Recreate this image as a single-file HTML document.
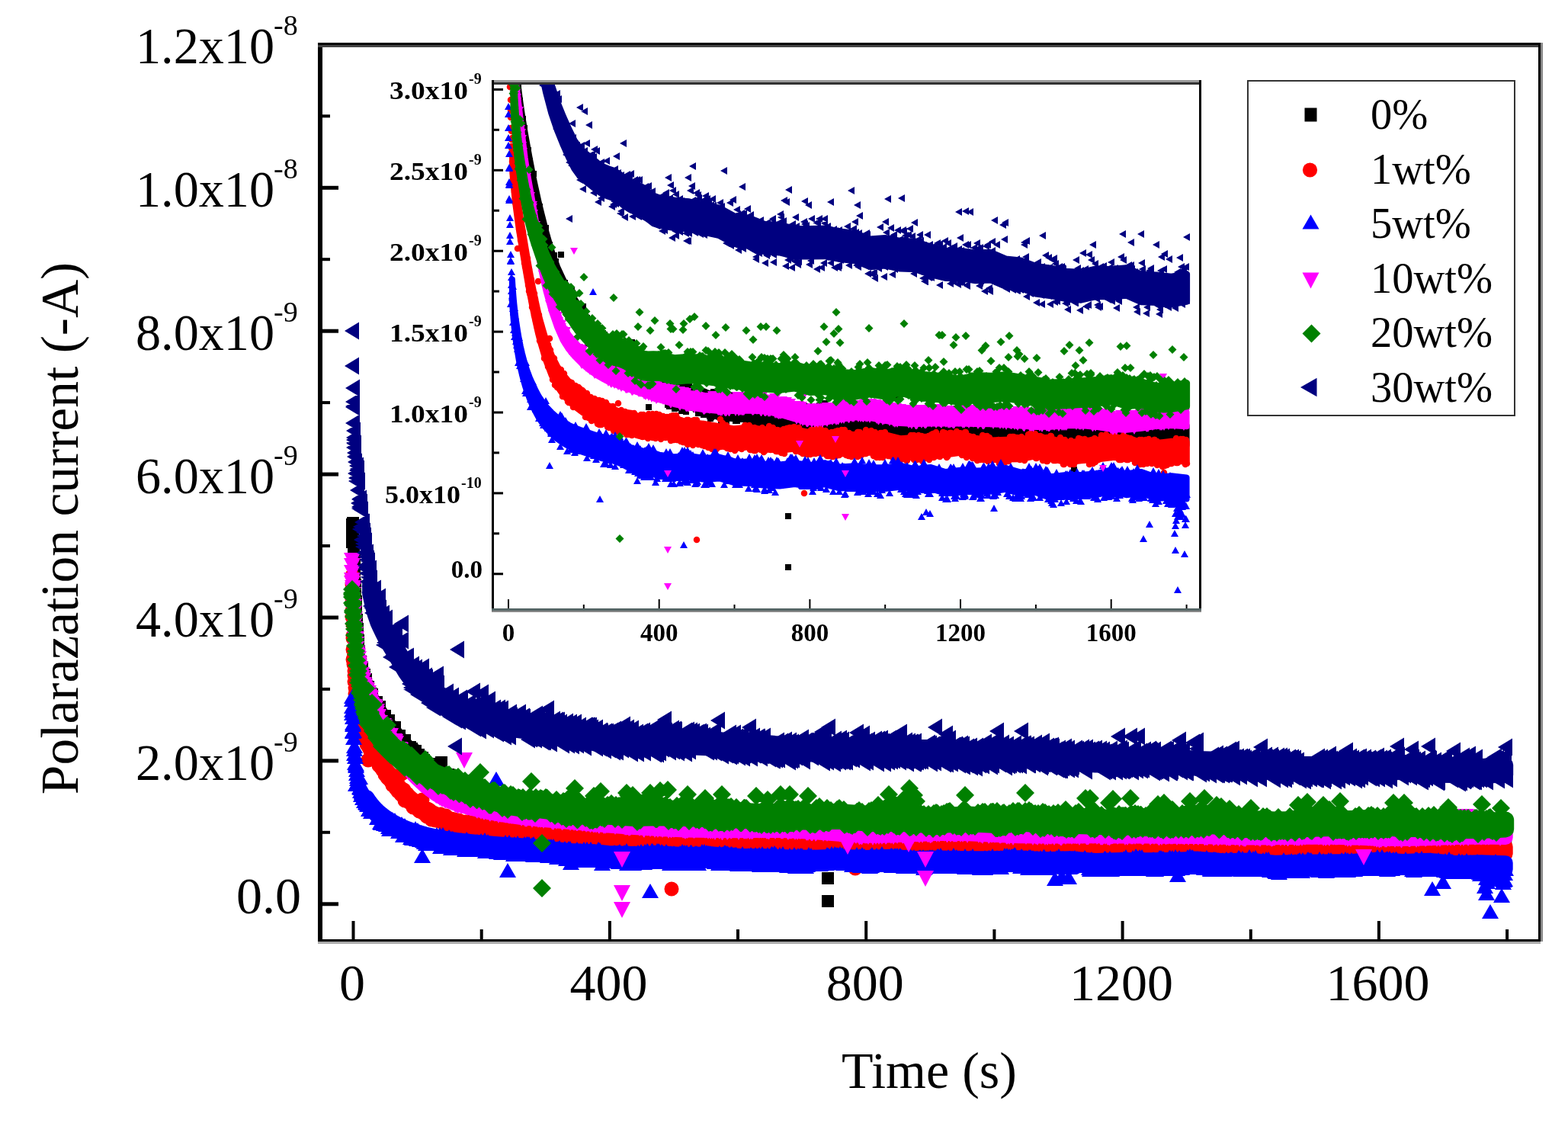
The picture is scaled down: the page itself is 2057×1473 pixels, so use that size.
<!DOCTYPE html>
<html><head><meta charset="utf-8"><style>
html,body{margin:0;padding:0;background:#fff;}
svg{display:block;}
text{font-family:"Liberation Serif","Times New Roman",serif;fill:#000;}
.tl{font-size:68px;}
.sup{font-size:38px;}
.il{font-size:33px;font-weight:bold;}
.isup{font-size:20px;font-weight:bold;}
.lg{font-size:56.5px;}
</style></head><body>
<svg width="2057" height="1473" viewBox="0 0 2057 1473">
<rect width="2057" height="1473" fill="#fff"/>
<defs><clipPath id="ic"><rect x="648" y="111" width="925" height="687"/></clipPath></defs>
<g id="main">
<rect x="417" y="56" width="6" height="1181" fill="#000"/>
<rect x="417" y="56" width="1604" height="3" fill="#000"/>
<rect x="417" y="59" width="1604" height="3" fill="#444"/>
<rect x="2018" y="56" width="3" height="1179" fill="#000"/>
<rect x="2021" y="56" width="3" height="1179" fill="#888"/>
<rect x="417" y="1232" width="1604" height="3" fill="#000"/>
<rect x="417" y="1235" width="1604" height="3" fill="#aaa"/>
<rect x="461.5" y="1208" width="4" height="25" fill="#000"/>
<rect x="629.7" y="1219" width="4" height="14" fill="#000"/>
<rect x="797.9" y="1208" width="4" height="25" fill="#000"/>
<rect x="966.0" y="1219" width="4" height="14" fill="#000"/>
<rect x="1134.2" y="1208" width="4" height="25" fill="#000"/>
<rect x="1302.4" y="1219" width="4" height="14" fill="#000"/>
<rect x="1470.6" y="1208" width="4" height="25" fill="#000"/>
<rect x="1638.8" y="1219" width="4" height="14" fill="#000"/>
<rect x="1806.9" y="1208" width="4" height="25" fill="#000"/>
<rect x="1975.1" y="1219" width="4" height="14" fill="#000"/>
<rect x="422" y="1183.3" width="22" height="5" fill="#000"/>
<rect x="422" y="1089.8" width="11" height="4" fill="#000"/>
<rect x="422" y="995.4" width="22" height="5" fill="#000"/>
<rect x="422" y="901.9" width="11" height="4" fill="#000"/>
<rect x="422" y="807.5" width="22" height="5" fill="#000"/>
<rect x="422" y="714.0" width="11" height="4" fill="#000"/>
<rect x="422" y="619.6" width="22" height="5" fill="#000"/>
<rect x="422" y="526.1" width="11" height="4" fill="#000"/>
<rect x="422" y="431.7" width="22" height="5" fill="#000"/>
<rect x="422" y="338.2" width="11" height="4" fill="#000"/>
<rect x="422" y="243.8" width="22" height="5" fill="#000"/>
<rect x="422" y="150.3" width="11" height="4" fill="#000"/>
<text x="462.0" y="1312" class="tl" text-anchor="middle">0</text>
<text x="798.4" y="1312" class="tl" text-anchor="middle">400</text>
<text x="1134.7" y="1312" class="tl" text-anchor="middle">800</text>
<text x="1471.1" y="1312" class="tl" text-anchor="middle">1200</text>
<text x="1807.4" y="1312" class="tl" text-anchor="middle">1600</text>
<text x="360" y="83.4" class="tl" text-anchor="end" textLength="182" lengthAdjust="spacingAndGlyphs">1.2x10</text>
<text x="359" y="46.4" class="sup">-8</text>
<text x="360" y="271.3" class="tl" text-anchor="end" textLength="182" lengthAdjust="spacingAndGlyphs">1.0x10</text>
<text x="359" y="234.3" class="sup">-8</text>
<text x="360" y="459.2" class="tl" text-anchor="end" textLength="182" lengthAdjust="spacingAndGlyphs">8.0x10</text>
<text x="359" y="422.2" class="sup">-9</text>
<text x="360" y="647.1" class="tl" text-anchor="end" textLength="182" lengthAdjust="spacingAndGlyphs">6.0x10</text>
<text x="359" y="610.1" class="sup">-9</text>
<text x="360" y="835.0" class="tl" text-anchor="end" textLength="182" lengthAdjust="spacingAndGlyphs">4.0x10</text>
<text x="359" y="798.0" class="sup">-9</text>
<text x="360" y="1022.9" class="tl" text-anchor="end" textLength="182" lengthAdjust="spacingAndGlyphs">2.0x10</text>
<text x="359" y="985.9" class="sup">-9</text>
<text x="395" y="1197.8" class="tl" text-anchor="end">0.0</text>
<text x="1219" y="1427" class="tl" text-anchor="middle">Time (s)</text>
<text transform="translate(102 693) rotate(-90)" class="tl" style="font-size:69.5px" text-anchor="middle">Polarazation current (-A)</text>
</g>

<g id="maindata">
<path d="M481.8 900.2 485.1 907.6 488.5 914.2 491.9 920.2 495.2 925.7 498.6 930.8 502.0 935.8 505.3 940.7 508.7 945.5 512.1 950.1 515.4 954.6 518.8 958.8 522.1 963.0 525.5 967.0 528.9 970.9 532.2 974.6 535.6 978.2 539.0 981.6 542.3 985.1 545.7 988.4 558.3 999.9 570.9 1009.0 583.5 1016.2 596.1 1022.2 608.8 1027.5 621.4 1032.4 634.0 1037.1 646.6 1041.5 659.2 1045.5 671.8 1048.9 684.4 1051.7 697.1 1054.1 709.7 1056.4 722.3 1059.0 734.9 1061.9 747.5 1064.6 760.1 1067.0 772.7 1069.1 785.3 1071.0 798.0 1072.8 831.6 1077.4 865.2 1079.2 898.9 1081.4 932.5 1085.3 966.1 1086.0 999.8 1086.7 1033.4 1089.8 1067.0 1091.4 1100.7 1092.6 1134.3 1092.8 1168.0 1092.9 1201.6 1095.7 1235.2 1096.1 1268.9 1094.5 1302.5 1095.8 1336.1 1096.7 1369.8 1096.7 1403.4 1097.1 1437.0 1096.2 1470.7 1097.3 1504.3 1098.5 1538.0 1097.5 1571.6 1098.3 1605.2 1098.8 1638.9 1098.0 1672.5 1099.2 1706.1 1099.4 1739.8 1099.0 1773.4 1100.1 1807.0 1099.5 1840.7 1099.3 1874.3 1100.0 1907.9 1099.5 1941.6 1100.8 1975.2 1101.3 1975.2 1109.0 1941.6 1108.6 1907.9 1107.3 1874.3 1107.8 1840.7 1107.1 1807.0 1107.2 1773.4 1107.8 1739.8 1106.8 1706.1 1107.2 1672.5 1107.0 1638.9 1105.8 1605.2 1106.6 1571.6 1106.0 1538.0 1105.3 1504.3 1106.3 1470.7 1105.0 1437.0 1104.0 1403.4 1104.8 1369.8 1104.5 1336.1 1104.4 1302.5 1103.5 1268.9 1102.2 1235.2 1103.8 1201.6 1103.4 1168.0 1100.6 1134.3 1100.5 1100.7 1100.4 1067.0 1099.2 1033.4 1097.5 999.8 1094.5 966.1 1093.7 932.5 1093.1 898.9 1089.2 865.2 1087.0 831.6 1085.1 798.0 1080.6 785.3 1078.7 772.7 1076.8 760.1 1074.8 747.5 1072.3 734.9 1069.6 722.3 1066.8 709.7 1064.2 697.1 1061.9 684.4 1059.5 671.8 1056.7 659.2 1053.3 646.6 1049.2 634.0 1044.8 621.4 1040.2 608.8 1035.3 596.1 1029.9 583.5 1023.9 570.9 1016.7 558.3 1007.7 545.7 996.2 542.3 992.8 539.0 989.4 535.6 985.9 532.2 982.4 528.9 978.6 525.5 974.8 522.1 970.8 518.8 966.6 515.4 962.3 512.1 957.9 508.7 953.2 505.3 948.4 502.0 943.5 498.6 938.6 495.2 933.4 491.9 928.0 488.5 921.9 485.1 915.3 481.8 907.9z" fill="#000000" stroke="#000000" stroke-width="16" stroke-linejoin="round"/>
<path d="M462 688h0m0 2h0m0 3h0m0 4h0m0 1h0m1 4h0m0 -16h0m0 15h0m0 7h0m0 3h0m1 1h0m0 4h0m0 5h0m1 11h0m0 9h0m0 10h0m1 16h0m0 8h0m1 14h0m0 9h0m0 11h0m1 4h0m0 12h0m1 0h0m0 7h0m1 8h0m0 12h0m0 1h0m1 1h0m0 3h0m1 11h0m0 0h0m1 5h0m0 2h0m0 -7h0m1 12h0m0 -2h0m1 -3h0m0 10h0m0 -1h0m1 1h0m0 2h0m1 8h0m0 -5h0m1 -5h0m0 15h0m0 -10h0m1 5h0m0 6h0m1 -10h0m0 4h0m1 12h0m0 -6h0m0 -1h0m1 5h0m0 -4h0m1 5h0m0 -3h0m0 -2h0m1 12h0m0 -5h0m1 5h0m0 -2h0m1 7h0m0 -1h0m0 -2h0m1 -5h0m1 1h0m1 13h0m0 0h0m2 6h0m3 -9h0m0 3h0m4 3h0m5 20h0m2 -8h0m5 6h0m2 15h0m2 3h0m1 1h0m1 0h0m2 -10h0m1 13h0m5 -2h0m2 11h0m2 3h0m2 1h0m1 -9h0m4 17h0m1 0h0m1 3h0m1 -11h0m1 12h0m1 -10h0m1 10h0m0 -8h0m2 12h0m1 -11h0m1 0h0m3 15h0m1 -10h0m3 12h0m1 4h0m1 -12h0m2 3h0m1 10h0m6 6h0m0 -1h0m1 -10h0m2 13h0m2 -11h0m0 14h0m3 2h0m1 -11h0m2 10h0m4 3h0m0 1h0m1 -23h0m9 16h0m1 3h0m2 11h0m1 -11h0m1 0h0m2 2h0m1 0h0m1 0h0m2 0h0m1 13h0m0 -11h0m2 1h0m1 -2h0m1 1h0m1 12h0m0 2h0m1 -11h0m1 10h0m2 -9h0m1 11h0m0 1h0m5 -1h0m0 3h0m2 -1h0m1 2h0m3 0h0m2 0h0m1 0h0m2 0h0m2 -10h0m1 13h0m1 -10h0m2 12h0m2 -10h0m3 -1h0m2 14h0m1 -3h0m1 3h0m1 1h0m1 -13h0m2 13h0m1 -1h0m1 -10h0m4 2h0m2 11h0m2 -1h0m1 -9h0m1 12h0m2 1h0m1 -13h0m1 0h0m2 3h0m1 12h0m4 -1h0m2 -10h0m3 -1h0m2 15h0m1 -14h0m1 2h0m1 0h0m6 0h0m4 1h0m3 12h0m2 -10h0m4 13h0m2 -2h0m1 -9h0m0 9h0m2 -11h0m4 13h0m2 -12h0m3 13h0m1 1h0m1 0h0m1 -12h0m1 11h0m1 -10h0m0 -1h0m3 0h0m2 14h0m2 -12h0m1 1h0m1 11h0m1 -1h0m9 -9h0m2 -8h0m0 22h0m2 1h0m1 -1h0m1 -11h0m1 1h0m1 11h0m2 -2h0m2 -11h0m1 12h0m1 2h0m3 0h0m1 0h0m1 -11h0m1 0h0m1 1h0m5 12h0m1 1h0m1 -11h0m2 -1h0m1 13h0m1 -3h0m3 -9h0m2 12h0m1 -1h0m1 -9h0m0 20h0m1 -9h0m1 -13h0m2 1h0m2 12h0m1 -13h0m2 1h0m2 14h0m2 -12h0m1 11h0m1 -11h0m1 11h0m5 0h0m1 1h0m1 1h0m2 -11h0m1 11h0m2 -1h0m1 -9h0m2 -2h0m1 11h0m2 0h0m4 2h0m3 -10h0m1 10h0m1 2h0m2 -1h0m1 2h0m2 -13h0m0 13h0m1 -1h0m1 -1h0m1 1h0m2 -1h0m0 0h0m2 0h0m2 1h0m1 1h0m0 1h0m1 -14h0m5 1h0m1 12h0m1 2h0m1 -2h0m1 1h0m1 -10h0m0 0h0m1 9h0m1 2h0m2 -13h0m1 14h0m1 -2h0m1 -11h0m1 11h0m2 1h0m0 -1h0m1 -12h0m1 2h0m2 10h0m1 2h0m4 -1h0m2 -12h0m1 -1h0m2 12h0m2 0h0m2 1h0m4 -1h0m1 1h0m4 1h0m2 0h0m3 1h0m5 -1h0m3 1h0m5 1h0m8 1h0m2 -12h0m1 0h0m2 12h0m0 -11h0m2 12h0m2 0h0m1 0h0m1 -12h0m3 -1h0m1 0h0m2 13h0m1 -2h0m3 -8h0m1 9h0m2 -8h0m2 -1h0m3 11h0m1 1h0m3 0h0m3 -1h0m1 2h0m1 -12h0m4 1h0m0 11h0m3 -11h0m1 -3h0m1 1h0m2 2h0m3 -1h0m1 -2h0m3 1h0m2 -1h0m0 12h0m3 -10h0m1 -1h0m1 12h0m1 -1h0m2 1h0m1 -12h0m3 0h0m2 0h0m1 11h0m1 -1h0m1 0h0m1 -8h0m2 9h0m2 -10h0m3 -1h0m1 -1h0m1 0h0m2 1h0m2 11h0m1 14h0m1 -14h0m1 2h0m1 0h0m2 -2h0m5 1h0m1 1h0m1 -11h0m2 10h0m2 -8h0m1 10h0m1 -1h0m2 -12h0m1 2h0m1 1h0m1 -3h0m3 2h0m3 -1h0m1 0h0m2 3h0m0 11h0m4 -10h0m1 10h0m2 -2h0m3 3h0m1 -13h0m2 1h0m1 -2h0m2 14h0m0 -2h0m1 1h0m3 2h0m1 -1h0m6 1h0m2 -14h0m1 0h0m1 1h0m0 2h0m1 8h0m1 -10h0m6 12h0m2 -13h0m3 3h0m1 10h0m2 -10h0m2 -2h0m1 -16h0m3 16h0m0 14h0m5 -13h0m0 13h0m1 -11h0m4 9h0m0 2h0m2 0h0m3 -13h0m2 13h0m1 -2h0m1 0h0m1 1h0m2 2h0m1 -11h0m5 -2h0m3 12h0m4 0h0m1 -13h0m1 13h0m1 1h0m3 -3h0m3 0h0m2 -9h0m1 -3h0m0 13h0m2 -1h0m1 -9h0m1 10h0m2 0h0m1 0h0m2 2h0m1 -1h0m3 0h0m2 -11h0m2 9h0m3 1h0m1 -1h0m0 -11h0m2 1h0m2 0h0m2 -2h0m1 3h0m4 -1h0m1 12h0m4 -13h0m1 2h0m1 10h0m1 -15h0m1 3h0m1 2h0m2 -2h0m1 12h0m3 -9h0m5 10h0m1 -10h0m1 10h0m3 1h0m1 0h0m1 -11h0m1 -2h0m1 0h0m2 3h0m2 -2h0m1 13h0m1 -11h0m1 -1h0m4 2h0m3 12h0m1 -12h0m1 1h0m2 -1h0m2 9h0m2 -10h0m1 13h0m0 -35h0m2 34h0m1 -12h0m2 12h0m1 -11h0m1 0h0m3 1h0m8 -1h0m2 0h0m1 -1h0m1 -1h0m1 11h0m1 -9h0m2 -2h0m0 0h0m1 14h0m1 -2h0m2 -10h0m1 0h0m4 -1h0m1 12h0m1 -2h0m1 -10h0m2 10h0m2 0h0m0 0h0m1 1h0m3 -12h0m1 0h0m4 0h0m4 10h0m1 -10h0m2 10h0m4 -12h0m1 0h0m1 2h0m6 13h0m2 0h0m2 -3h0m0 0h0m3 2h0m1 1h0m1 -1h0m0 1h0m1 -2h0m1 -11h0m1 12h0m2 1h0m4 -13h0m2 12h0m3 -10h0m2 -2h0m0 14h0m2 -12h0m2 10h0m1 1h0m2 -13h0m1 2h0m1 11h0m1 -1h0m1 -10h0m1 10h0m1 -1h0m1 -8h0m1 0h0m1 10h0m1 1h0m1 -2h0m1 3h0m1 -12h0m2 -13h0m1 12h0m1 11h0m1 -10h0m1 -1h0m0 10h0m1 1h0m2 1h0m1 -13h0m1 14h0m0 -2h0m6 -11h0m0 13h0m2 -3h0m3 0h0m1 -9h0m2 8h0m1 -11h0m1 0h0m0 34h0m2 -34h0m1 3h0m5 0h0m3 10h0m1 -1h0m2 -10h0m6 1h0m1 10h0m0 -11h0m2 10h0m2 0h0m2 0h0m0 -10h0m1 10h0m1 3h0m1 -3h0m1 3h0m1 -13h0m2 12h0m1 -2h0m1 -11h0m2 2h0m1 -2h0m1 1h0m4 11h0m2 0h0m2 -12h0m1 12h0m4 -11h0m1 10h0m1 3h0m1 -2h0m2 0h0m6 2h0m0 -2h0m1 -12h0m1 14h0m3 -3h0m4 2h0m1 -2h0m4 -10h0m2 0h0m0 -1h0m1 0h0m1 0h0m3 1h0m0 11h0m4 1h0m1 -2h0m1 -10h0m1 0h0m3 10h0m3 -12h0m2 14h0m1 -2h0m0 2h0m1 -1h0m1 -12h0m2 13h0m1 -12h0m2 15h0m3 -15h0m1 0h0m1 0h0m1 0h0m2 13h0m2 4h0m1 -16h0m2 10h0m1 -11h0m2 2h0m1 -1h0m2 13h0m0 -3h0m2 1h0m2 -11h0m1 12h0m1 -13h0m2 13h0m3 -2h0m0 -8h0m2 9h0m2 -9h0m3 -3h0m1 12h0m1 -11h0m2 2h0m1 0h0m1 -2h0m5 0h0m2 1h0m1 -1h0m1 13h0m1 -1h0m1 0h0m1 -13h0m1 12h0m0 -11h0m2 -1h0m1 2h0m6 -2h0m1 13h0m1 -1h0m2 -10h0m2 0h0m1 11h0m0 -12h0m4 13h0m1 -3h0m1 -11h0m3 13h0m1 -13h0m1 -1h0m2 14h0m1 -11h0m1 -3h0m1 3h0m0 -2h0m2 12h0m1 -12h0m1 12h0m2 -10h0m3 9h0m1 2h0m1 -2h0m1 2h0m1 0h0m2 1h0m1 -1h0m0 1h0m3 -14h0m1 14h0m1 -3h0m0 -9h0m3 -2h0m2 13h0m0 1h0m3 0h0m1 -1h0m2 -17h0m3 19h0m3 0h0m2 -12h0m1 -2h0m1 14h0m0 -15h0m1 13h0m1 -10h0m1 -1h0m1 1h0m1 11h0m2 -2h0m1 3h0m1 -15h0m1 4h0m1 -3h0m0 12h0m1 -12h0m1 0h0m1 0h0m2 12h0m1 2h0m1 19h0m2 -21h0m2 -13h0m1 1h0m2 0h0m1 11h0m1 -10h0m1 11h0m2 -23h0m2 10h0m0 11h0m2 1h0m1 1h0m1 0h0m1 -12h0m0 -1h0m2 11h0m1 -8h0m2 -1h0m5 12h0m1 -1h0m2 -1h0m3 1h0m0 -1h0m1 0h0m1 -9h0m1 -3h0m1 2h0m1 -1h0m1 13h0m1 -13h0m2 14h0m1 -15h0m1 1h0m0 12h0m4 1h0m1 -2h0m2 -10h0m2 -2h0m1 12h0m1 3h0m1 -1h0m1 -12h0m1 11h0m2 1h0m4 -10h0m2 9h0m3 -10h0m1 -2h0m0 3h0m3 9h0m1 0h0m1 1h0m2 -10h0m3 10h0m1 -12h0m1 0h0m1 2h0m1 -2h0m2 2h0m0 -3h0m1 13h0m1 -11h0m1 -1h0m2 2h0m0 -2h0m3 11h0m1 -1h0m4 3h0m1 18h0m1 -31h0m1 2h0m4 11h0m1 -11h0m0 -4h0m1 15h0m1 -12h0m2 27h0m1 -28h0m0 12h0m2 -13h0m4 0h0m1 12h0m1 -10h0m1 11h0m1 -10h0m1 15h0m0 -4h0m2 -2h0m2 -12h0m1 13h0m0 -1h0m1 -12h0m2 0h0m2 12h0m1 -11h0m1 1h0m4 -2h0m2 13h0m2 -10h0m2 8h0m2 3h0m1 0h0m1 -11h0m2 -1h0m3 -1h0m1 3h0m1 0h0m1 -12h0m1 21h0m2 2h0m4 0h0m3 -1h0m2 0h0m1 -12h0m1 10h0m2 -10h0m3 0h0m1 13h0m1 -2h0m1 0h0m1 0h0m1 0h0m0 0h0m2 0h0m3 -1h0m1 -11h0m4 11h0m1 -9h0m1 9h0m2 -10h0m2 11h0m1 -1h0m2 -12h0m6 0h0m1 1h0m3 12h0m3 1h0m1 -12h0m5 11h0m1 -1h0m4 0h0m2 -11h0m1 12h0m1 -12h0m1 2h0m1 0h0m1 11h0m1 0h0m1 -1h0m4 2h0m2 -1h0m2 -1h0m1 1h0m1 -1h0m3 0h0m1 -1h0m1 1h0m2 2h0m0 -13h0m2 10h0m2 -9h0m1 -1h0m2 0h0m1 0h0m2 0h0m2 11h0m2 -10h0m1 11h0m3 1h0m3 -3h0m1 3h0m3 -12h0m1 12h0m0 -11h0m2 -1h0m1 10h0m2 -13h0m0 12h0m1 0h0m2 1h0m1 -11h0m1 -1h0m1 11h0m0 2h0m1 -12h0m1 0h0m1 1h0m1 -1h0m1 10h0m1 2h0m1 0h0m1 -12h0m2 -2h0m2 3h0m1 -3h0m2 13h0m1 -12h0m2 11h0m1 -10h0m2 11h0m1 -1h0m3 -10h0m1 2h0m0 10h0m2 -11h0m2 0h0m1 10h0m1 -10h0m1 11h0m1 1h0m1 -12h0m1 10h0m1 2h0m1 0h0m1 -1h0m3 2h0m0 -12h0m1 11h0m1 -1h0m1 -9h0m2 11h0m0 -14h0m1 12h0m3 -11h0m2 1h0m0 10h0m1 -10h0m1 10h0m2 -12h0m2 0h0m2 12h0m1 -9h0m1 10h0m0 -11h0m1 0h0m4 11h0m2 2h0m4 -2h0m-888 41h0m0 30h0m-624 -494h0m0 23h0" stroke="#000000" stroke-width="16" stroke-linecap="square" fill="none"/>
<path d="M481.8 968.9 485.1 975.1 488.5 980.7 491.9 986.0 495.2 991.2 498.6 996.4 502.0 1001.7 505.3 1006.8 508.7 1011.6 512.1 1016.2 515.4 1020.6 518.8 1024.9 522.1 1029.1 525.5 1033.1 528.9 1036.8 532.2 1040.2 535.6 1043.3 539.0 1046.3 542.3 1049.2 545.7 1051.9 558.3 1060.7 570.9 1067.1 583.5 1071.8 596.1 1075.6 608.8 1078.7 621.4 1081.1 634.0 1083.3 646.6 1085.7 659.2 1087.4 671.8 1088.3 684.4 1089.6 697.1 1091.7 709.7 1093.3 722.3 1093.5 734.9 1094.0 747.5 1095.4 760.1 1096.5 772.7 1096.0 785.3 1095.6 798.0 1096.5 831.6 1096.9 865.2 1099.7 898.9 1100.3 932.5 1101.7 966.1 1103.2 999.8 1102.4 1033.4 1103.7 1067.0 1104.2 1100.7 1103.5 1134.3 1105.3 1168.0 1105.5 1201.6 1105.6 1235.2 1106.7 1268.9 1105.6 1302.5 1106.6 1336.1 1108.8 1369.8 1108.2 1403.4 1108.2 1437.0 1106.9 1470.7 1105.7 1504.3 1108.6 1538.0 1109.9 1571.6 1109.5 1605.2 1109.4 1638.9 1107.5 1672.5 1108.9 1706.1 1111.4 1739.8 1110.3 1773.4 1109.7 1807.0 1108.5 1840.7 1108.1 1874.3 1111.2 1907.9 1111.5 1941.6 1110.4 1975.2 1110.8 1975.2 1118.6 1941.6 1118.2 1907.9 1119.3 1874.3 1119.0 1840.7 1115.9 1807.0 1116.3 1773.4 1117.4 1739.8 1118.1 1706.1 1119.2 1672.5 1116.7 1638.9 1115.3 1605.2 1117.2 1571.6 1117.3 1538.0 1117.7 1504.3 1116.4 1470.7 1113.5 1437.0 1114.7 1403.4 1116.0 1369.8 1116.0 1336.1 1116.6 1302.5 1114.4 1268.9 1113.4 1235.2 1114.5 1201.6 1113.3 1168.0 1113.3 1134.3 1113.1 1100.7 1111.3 1067.0 1112.0 1033.4 1111.5 999.8 1110.1 966.1 1111.0 932.5 1109.5 898.9 1108.0 865.2 1107.5 831.6 1104.7 798.0 1104.3 785.3 1103.4 772.7 1103.8 760.1 1104.2 747.5 1103.2 734.9 1101.7 722.3 1101.3 709.7 1101.1 697.1 1099.5 684.4 1097.4 671.8 1096.1 659.2 1095.2 646.6 1093.4 634.0 1091.1 621.4 1088.9 608.8 1086.5 596.1 1083.3 583.5 1079.6 570.9 1074.9 558.3 1068.5 545.7 1059.7 542.3 1057.0 539.0 1054.1 535.6 1051.1 532.2 1048.0 528.9 1044.6 525.5 1040.9 522.1 1036.9 518.8 1032.7 515.4 1028.4 512.1 1024.0 508.7 1019.4 505.3 1014.5 502.0 1009.5 498.6 1004.2 495.2 999.0 491.9 993.8 488.5 988.4 485.1 982.8 481.8 976.7z" fill="#ff0000" stroke="#ff0000" stroke-width="19" stroke-linejoin="round"/>
<path d="M462 755h0m0 12h0m0 19h0m0 15h0m0 8h0m1 10h0m0 15h0m0 3h0m0 28h0m0 -13h0m1 10h0m0 8h0m0 1h0m1 9h0m0 6h0m0 8h0m1 8h0m0 8h0m1 6h0m0 4h0m0 6h0m1 2h0m0 9h0m1 -4h0m0 4h0m1 -4h0m0 5h0m0 8h0m1 -3h0m0 9h0m1 0h0m0 4h0m1 -10h0m0 4h0m0 9h0m1 -4h0m0 -3h0m1 3h0m0 1h0m0 8h0m1 0h0m0 -3h0m1 -3h0m0 9h0m1 2h0m0 -8h0m0 9h0m1 -8h0m0 5h0m1 -2h0m0 -1h0m1 3h0m0 1h0m0 8h0m1 0h0m0 -6h0m1 27h0m0 -27h0m0 0h0m1 5h0m0 1h0m1 -2h0m0 5h0m1 1h0m0 5h0m0 -8h0m1 9h0m2 4h0m0 -9h0m1 11h0m1 -7h0m1 10h0m2 -7h0m0 10h0m3 6h0m2 2h0m2 2h0m1 2h0m2 1h0m0 -8h0m1 13h0m1 -8h0m1 1h0m1 11h0m1 1h0m3 -6h0m2 12h0m1 3h0m1 0h0m3 4h0m1 -10h0m0 2h0m1 2h0m1 10h0m4 4h0m1 -27h0m3 21h0m1 14h0m3 -9h0m2 10h0m1 -6h0m3 9h0m2 5h0m2 -1h0m3 -6h0m0 1h0m3 11h0m1 -10h0m1 1h0m2 -6h0m1 8h0m5 14h0m1 -10h0m2 1h0m1 2h0m2 11h0m3 0h0m1 -1h0m1 2h0m2 -8h0m0 0h0m1 8h0m4 -8h0m2 2h0m1 33h0m2 -22h0m1 -10h0m1 -1h0m1 2h0m1 1h0m4 9h0m1 -8h0m1 9h0m1 2h0m0 -2h0m1 2h0m1 0h0m1 -10h0m3 1h0m0 0h0m2 0h0m3 11h0m1 -1h0m4 -7h0m1 -1h0m1 2h0m1 -2h0m5 1h0m2 10h0m1 -10h0m2 1h0m3 9h0m1 -9h0m1 11h0m1 -10h0m1 10h0m1 -8h0m3 10h0m2 -1h0m1 -11h0m2 12h0m2 1h0m1 -10h0m2 8h0m2 -8h0m1 10h0m0 2h0m2 -1h0m2 -9h0m1 8h0m0 -8h0m1 8h0m1 -9h0m1 1h0m3 9h0m1 -8h0m1 10h0m1 -10h0m1 10h0m1 -1h0m0 1h0m1 -11h0m3 9h0m1 -8h0m0 11h0m2 -12h0m3 3h0m1 7h0m1 -8h0m5 0h0m1 2h0m1 -17h0m1 26h0m1 -9h0m0 0h0m1 8h0m1 2h0m1 -1h0m1 -9h0m1 9h0m2 -9h0m4 0h0m0 1h0m2 10h0m1 -1h0m2 0h0m0 -8h0m3 1h0m2 8h0m1 -15h0m1 16h0m2 -9h0m2 8h0m0 1h0m2 -9h0m1 -1h0m2 1h0m0 9h0m2 -1h0m2 -7h0m1 -1h0m0 9h0m1 -10h0m2 10h0m2 1h0m6 0h0m1 -1h0m4 2h0m0 0h0m4 -10h0m1 -1h0m2 10h0m1 0h0m9 2h0m4 -11h0m1 10h0m3 1h0m1 -10h0m1 1h0m4 0h0m3 0h0m2 1h0m1 9h0m0 -11h0m1 -1h0m1 1h0m2 9h0m1 0h0m1 -8h0m2 -1h0m1 -1h0m1 11h0m1 -2h0m1 2h0m3 -10h0m1 10h0m0 -10h0m1 -1h0m4 11h0m2 -8h0m1 -3h0m1 3h0m1 -2h0m1 11h0m1 0h0m2 -2h0m1 -6h0m1 -3h0m1 1h0m1 2h0m3 0h0m0 8h0m2 -8h0m2 -2h0m1 1h0m0 8h0m2 0h0m2 0h0m1 -8h0m1 0h0m2 10h0m1 -12h0m2 1h0m1 2h0m1 -3h0m2 1h0m1 10h0m0 -9h0m5 -2h0m0 12h0m2 -3h0m1 -8h0m3 2h0m1 -1h0m3 10h0m1 -9h0m2 -1h0m1 11h0m1 0h0m1 0h0m1 14h0m3 -23h0m2 9h0m0 0h0m1 -11h0m1 12h0m2 -11h0m1 9h0m2 -7h0m1 -1h0m1 9h0m1 -8h0m1 -1h0m1 -1h0m2 11h0m1 -11h0m1 2h0m2 -3h0m1 11h0m1 -9h0m3 -1h0m1 10h0m2 1h0m3 -1h0m2 -9h0m4 10h0m1 -10h0m1 1h0m1 10h0m1 0h0m1 0h0m1 -2h0m1 -8h0m3 1h0m3 10h0m2 -11h0m4 1h0m2 9h0m1 2h0m1 0h0m1 0h0m1 -10h0m1 1h0m1 9h0m1 -10h0m1 8h0m1 -8h0m1 10h0m1 -1h0m1 0h0m0 0h0m1 -9h0m1 9h0m1 0h0m1 -1h0m2 -8h0m1 -6h0m1 15h0m3 -1h0m1 -10h0m3 0h0m1 9h0m0 0h0m1 1h0m4 -9h0m1 1h0m1 9h0m3 -9h0m1 7h0m2 3h0m3 -1h0m2 0h0m1 0h0m1 -7h0m2 8h0m2 1h0m5 -10h0m3 1h0m5 -2h0m0 1h0m2 9h0m3 -10h0m2 1h0m3 -2h0m1 0h0m2 10h0m7 -10h0m1 11h0m1 -1h0m1 1h0m1 -2h0m4 1h0m1 1h0m1 -33h0m1 32h0m1 -9h0m0 11h0m1 16h0m1 -27h0m3 9h0m3 -7h0m1 -1h0m4 10h0m3 -1h0m0 -10h0m1 10h0m1 0h0m2 2h0m1 -2h0m0 1h0m1 -1h0m3 -9h0m1 1h0m0 -1h0m3 0h0m2 7h0m1 -8h0m0 1h0m2 0h0m1 0h0m1 9h0m1 0h0m2 -2h0m1 -8h0m2 9h0m1 1h0m4 1h0m3 -10h0m1 10h0m2 -2h0m5 2h0m0 1h0m3 0h0m1 -1h0m1 -10h0m1 1h0m1 1h0m1 9h0m5 -11h0m1 0h0m2 10h0m0 -11h0m2 1h0m1 -1h0m1 10h0m4 -10h0m2 1h0m3 -2h0m1 10h0m2 1h0m1 1h0m1 -10h0m1 8h0m2 1h0m1 0h0m2 -10h0m1 3h0m1 0h0m0 9h0m2 -1h0m1 -8h0m4 9h0m2 0h0m1 0h0m1 -1h0m2 -8h0m3 0h0m1 10h0m2 -1h0m1 0h0m1 -21h0m2 12h0m1 10h0m2 -12h0m1 2h0m0 -1h0m2 10h0m1 0h0m1 -8h0m1 -1h0m0 7h0m3 2h0m2 -11h0m0 -1h0m2 1h0m2 9h0m1 3h0m1 -11h0m1 -2h0m3 12h0m1 -11h0m2 12h0m1 -10h0m1 0h0m1 7h0m2 -7h0m2 -1h0m1 9h0m2 3h0m1 -2h0m1 -8h0m2 8h0m1 2h0m4 -2h0m0 -8h0m1 -1h0m2 2h0m1 9h0m1 0h0m5 -9h0m1 -3h0m1 12h0m1 -11h0m3 -1h0m3 11h0m2 -2h0m2 0h0m1 -9h0m1 10h0m2 0h0m4 -11h0m2 11h0m1 1h0m1 -2h0m2 -7h0m1 10h0m1 -1h0m1 1h0m1 -11h0m2 10h0m1 -9h0m3 10h0m1 -10h0m2 0h0m1 -20h0m2 21h0m4 0h0m1 -1h0m1 -1h0m1 11h0m2 -11h0m1 11h0m1 -11h0m2 10h0m1 -9h0m1 8h0m1 1h0m2 -1h0m2 0h0m2 -8h0m2 8h0m1 0h0m1 -10h0m1 1h0m1 8h0m1 -8h0m1 9h0m1 -9h0m1 1h0m4 8h0m1 -9h0m1 -2h0m1 4h0m2 8h0m1 -9h0m0 10h0m1 -2h0m2 1h0m1 -10h0m1 1h0m2 10h0m1 0h0m6 0h0m2 -10h0m0 0h0m3 0h0m1 -1h0m1 11h0m2 -10h0m1 9h0m2 -11h0m1 -18h0m3 20h0m2 9h0m1 1h0m1 -2h0m1 2h0m1 0h0m1 -2h0m0 1h0m2 -8h0m2 8h0m1 -8h0m0 10h0m1 0h0m1 -9h0m2 -1h0m2 9h0m2 -1h0m1 0h0m1 2h0m1 0h0m0 -9h0m2 9h0m1 0h0m2 1h0m2 1h0m1 -1h0m2 -9h0m0 9h0m1 -1h0m1 -8h0m4 -1h0m1 1h0m4 9h0m0 -1h0m1 -8h0m1 9h0m1 -10h0m4 0h0m4 -2h0m0 2h0m1 8h0m2 0h0m2 -10h0m1 12h0m1 -10h0m2 8h0m3 -8h0m1 10h0m1 -11h0m1 0h0m2 1h0m2 0h0m2 9h0m1 -7h0m1 -3h0m1 12h0m2 -10h0m0 9h0m2 -11h0m1 1h0m1 9h0m1 -9h0m0 0h0m1 1h0m3 8h0m2 -8h0m1 -2h0m2 12h0m4 -3h0m1 -10h0m1 9h0m1 -7h0m1 8h0m1 -10h0m1 11h0m1 -2h0m2 -8h0m3 -3h0m2 11h0m1 -1h0m4 0h0m0 -7h0m1 9h0m3 -2h0m1 0h0m1 0h0m1 -9h0m1 2h0m1 -1h0m2 0h0m0 1h0m1 -1h0m1 -1h0m3 12h0m1 -1h0m4 -10h0m0 0h0m2 0h0m1 -1h0m2 10h0m0 -10h0m5 1h0m1 1h0m0 -2h0m2 9h0m2 -8h0m1 -2h0m3 1h0m1 1h0m3 0h0m1 0h0m3 0h0m0 0h0m1 10h0m1 -2h0m1 -1h0m2 -7h0m4 -1h0m2 0h0m2 12h0m3 -10h0m3 1h0m7 9h0m0 0h0m1 -10h0m6 9h0m1 -8h0m1 8h0m1 -8h0m1 10h0m0 -1h0m1 -9h0m2 8h0m2 1h0m1 1h0m4 -10h0m0 8h0m1 -9h0m2 11h0m1 1h0m1 -12h0m2 9h0m1 1h0m1 -10h0m2 0h0m1 12h0m1 -10h0m3 -1h0m1 1h0m2 8h0m2 -8h0m1 1h0m5 0h0m2 9h0m3 0h0m2 -8h0m1 7h0m2 -9h0m1 11h0m2 -10h0m2 0h0m10 9h0m1 -2h0m0 0h0m4 0h0m1 -7h0m1 9h0m2 -1h0m1 -11h0m3 29h0m2 -29h0m2 2h0m0 -1h0m1 9h0m1 -10h0m1 3h0m1 -1h0m1 8h0m0 -8h0m3 -2h0m3 2h0m1 0h0m2 -1h0m1 0h0m1 10h0m1 -1h0m2 -9h0m1 2h0m1 8h0m1 -10h0m4 10h0m0 -9h0m3 7h0m1 0h0m4 -10h0m1 0h0m1 9h0m1 -9h0m2 0h0m1 0h0m3 9h0m1 0h0m2 -8h0m3 10h0m1 -11h0m1 12h0m2 -1h0m2 -10h0m1 9h0m2 1h0m3 -10h0m2 0h0m0 2h0m1 9h0m3 0h0m1 -10h0m2 9h0m4 2h0m1 -11h0m1 10h0m1 1h0m1 -2h0m1 0h0m1 0h0m2 0h0m1 -10h0m1 0h0m1 10h0m1 -8h0m1 8h0m2 -8h0m1 9h0m0 -1h0m1 0h0m1 1h0m1 -2h0m1 1h0m1 1h0m2 0h0m3 -1h0m1 -8h0m1 0h0m1 1h0m2 -2h0m1 0h0m2 1h0m1 9h0m2 0h0m2 2h0m2 1h0m1 -12h0m0 1h0m1 0h0m2 1h0m1 -1h0m1 1h0m0 0h0m1 9h0m3 0h0m1 0h0m1 -9h0m1 10h0m1 -11h0m1 0h0m3 1h0m2 9h0m2 1h0m1 -11h0m2 1h0m2 0h0m1 7h0m3 -9h0m1 0h0m1 9h0m1 0h0m2 -9h0m2 9h0m1 -8h0m4 18h0m1 -19h0m1 0h0m2 1h0m2 8h0m1 1h0m4 -8h0m0 10h0m2 0h0m2 -2h0m1 -10h0m1 11h0m3 0h0m3 -2h0m1 -10h0m2 12h0m1 -2h0m3 0h0m2 0h0m1 -1h0m2 -8h0m4 -3h0m3 2h0m1 8h0m4 -9h0m1 0h0m2 -1h0m1 11h0m2 -9h0m1 1h0m2 0h0m1 -2h0m5 10h0m1 -8h0m1 -2h0m0 0h0m1 1h0m1 9h0m1 -10h0m1 9h0m1 -9h0m1 10h0m1 -8h0m3 8h0m2 -9h0m1 0h0m1 10h0m2 -1h0m1 0h0m3 1h0m2 -1h0m1 -1h0m1 -10h0m1 1h0m1 11h0m0 -1h0m2 0h0m4 1h0m0 0h0m1 -1h0m1 -9h0m2 10h0m1 -9h0m4 -1h0m4 10h0m3 -8h0m2 0h0m1 10h0m2 -2h0m1 1h0m1 -9h0m1 1h0m1 7h0m1 2h0m2 -11h0m1 11h0m1 1h0m3 -10h0m1 -2h0m3 12h0m1 -10h0m2 -1h0m2 -1h0m1 10h0m2 1h0m1 0h0m1 -9h0m1 -2h0m3 10h0m1 -9h0m2 1h0m2 10h0m1 -10h0m3 -2h0m1 1h0m1 -1h0m1 11h0m0 -2h0m1 -7h0m1 9h0m1 -1h0m1 2h0m1 -11h0m0 1h0m6 8h0m0 -8h0m2 9h0m1 -9h0m3 11h0m2 -1h0m1 -10h0m1 16h0m0 -5h0m3 -32h0m1 31h0m1 -10h0m0 10h0m2 -2h0m2 -8h0m2 0h0m1 9h0m1 -1h0m3 1h0m1 -9h0m1 0h0m2 8h0m4 -9h0m2 -1h0m1 11h0m0 -2h0m2 1h0m1 -9h0m1 9h0m1 -1h0m5 -10h0m1 11h0m1 -9h0m1 1h0m1 -1h0m1 -1h0m0 10h0m1 -9h0m1 0h0m3 11h0m1 -12h0m1 11h0m-1094 46h0m241 -27h0" stroke="#ff0000" stroke-width="19" stroke-linecap="round" fill="none"/>
<path d="M481.8 1045.9 485.1 1050.9 488.5 1055.3 491.9 1059.2 495.2 1062.6 498.6 1065.6 502.0 1068.4 505.3 1070.9 508.7 1073.2 512.1 1075.4 515.4 1077.4 518.8 1079.2 522.1 1081.0 525.5 1082.6 528.9 1084.2 532.2 1085.6 535.6 1086.9 539.0 1088.2 542.3 1089.3 545.7 1090.4 558.3 1093.9 570.9 1096.8 583.5 1099.1 596.1 1101.1 608.8 1102.6 621.4 1103.9 634.0 1105.0 646.6 1106.1 659.2 1107.2 671.8 1108.1 684.4 1108.8 697.1 1109.6 709.7 1110.9 722.3 1112.6 734.9 1114.3 747.5 1115.4 760.1 1116.1 772.7 1116.5 785.3 1117.3 798.0 1118.4 831.6 1119.6 865.2 1119.1 898.9 1120.4 932.5 1119.8 966.1 1122.3 999.8 1122.6 1033.4 1123.8 1067.0 1124.2 1100.7 1123.1 1134.3 1124.4 1168.0 1123.2 1201.6 1125.6 1235.2 1125.0 1268.9 1125.7 1302.5 1125.8 1336.1 1124.7 1369.8 1126.7 1403.4 1125.7 1437.0 1128.4 1470.7 1127.4 1504.3 1127.7 1538.0 1127.4 1571.6 1126.1 1605.2 1128.7 1638.9 1127.9 1672.5 1131.2 1706.1 1130.2 1739.8 1130.1 1773.4 1129.4 1807.0 1127.3 1840.7 1129.4 1874.3 1128.3 1907.9 1131.5 1941.6 1130.7 1975.2 1131.7 1975.2 1140.2 1941.6 1139.2 1907.9 1140.0 1874.3 1136.8 1840.7 1137.9 1807.0 1135.8 1773.4 1137.9 1739.8 1138.7 1706.1 1138.7 1672.5 1139.7 1638.9 1136.5 1605.2 1137.2 1571.6 1134.7 1538.0 1135.9 1504.3 1136.2 1470.7 1135.9 1437.0 1136.9 1403.4 1134.2 1369.8 1135.3 1336.1 1133.2 1302.5 1134.3 1268.9 1134.2 1235.2 1133.5 1201.6 1134.1 1168.0 1131.7 1134.3 1132.9 1100.7 1131.6 1067.0 1132.7 1033.4 1132.4 999.8 1131.2 966.1 1130.8 932.5 1128.3 898.9 1128.9 865.2 1127.6 831.6 1128.1 798.0 1127.0 785.3 1125.9 772.7 1125.1 760.1 1124.6 747.5 1123.9 734.9 1122.8 722.3 1121.1 709.7 1119.4 697.1 1118.2 684.4 1117.4 671.8 1116.6 659.2 1115.7 646.6 1114.6 634.0 1113.5 621.4 1112.4 608.8 1111.2 596.1 1109.6 583.5 1107.6 570.9 1105.3 558.3 1102.4 545.7 1098.9 542.3 1097.9 539.0 1096.7 535.6 1095.5 532.2 1094.1 528.9 1092.7 525.5 1091.2 522.1 1089.5 518.8 1087.8 515.4 1085.9 512.1 1083.9 508.7 1081.8 505.3 1079.5 502.0 1076.9 498.6 1074.2 495.2 1071.1 491.9 1067.7 488.5 1063.9 485.1 1059.5 481.8 1054.5z" fill="#0000ff" stroke="#0000ff" stroke-width="19" stroke-linejoin="round"/>
<path d="M462 904l11 19h-22zm0 4l11 19h-22zm0 9l11 19h-22zm0 5l11 19h-22zm0 4l11 19h-22zm1 5l11 19h-22zm0 10l11 19h-22zm0 -2l11 19h-22zm0 10l11 19h-22zm0 1l11 19h-22zm1 -1l11 19h-22zm0 9l11 19h-22zm0 0l11 19h-22zm1 11l11 19h-22zm0 4l11 19h-22zm0 6l11 19h-22zm1 4l11 19h-22zm0 8l11 19h-22zm1 4l11 19h-22zm0 -2l11 19h-22zm0 26l11 19h-22zm1 -14l11 19h-22zm0 -5l11 19h-22zm1 9l11 19h-22zm0 3l11 19h-22zm1 3l11 19h-22zm0 -4l11 19h-22zm0 5l11 19h-22zm1 -2l11 19h-22zm0 4l11 19h-22zm1 -8l11 19h-22zm0 13l11 19h-22zm1 5l11 19h-22zm0 -6l11 19h-22zm0 2l11 19h-22zm1 0l11 19h-22zm0 9l11 19h-22zm1 -12l11 19h-22zm0 8l11 19h-22zm0 1l11 19h-22zm1 7l11 19h-22zm0 -9l11 19h-22zm1 5l11 19h-22zm0 -7l11 19h-22zm1 11l11 19h-22zm0 4l11 19h-22zm0 -6l11 19h-22zm1 6l11 19h-22zm0 -7l11 19h-22zm1 9l11 19h-22zm0 -4l11 19h-22zm1 2l11 19h-22zm0 -1l11 19h-22zm0 4l11 19h-22zm1 2l11 19h-22zm0 -4l11 19h-22zm1 4l11 19h-22zm0 -4l11 19h-22zm0 4l11 19h-22zm1 6l11 19h-22zm0 -6l11 19h-22zm1 -7l11 19h-22zm0 5l11 19h-22zm1 -1l11 19h-22zm0 1l11 19h-22zm0 7l11 19h-22zm1 4l11 19h-22zm1 -10l11 19h-22zm1 0l11 19h-22zm6 18l11 19h-22zm1 0l11 19h-22zm3 6l11 19h-22zm1 1l11 19h-22zm1 -15l11 19h-22zm3 14l11 19h-22zm0 2l11 19h-22zm3 1l11 19h-22zm3 3l11 19h-22zm1 3l11 19h-22zm2 -3l11 19h-22zm2 -10l11 19h-22zm0 0l11 19h-22zm2 2l11 19h-22zm1 -1l11 19h-22zm2 4l11 19h-22zm3 11l11 19h-22zm2 0l11 19h-22zm1 -8l11 19h-22zm1 -2l11 19h-22zm1 2l11 19h-22zm1 13l11 19h-22zm1 -12l11 19h-22zm1 -1l11 19h-22zm8 16l11 19h-22zm2 1l11 19h-22zm4 -13l11 19h-22zm2 14l11 19h-22zm1 -12l11 19h-22zm2 2l11 19h-22zm1 11l11 19h-22zm2 -10l11 19h-22zm1 31l11 19h-22zm1 -20l11 19h-22zm2 2l11 19h-22zm0 -1l11 19h-22zm2 3l11 19h-22zm3 -2l11 19h-22zm4 -9l11 19h-22zm2 10l11 19h-22zm1 1l11 19h-22zm4 -12l11 19h-22zm4 0l11 19h-22zm1 16l11 19h-22zm3 -16l11 19h-22zm1 3l11 19h-22zm1 1l11 19h-22zm1 10l11 19h-22zm5 -11l11 19h-22zm1 1l11 19h-22zm2 14l11 19h-22zm1 -13l11 19h-22zm1 0l11 19h-22zm3 11l11 19h-22zm1 -10l11 19h-22zm1 11l11 19h-22zm1 0l11 19h-22zm1 1l11 19h-22zm3 0l11 19h-22zm1 -11l11 19h-22zm5 13l11 19h-22zm1 -3l11 19h-22zm1 -11l11 19h-22zm1 1l11 19h-22zm1 13l11 19h-22zm1 -12l11 19h-22zm3 1l11 19h-22zm3 10l11 19h-22zm4 0l11 19h-22zm1 -10l11 19h-22zm2 10l11 19h-22zm1 -9l11 19h-22zm2 -2l11 19h-22zm1 12l11 19h-22zm3 0l11 19h-22zm1 -13l11 19h-22zm1 3l11 19h-22zm0 12l11 19h-22zm3 -13l11 19h-22zm7 13l11 19h-22zm4 -10l11 19h-22zm1 11l11 19h-22zm1 -2l11 19h-22zm5 3l11 19h-22zm1 -3l11 19h-22zm3 -9l11 19h-22zm1 1l11 19h-22zm0 -3l11 19h-22zm3 37l11 19h-22zm2 -37l11 19h-22zm5 12l11 19h-22zm1 4l11 19h-22zm1 -14l11 19h-22zm2 14l11 19h-22zm2 0l11 19h-22zm0 -15l11 19h-22zm2 14l11 19h-22zm1 -11l11 19h-22zm1 9l11 19h-22zm2 2l11 19h-22zm2 0l11 19h-22zm1 -13l11 19h-22zm1 13l11 19h-22zm1 1l11 19h-22zm1 -14l11 19h-22zm1 0l11 19h-22zm1 13l11 19h-22zm1 -13l11 19h-22zm4 1l11 19h-22zm2 14l11 19h-22zm0 -15l11 19h-22zm1 3l11 19h-22zm1 11l11 19h-22zm2 -1l11 19h-22zm4 0l11 19h-22zm1 -9l11 19h-22zm2 -3l11 19h-22zm0 13l11 19h-22zm1 -10l11 19h-22zm2 10l11 19h-22zm1 -11l11 19h-22zm1 12l11 19h-22zm2 -11l11 19h-22zm1 12l11 19h-22zm1 -13l11 19h-22zm2 1l11 19h-22zm1 -1l11 19h-22zm3 0l11 19h-22zm0 1l11 19h-22zm1 12l11 19h-22zm4 2l11 19h-22zm1 -12l11 19h-22zm2 -1l11 19h-22zm5 3l11 19h-22zm2 -2l11 19h-22zm1 11l11 19h-22zm1 3l11 19h-22zm3 -14l11 19h-22zm1 3l11 19h-22zm1 -3l11 19h-22zm1 19l11 19h-22zm1 -16l11 19h-22zm2 11l11 19h-22zm4 1l11 19h-22zm1 -14l11 19h-22zm1 13l11 19h-22zm2 1l11 19h-22zm1 -12l11 19h-22zm1 0l11 19h-22zm1 11l11 19h-22zm2 2l11 19h-22zm1 -15l11 19h-22zm2 12l11 19h-22zm1 0l11 19h-22zm1 -12l11 19h-22zm1 14l11 19h-22zm2 1l11 19h-22zm2 -15l11 19h-22zm4 3l11 19h-22zm0 12l11 19h-22zm1 -12l11 19h-22zm3 10l11 19h-22zm1 -11l11 19h-22zm1 -2l11 19h-22zm2 1l11 19h-22zm3 18l11 19h-22zm3 -6l11 19h-22zm1 3l11 19h-22zm1 0l11 19h-22zm0 -2l11 19h-22zm3 0l11 19h-22zm2 0l11 19h-22zm4 1l11 19h-22zm2 -11l11 19h-22zm1 11l11 19h-22zm1 -10l11 19h-22zm2 11l11 19h-22zm1 -12l11 19h-22zm0 1l11 19h-22zm1 12l11 19h-22zm1 -14l11 19h-22zm1 13l11 19h-22zm1 0l11 19h-22zm1 -10l11 19h-22zm3 -2l11 19h-22zm2 0l11 19h-22zm1 -2l11 19h-22zm1 17l11 19h-22zm2 -3l11 19h-22zm2 1l11 19h-22zm1 0l11 19h-22zm3 2l11 19h-22zm1 -14l11 19h-22zm3 11l11 19h-22zm2 -12l11 19h-22zm0 0l11 19h-22zm3 11l11 19h-22zm1 -12l11 19h-22zm2 15l11 19h-22zm1 -3l11 19h-22zm1 3l11 19h-22zm1 -15l11 19h-22zm2 11l11 19h-22zm1 -12l11 19h-22zm1 1l11 19h-22zm1 13l11 19h-22zm2 0l11 19h-22zm0 1l11 19h-22zm2 -15l11 19h-22zm1 0l11 19h-22zm3 2l11 19h-22zm1 13l11 19h-22zm1 0l11 19h-22zm1 -15l11 19h-22zm2 0l11 19h-22zm1 1l11 19h-22zm3 0l11 19h-22zm1 1l11 19h-22zm1 1l11 19h-22zm2 12l11 19h-22zm2 -14l11 19h-22zm0 2l11 19h-22zm1 12l11 19h-22zm1 -12l11 19h-22zm3 14l11 19h-22zm1 -14l11 19h-22zm0 0l11 19h-22zm2 13l11 19h-22zm1 0l11 19h-22zm1 -13l11 19h-22zm1 1l11 19h-22zm5 10l11 19h-22zm2 -11l11 19h-22zm1 2l11 19h-22zm1 9l11 19h-22zm1 -13l11 19h-22zm1 14l11 19h-22zm1 -12l11 19h-22zm1 -1l11 19h-22zm1 15l11 19h-22zm1 -14l11 19h-22zm1 0l11 19h-22zm0 -1l11 19h-22zm1 15l11 19h-22zm4 -15l11 19h-22zm0 11l11 19h-22zm1 -11l11 19h-22zm2 14l11 19h-22zm1 -1l11 19h-22zm2 -12l11 19h-22zm2 0l11 19h-22zm1 13l11 19h-22zm1 1l11 19h-22zm3 -3l11 19h-22zm2 -13l11 19h-22zm1 12l11 19h-22zm1 1l11 19h-22zm1 -13l11 19h-22zm3 1l11 19h-22zm0 0l11 19h-22zm1 12l11 19h-22zm1 -11l11 19h-22zm1 0l11 19h-22zm2 0l11 19h-22zm3 1l11 19h-22zm3 11l11 19h-22zm5 2l11 19h-22zm1 -14l11 19h-22zm3 11l11 19h-22zm1 -10l11 19h-22zm0 11l11 19h-22zm2 -12l11 19h-22zm1 -1l11 19h-22zm1 1l11 19h-22zm2 13l11 19h-22zm0 -13l11 19h-22zm1 1l11 19h-22zm1 1l11 19h-22zm1 0l11 19h-22zm2 -1l11 19h-22zm1 0l11 19h-22zm1 13l11 19h-22zm1 -12l11 19h-22zm2 0l11 19h-22zm1 0l11 19h-22zm1 0l11 19h-22zm1 1l11 19h-22zm1 12l11 19h-22zm1 -12l11 19h-22zm1 11l11 19h-22zm1 -10l11 19h-22zm1 11l11 19h-22zm1 -12l11 19h-22zm1 -2l11 19h-22zm1 2l11 19h-22zm3 12l11 19h-22zm2 -11l11 19h-22zm2 -1l11 19h-22zm2 1l11 19h-22zm1 -2l11 19h-22zm1 1l11 19h-22zm4 1l11 19h-22zm1 -2l11 19h-22zm1 2l11 19h-22zm2 11l11 19h-22zm2 -13l11 19h-22zm1 14l11 19h-22zm3 -15l11 19h-22zm5 13l11 19h-22zm2 -1l11 19h-22zm0 -11l11 19h-22zm1 13l11 19h-22zm3 0l11 19h-22zm1 -14l11 19h-22zm0 15l11 19h-22zm1 -15l11 19h-22zm1 14l11 19h-22zm2 -15l11 19h-22zm1 16l11 19h-22zm0 -1l11 19h-22zm1 -13l11 19h-22zm4 12l11 19h-22zm1 -12l11 19h-22zm3 1l11 19h-22zm1 -2l11 19h-22zm6 16l11 19h-22zm0 0l11 19h-22zm1 -3l11 19h-22zm2 -11l11 19h-22zm2 3l11 19h-22zm1 -1l11 19h-22zm3 -3l11 19h-22zm2 16l11 19h-22zm3 -15l11 19h-22zm2 2l11 19h-22zm0 0l11 19h-22zm1 -2l11 19h-22zm1 14l11 19h-22zm1 -14l11 19h-22zm5 15l11 19h-22zm2 -2l11 19h-22zm2 -14l11 19h-22zm3 1l11 19h-22zm1 12l11 19h-22zm3 -10l11 19h-22zm2 9l11 19h-22zm5 0l11 19h-22zm1 1l11 19h-22zm3 -1l11 19h-22zm5 0l11 19h-22zm1 -12l11 19h-22zm1 1l11 19h-22zm1 0l11 19h-22zm4 -2l11 19h-22zm0 2l11 19h-22zm1 0l11 19h-22zm3 -2l11 19h-22zm1 2l11 19h-22zm1 -1l11 19h-22zm2 0l11 19h-22zm3 -1l11 19h-22zm3 1l11 19h-22zm2 12l11 19h-22zm8 -10l11 19h-22zm1 1l11 19h-22zm2 11l11 19h-22zm1 0l11 19h-22zm4 -1l11 19h-22zm1 -13l11 19h-22zm3 3l11 19h-22zm1 -1l11 19h-22zm1 13l11 19h-22zm1 -1l11 19h-22zm1 -14l11 19h-22zm3 2l11 19h-22zm1 12l11 19h-22zm3 -10l11 19h-22zm2 9l11 19h-22zm1 3l11 19h-22zm1 -14l11 19h-22zm1 13l11 19h-22zm1 -15l11 19h-22zm4 3l11 19h-22zm2 -2l11 19h-22zm2 13l11 19h-22zm3 -1l11 19h-22zm0 -11l11 19h-22zm1 0l11 19h-22zm1 -3l11 19h-22zm3 15l11 19h-22zm9 -13l11 19h-22zm1 0l11 19h-22zm0 14l11 19h-22zm4 -14l11 19h-22zm1 1l11 19h-22zm2 -1l11 19h-22zm3 1l11 19h-22zm1 -1l11 19h-22zm2 2l11 19h-22zm2 10l11 19h-22zm1 3l11 19h-22zm2 -13l11 19h-22zm3 -1l11 19h-22zm1 1l11 19h-22zm1 -2l11 19h-22zm1 3l11 19h-22zm1 -1l11 19h-22zm4 0l11 19h-22zm1 13l11 19h-22zm2 -2l11 19h-22zm4 -10l11 19h-22zm1 -1l11 19h-22zm4 0l11 19h-22zm1 15l11 19h-22zm1 -1l11 19h-22zm1 -12l11 19h-22zm3 -1l11 19h-22zm3 -1l11 19h-22zm3 13l11 19h-22zm0 -13l11 19h-22zm2 11l11 19h-22zm2 0l11 19h-22zm2 -11l11 19h-22zm0 1l11 19h-22zm1 -2l11 19h-22zm1 0l11 19h-22zm1 12l11 19h-22zm2 -12l11 19h-22zm0 -1l11 19h-22zm1 15l11 19h-22zm1 0l11 19h-22zm3 -2l11 19h-22zm1 -1l11 19h-22zm1 3l11 19h-22zm3 -13l11 19h-22zm4 13l11 19h-22zm2 -13l11 19h-22zm1 -2l11 19h-22zm2 15l11 19h-22zm1 -12l11 19h-22zm1 -1l11 19h-22zm0 12l11 19h-22zm1 1l11 19h-22zm2 -12l11 19h-22zm1 11l11 19h-22zm1 -2l11 19h-22zm1 2l11 19h-22zm1 1l11 19h-22zm4 1l11 19h-22zm0 -15l11 19h-22zm1 13l11 19h-22zm2 1l11 19h-22zm2 1l11 19h-22zm2 -13l11 19h-22zm1 12l11 19h-22zm2 -14l11 19h-22zm1 15l11 19h-22zm9 1l11 19h-22zm1 -3l11 19h-22zm2 -9l11 19h-22zm3 -2l11 19h-22zm0 14l11 19h-22zm4 -1l11 19h-22zm1 -13l11 19h-22zm1 0l11 19h-22zm3 0l11 19h-22zm1 -2l11 19h-22zm0 1l11 19h-22zm6 1l11 19h-22zm1 10l11 19h-22zm4 3l11 19h-22zm0 -13l11 19h-22zm5 -3l11 19h-22zm2 2l11 19h-22zm1 -2l11 19h-22zm3 12l11 19h-22zm0 -11l11 19h-22zm2 12l11 19h-22zm1 -12l11 19h-22zm1 1l11 19h-22zm1 10l11 19h-22zm0 -11l11 19h-22zm2 -2l11 19h-22zm1 1l11 19h-22zm2 12l11 19h-22zm3 -9l11 19h-22zm2 12l11 19h-22zm0 -2l11 19h-22zm1 -12l11 19h-22zm1 1l11 19h-22zm4 13l11 19h-22zm1 -12l11 19h-22zm3 14l11 19h-22zm1 -15l11 19h-22zm1 15l11 19h-22zm1 -15l11 19h-22zm2 11l11 19h-22zm1 3l11 19h-22zm0 -13l11 19h-22zm4 11l11 19h-22zm1 -10l11 19h-22zm1 11l11 19h-22zm0 -11l11 19h-22zm1 13l11 19h-22zm1 -2l11 19h-22zm1 1l11 19h-22zm1 -13l11 19h-22zm1 14l11 19h-22zm0 -1l11 19h-22zm3 -14l11 19h-22zm1 0l11 19h-22zm2 15l11 19h-22zm1 -2l11 19h-22zm3 1l11 19h-22zm0 -1l11 19h-22zm1 -1l11 19h-22zm1 -11l11 19h-22zm6 28l11 19h-22zm2 -28l11 19h-22zm3 -2l11 19h-22zm2 14l11 19h-22zm1 -1l11 19h-22zm0 -10l11 19h-22zm1 24l11 19h-22zm1 -24l11 19h-22zm1 0l11 19h-22zm2 11l11 19h-22zm1 -2l11 19h-22zm0 3l11 19h-22zm2 -1l11 19h-22zm2 14l11 19h-22zm1 -13l11 19h-22zm0 -12l11 19h-22zm1 0l11 19h-22zm1 11l11 19h-22zm2 -11l11 19h-22zm1 0l11 19h-22zm2 -1l11 19h-22zm3 1l11 19h-22zm3 10l11 19h-22zm7 -11l11 19h-22zm1 1l11 19h-22zm5 13l11 19h-22zm1 2l11 19h-22zm2 -14l11 19h-22zm1 11l11 19h-22zm3 0l11 19h-22zm3 3l11 19h-22zm2 0l11 19h-22zm5 -2l11 19h-22zm3 -13l11 19h-22zm1 0l11 19h-22zm4 12l11 19h-22zm1 1l11 19h-22zm1 -13l11 19h-22zm0 1l11 19h-22zm1 13l11 19h-22zm1 1l11 19h-22zm1 -3l11 19h-22zm3 2l11 19h-22zm6 -1l11 19h-22zm2 0l11 19h-22zm1 -12l11 19h-22zm1 11l11 19h-22zm2 -12l11 19h-22zm1 14l11 19h-22zm2 -16l11 19h-22zm0 15l11 19h-22zm2 0l11 19h-22zm2 1l11 19h-22zm1 -1l11 19h-22zm4 -14l11 19h-22zm1 2l11 19h-22zm1 10l11 19h-22zm2 -14l11 19h-22zm1 1l11 19h-22zm1 3l11 19h-22zm1 0l11 19h-22zm0 -1l11 19h-22zm2 -2l11 19h-22zm3 0l11 19h-22zm0 16l11 19h-22zm2 0l11 19h-22zm4 -3l11 19h-22zm2 2l11 19h-22zm2 1l11 19h-22zm1 -1l11 19h-22zm4 -12l11 19h-22zm1 14l11 19h-22zm2 0l11 19h-22zm3 -1l11 19h-22zm2 -15l11 19h-22zm2 0l11 19h-22zm1 1l11 19h-22zm1 12l11 19h-22zm1 -12l11 19h-22zm4 13l11 19h-22zm1 -1l11 19h-22zm1 2l11 19h-22zm2 -15l11 19h-22zm1 0l11 19h-22zm3 0l11 19h-22zm3 1l11 19h-22zm1 -2l11 19h-22zm2 16l11 19h-22zm1 8l11 19h-22zm2 -23l11 19h-22zm2 13l11 19h-22zm1 1l11 19h-22zm1 -2l11 19h-22zm2 1l11 19h-22zm2 0l11 19h-22zm3 -14l11 19h-22zm2 12l11 19h-22zm1 -13l11 19h-22zm3 1l11 19h-22zm1 1l11 19h-22zm2 1l11 19h-22zm0 10l11 19h-22zm7 2l11 19h-22zm1 -12l11 19h-22zm2 11l11 19h-22zm3 2l11 19h-22zm1 -1l11 19h-22zm2 -13l11 19h-22zm0 12l11 19h-22zm2 1l11 19h-22zm3 2l11 19h-22zm0 1l11 19h-22zm4 -14l11 19h-22zm1 0l11 19h-22zm0 14l11 19h-22zm2 -14l11 19h-22zm1 11l11 19h-22zm2 -10l11 19h-22zm1 12l11 19h-22zm1 -2l11 19h-22zm1 2l11 19h-22zm2 1l11 19h-22zm1 -13l11 19h-22zm0 13l11 19h-22zm2 0l11 19h-22zm2 -13l11 19h-22zm1 -1l11 19h-22zm0 0l11 19h-22zm5 0l11 19h-22zm2 0l11 19h-22zm3 11l11 19h-22zm1 2l11 19h-22zm3 -12l11 19h-22zm1 12l11 19h-22zm1 -15l11 19h-22zm1 1l11 19h-22zm1 1l11 19h-22zm1 14l11 19h-22zm2 -15l11 19h-22zm0 15l11 19h-22zm1 -13l11 19h-22zm1 10l11 19h-22zm3 2l11 19h-22zm2 -2l11 19h-22zm2 -14l11 19h-22zm3 14l11 19h-22zm2 -12l11 19h-22zm2 2l11 19h-22zm1 -3l11 19h-22zm1 16l11 19h-22zm3 -1l11 19h-22zm1 0l11 19h-22zm3 1l11 19h-22zm1 -1l11 19h-22zm1 -12l11 19h-22zm2 11l11 19h-22zm1 0l11 19h-22zm1 -12l11 19h-22zm2 2l11 19h-22zm1 -2l11 19h-22zm1 2l11 19h-22zm1 13l11 19h-22zm3 0l11 19h-22zm2 0l11 19h-22zm2 1l11 19h-22zm1 1l11 19h-22zm4 1l11 19h-22zm2 -4l11 19h-22zm2 2l11 19h-22zm1 -2l11 19h-22zm1 -13l11 19h-22zm7 2l11 19h-22zm1 1l11 19h-22zm2 -2l11 19h-22zm1 13l11 19h-22zm1 1l11 19h-22zm1 -3l11 19h-22zm2 -10l11 19h-22zm2 11l11 19h-22zm1 -10l11 19h-22zm1 -2l11 19h-22zm2 -1l11 19h-22zm3 15l11 19h-22zm1 -15l11 19h-22zm3 13l11 19h-22zm3 -13l11 19h-22zm0 13l11 19h-22zm1 -14l11 19h-22zm2 1l11 19h-22zm1 12l11 19h-22zm1 -12l11 19h-22zm2 13l11 19h-22zm3 0l11 19h-22zm0 0l11 19h-22zm2 -1l11 19h-22zm2 1l11 19h-22zm1 1l11 19h-22zm1 -3l11 19h-22zm0 -12l11 19h-22zm1 13l11 19h-22zm3 0l11 19h-22zm1 -11l11 19h-22zm2 13l11 19h-22zm1 0l11 19h-22zm1 1l11 19h-22zm2 -12l11 19h-22zm1 -3l11 19h-22zm3 0l11 19h-22zm1 13l11 19h-22zm4 -10l11 19h-22zm1 9l11 19h-22zm0 2l11 19h-22zm6 -11l11 19h-22zm2 -3l11 19h-22zm1 1l11 19h-22zm1 1l11 19h-22zm3 -3l11 19h-22zm3 1l11 19h-22zm0 14l11 19h-22zm1 -2l11 19h-22zm2 0l11 19h-22zm1 1l11 19h-22zm1 -13l11 19h-22zm1 2l11 19h-22zm3 11l11 19h-22zm2 -1l11 19h-22zm4 -1l11 19h-22zm0 -2l11 19h-22zm1 2l11 19h-22zm5 -14l11 19h-22zm1 15l11 19h-22zm1 -14l11 19h-22zm4 12l11 19h-22zm1 1l11 19h-22zm2 0l11 19h-22zm1 -12l11 19h-22zm0 -1l11 19h-22zm1 14l11 19h-22zm1 -1l11 19h-22zm4 -12l11 19h-22zm1 0l11 19h-22zm1 -3l11 19h-22zm2 3l11 19h-22zm1 13l11 19h-22zm1 -1l11 19h-22zm1 -13l11 19h-22zm1 -2l11 19h-22zm2 15l11 19h-22zm3 -12l11 19h-22zm1 0l11 19h-22zm1 14l11 19h-22zm0 -15l11 19h-22zm3 0l11 19h-22zm2 14l11 19h-22zm1 0l11 19h-22zm1 -12l11 19h-22zm1 -1l11 19h-22zm3 0l11 19h-22zm1 0l11 19h-22zm5 12l11 19h-22zm7 -12l11 19h-22zm9 14l11 19h-22zm1 -1l11 19h-22zm1 2l11 19h-22zm1 -13l11 19h-22zm1 -2l11 19h-22zm0 0l11 19h-22zm2 0l11 19h-22zm3 14l11 19h-22zm1 -3l11 19h-22zm1 -10l11 19h-22zm1 -2l11 19h-22zm3 12l11 19h-22zm1 3l11 19h-22zm1 -3l11 19h-22zm1 2l11 19h-22zm5 -1l11 19h-22zm1 -11l11 19h-22zm1 13l11 19h-22zm1 25l11 19h-22zm1 -28l11 19h-22zm1 3l11 19h-22zm2 -3l11 19h-22zm1 -9l11 19h-22zm0 0l11 19h-22zm3 -1l11 19h-22zm2 12l11 19h-22zm4 17l11 19h-22zm1 -17l11 19h-22zm1 2l11 19h-22zm1 -13l11 19h-22zm3 14l11 19h-22zm1 -2l11 19h-22zm1 -14l11 19h-22zm1 15l11 19h-22zm1 0l11 19h-22zm1 -12l11 19h-22zm1 0l11 19h-22zm0 14l11 19h-22zm2 -13l11 19h-22zm1 12l11 19h-22zm2 -1l11 19h-22zm3 2l11 19h-22zm1 -15l11 19h-22zm2 13l11 19h-22zm0 -10l11 19h-22zm2 -2l11 19h-22zm6 -1l11 19h-22zm1 12l11 19h-22zm4 -10l11 19h-22zm1 12l11 19h-22zm4 1l11 19h-22zm3 -1l11 19h-22zm1 -13l11 19h-22zm1 11l11 19h-22zm1 1l11 19h-22zm1 3l11 19h-22zm1 -3l11 19h-22zm0 5l11 19h-22zm1 -2l11 19h-22zm1 -14l11 19h-22zm1 10l11 19h-22zm1 0l11 19h-22zm1 -6l11 19h-22zm0 9l11 19h-22zm1 2l11 19h-22zm1 -5l11 19h-22zm1 11l11 19h-22zm1 5l11 19h-22zm1 -24l11 19h-22zm1 20l11 19h-22zm0 -10l11 19h-22zm1 4l11 19h-22zm1 -12l11 19h-22zm1 19l11 19h-22zm1 -11l11 19h-22zm1 6l11 19h-22zm0 3l11 19h-22zm1 -6l11 19h-22zm1 3l11 19h-22zm1 2l11 19h-22zm1 -21l11 19h-22zm1 24l11 19h-22zm0 -13l11 19h-22zm1 3l11 19h-22zm1 3l11 19h-22zm1 4l11 19h-22zm1 -19l11 19h-22zm1 12l11 19h-22zm0 -5l11 19h-22zm1 6l11 19h-22zm1 30l11 19h-22zm1 -40l11 19h-22zm1 23l11 19h-22zm1 -3l11 19h-22zm1 -9l11 19h-22zm0 8l11 19h-22zm1 -14l11 19h-22zm-1122 29l11 19h-22zm1102 27l11 19h-22zm-7 -33l11 19h-22zm2 9l11 19h-22zm-1299 -150l11 19h-22z" fill="#0000ff"/>
<path d="M481.8 908.4 485.1 915.3 488.5 922.9 491.9 930.7 495.2 938.2 498.6 945.0 502.0 951.0 505.3 956.3 508.7 961.2 512.1 965.9 515.4 970.7 518.8 975.7 522.1 981.1 525.5 986.8 528.9 992.3 532.2 997.6 535.6 1002.3 539.0 1006.6 542.3 1010.5 545.7 1014.1 558.3 1026.0 570.9 1035.4 583.5 1043.0 596.1 1048.1 608.8 1052.1 621.4 1055.4 634.0 1058.4 646.6 1061.0 659.2 1063.3 671.8 1065.2 684.4 1066.9 697.1 1068.4 709.7 1069.6 722.3 1070.7 734.9 1071.8 747.5 1072.9 760.1 1074.1 772.7 1075.2 785.3 1076.3 798.0 1077.4 831.6 1080.0 865.2 1082.0 898.9 1083.3 932.5 1084.0 966.1 1084.1 999.8 1083.8 1033.4 1084.2 1067.0 1086.0 1100.7 1088.7 1134.3 1090.6 1168.0 1090.6 1201.6 1089.0 1235.2 1087.7 1268.9 1088.1 1302.5 1089.7 1336.1 1091.1 1369.8 1091.6 1403.4 1091.3 1437.0 1091.2 1470.7 1091.4 1504.3 1091.6 1538.0 1091.6 1571.6 1092.0 1605.2 1092.7 1638.9 1093.3 1672.5 1093.2 1706.1 1092.6 1739.8 1092.4 1773.4 1093.3 1807.0 1094.6 1840.7 1095.0 1874.3 1094.1 1907.9 1092.9 1941.6 1092.4 1975.2 1093.1 1975.2 1098.6 1941.6 1098.0 1907.9 1098.4 1874.3 1099.7 1840.7 1100.6 1807.0 1100.2 1773.4 1098.9 1739.8 1098.0 1706.1 1098.2 1672.5 1098.8 1638.9 1098.9 1605.2 1098.3 1571.6 1097.6 1538.0 1097.2 1504.3 1097.1 1470.7 1097.0 1437.0 1096.8 1403.4 1096.9 1369.8 1097.1 1336.1 1096.7 1302.5 1095.3 1268.9 1093.7 1235.2 1093.3 1201.6 1094.6 1168.0 1096.1 1134.3 1096.2 1100.7 1094.2 1067.0 1091.6 1033.4 1089.8 999.8 1089.4 966.1 1089.7 932.5 1089.6 898.9 1088.9 865.2 1087.5 831.6 1085.6 798.0 1083.0 785.3 1081.9 772.7 1080.8 760.1 1079.6 747.5 1078.5 734.9 1077.4 722.3 1076.3 709.7 1075.2 697.1 1073.9 684.4 1072.5 671.8 1070.8 659.2 1068.9 646.6 1066.6 634.0 1064.0 621.4 1061.0 608.8 1057.6 596.1 1053.7 583.5 1048.5 570.9 1041.0 558.3 1031.5 545.7 1019.7 542.3 1016.0 539.0 1012.1 535.6 1007.9 532.2 1003.2 528.9 997.9 525.5 992.4 522.1 986.7 518.8 981.3 515.4 976.3 512.1 971.5 508.7 966.8 505.3 961.9 502.0 956.6 498.6 950.6 495.2 943.8 491.9 936.3 488.5 928.4 485.1 920.9 481.8 914.0z" fill="#ff00ff" stroke="#ff00ff" stroke-width="19" stroke-linejoin="round"/>
<path d="M462 746l11 -21h-22zm0 7l11 -21h-22zm0 9l11 -21h-22zm0 10l11 -21h-22zm0 4l11 -21h-22zm1 6l11 -21h-22zm0 3l11 -21h-22zm0 6l11 -21h-22zm0 7l11 -21h-22zm0 6l11 -21h-22zm1 3l11 -21h-22zm0 6l11 -21h-22zm0 2l11 -21h-22zm1 8l11 -21h-22zm0 7l11 -21h-22zm0 6l11 -21h-22zm1 7l11 -21h-22zm0 6l11 -21h-22zm1 0l11 -21h-22zm0 7l11 -21h-22zm0 6l11 -21h-22zm1 5l11 -21h-22zm0 2l11 -21h-22zm1 2l11 -21h-22zm0 2l11 -21h-22zm1 2l11 -21h-22zm0 5l11 -21h-22zm0 7l11 -21h-22zm1 -5l11 -21h-22zm0 3l11 -21h-22zm1 3l11 -21h-22zm0 1l11 -21h-22zm1 10l11 -21h-22zm0 -1l11 -21h-22zm0 2l11 -21h-22zm1 -4l11 -21h-22zm0 9l11 -21h-22zm1 -1l11 -21h-22zm0 -4l11 -21h-22zm0 3l11 -21h-22zm1 6l11 -21h-22zm0 -5l11 -21h-22zm1 9l11 -21h-22zm0 -4l11 -21h-22zm1 4l11 -21h-22zm0 -2l11 -21h-22zm0 4l11 -21h-22zm1 3l11 -21h-22zm0 -3l11 -21h-22zm1 6l11 -21h-22zm0 -5l11 -21h-22zm1 4l11 -21h-22zm0 -3l11 -21h-22zm0 5l11 -21h-22zm1 2l11 -21h-22zm0 -3l11 -21h-22zm1 -1l11 -21h-22zm0 9l11 -21h-22zm0 -4l11 -21h-22zm1 -1l11 -21h-22zm0 7l11 -21h-22zm1 0l11 -21h-22zm0 -5l11 -21h-22zm1 6l11 -21h-22zm0 1l11 -21h-22zm0 -6l11 -21h-22zm1 8l11 -21h-22zm1 2l11 -21h-22zm1 4l11 -21h-22zm0 0l11 -21h-22zm1 3l11 -21h-22zm1 -6l11 -21h-22zm1 2l11 -21h-22zm1 9l11 -21h-22zm1 -5l11 -21h-22zm0 3l11 -21h-22zm2 4l11 -21h-22zm2 8l11 -21h-22zm1 3l11 -21h-22zm0 1l11 -21h-22zm3 4l11 -21h-22zm1 -4l11 -21h-22zm1 7l11 -21h-22zm0 -5l11 -21h-22zm3 10l11 -21h-22zm2 2l11 -21h-22zm1 3l11 -21h-22zm2 -4l11 -21h-22zm2 9l11 -21h-22zm1 3l11 -21h-22zm1 1l11 -21h-22zm1 -6l11 -21h-22zm1 1l11 -21h-22zm1 2l11 -21h-22zm3 13l11 -21h-22zm1 0l11 -21h-22zm1 -5l11 -21h-22zm1 1l11 -21h-22zm4 14l11 -21h-22zm1 2l11 -21h-22zm3 -3l11 -21h-22zm2 9l11 -21h-22zm1 4l11 -21h-22zm1 -6l11 -21h-22zm4 3l11 -21h-22zm1 9l11 -21h-22zm1 -7l11 -21h-22zm2 3l11 -21h-22zm1 7l11 -21h-22zm1 1l11 -21h-22zm1 -3l11 -21h-22zm2 6l11 -21h-22zm1 -5l11 -21h-22zm1 9l11 -21h-22zm2 1l11 -21h-22zm1 1l11 -21h-22zm3 2l11 -21h-22zm1 2l11 -21h-22zm2 -6l11 -21h-22zm1 8l11 -21h-22zm1 -6l11 -21h-22zm3 8l11 -21h-22zm2 2l11 -21h-22zm1 -6l11 -21h-22zm1 7l11 -21h-22zm1 -6l11 -21h-22zm1 9l11 -21h-22zm1 -1l11 -21h-22zm0 1l11 -21h-22zm1 -7l11 -21h-22zm2 2l11 -21h-22zm1 8l11 -21h-22zm3 2l11 -21h-22zm2 -6l11 -21h-22zm1 -1l11 -21h-22zm1 9l11 -21h-22zm2 -6l11 -21h-22zm1 6l11 -21h-22zm3 -4l11 -21h-22zm1 5l11 -21h-22zm1 -7l11 -21h-22zm2 8l11 -21h-22zm3 3l11 -21h-22zm1 0l11 -21h-22zm2 1l11 -21h-22zm1 0l11 -21h-22zm4 1l11 -21h-22zm4 -6l11 -21h-22zm1 1l11 -21h-22zm1 5l11 -21h-22zm2 2l11 -21h-22zm3 -5l11 -21h-22zm2 0l11 -21h-22zm2 0l11 -21h-22zm1 1l11 -21h-22zm2 1l11 -21h-22zm2 6l11 -21h-22zm1 1l11 -21h-22zm0 -8l11 -21h-22zm5 0l11 -21h-22zm0 9l11 -21h-22zm3 0l11 -21h-22zm1 1l11 -21h-22zm1 -1l11 -21h-22zm2 -5l11 -21h-22zm1 6l11 -21h-22zm2 -7l11 -21h-22zm1 1l11 -21h-22zm0 7l11 -21h-22zm1 1l11 -21h-22zm1 -7l11 -21h-22zm3 0l11 -21h-22zm2 7l11 -21h-22zm3 -6l11 -21h-22zm2 8l11 -21h-22zm1 -7l11 -21h-22zm1 0l11 -21h-22zm1 6l11 -21h-22zm4 -4l11 -21h-22zm2 -2l11 -21h-22zm0 7l11 -21h-22zm2 -7l11 -21h-22zm1 0l11 -21h-22zm2 8l11 -21h-22zm1 -6l11 -21h-22zm2 6l11 -21h-22zm2 -6l11 -21h-22zm1 1l11 -21h-22zm0 -1l11 -21h-22zm1 1l11 -21h-22zm4 0l11 -21h-22zm0 1l11 -21h-22zm1 -1l11 -21h-22zm2 1l11 -21h-22zm1 -1l11 -21h-22zm1 8l11 -21h-22zm1 -8l11 -21h-22zm4 9l11 -21h-22zm2 0l11 -21h-22zm3 -7l11 -21h-22zm4 8l11 -21h-22zm1 -7l11 -21h-22zm4 6l11 -21h-22zm2 -6l11 -21h-22zm1 7l11 -21h-22zm1 -1l11 -21h-22zm1 -6l11 -21h-22zm1 7l11 -21h-22zm1 -7l11 -21h-22zm1 1l11 -21h-22zm2 7l11 -21h-22zm2 -8l11 -21h-22zm6 0l11 -21h-22zm2 7l11 -21h-22zm1 2l11 -21h-22zm1 0l11 -21h-22zm1 -6l11 -21h-22zm0 7l11 -21h-22zm1 -8l11 -21h-22zm1 1l11 -21h-22zm2 6l11 -21h-22zm2 -7l11 -21h-22zm1 6l11 -21h-22zm2 -24l11 -21h-22zm2 24l11 -21h-22zm0 2l11 -21h-22zm1 0l11 -21h-22zm1 -1l11 -21h-22zm2 -6l11 -21h-22zm1 -1l11 -21h-22zm0 1l11 -21h-22zm2 0l11 -21h-22zm3 0l11 -21h-22zm1 8l11 -21h-22zm2 -7l11 -21h-22zm2 1l11 -21h-22zm1 6l11 -21h-22zm3 0l11 -21h-22zm1 0l11 -21h-22zm1 0l11 -21h-22zm0 -6l11 -21h-22zm6 7l11 -21h-22zm1 -1l11 -21h-22zm3 -5l11 -21h-22zm1 7l11 -21h-22zm2 -1l11 -21h-22zm3 1l11 -21h-22zm0 -7l11 -21h-22zm1 7l11 -21h-22zm1 -6l11 -21h-22zm2 6l11 -21h-22zm1 0l11 -21h-22zm0 -15l11 -21h-22zm1 15l11 -21h-22zm2 1l11 -21h-22zm1 -7l11 -21h-22zm1 1l11 -21h-22zm1 -1l11 -21h-22zm0 7l11 -21h-22zm1 1l11 -21h-22zm1 -2l11 -21h-22zm5 2l11 -21h-22zm1 -8l11 -21h-22zm1 8l11 -21h-22zm1 -7l11 -21h-22zm1 6l11 -21h-22zm2 -6l11 -21h-22zm2 1l11 -21h-22zm2 1l11 -21h-22zm3 -1l11 -21h-22zm2 7l11 -21h-22zm2 -7l11 -21h-22zm1 1l11 -21h-22zm4 -1l11 -21h-22zm2 0l11 -21h-22zm1 1l11 -21h-22zm1 6l11 -21h-22zm2 1l11 -21h-22zm1 -6l11 -21h-22zm1 6l11 -21h-22zm1 -1l11 -21h-22zm2 2l11 -21h-22zm1 -1l11 -21h-22zm1 0l11 -21h-22zm0 -6l11 -21h-22zm1 -1l11 -21h-22zm5 2l11 -21h-22zm4 -1l11 -21h-22zm2 7l11 -21h-22zm5 1l11 -21h-22zm1 1l11 -21h-22zm1 -8l11 -21h-22zm2 -1l11 -21h-22zm1 7l11 -21h-22zm4 1l11 -21h-22zm0 -6l11 -21h-22zm1 -1l11 -21h-22zm2 0l11 -21h-22zm3 8l11 -21h-22zm0 0l11 -21h-22zm1 -8l11 -21h-22zm1 0l11 -21h-22zm1 1l11 -21h-22zm1 7l11 -21h-22zm4 -1l11 -21h-22zm2 1l11 -21h-22zm2 -1l11 -21h-22zm3 -5l11 -21h-22zm3 7l11 -21h-22zm2 -7l11 -21h-22zm1 6l11 -21h-22zm1 0l11 -21h-22zm1 -7l11 -21h-22zm2 7l11 -21h-22zm1 -5l11 -21h-22zm0 -1l11 -21h-22zm2 0l11 -21h-22zm8 1l11 -21h-22zm1 6l11 -21h-22zm1 -1l11 -21h-22zm1 1l11 -21h-22zm1 1l11 -21h-22zm1 -28l11 -21h-22zm1 27l11 -21h-22zm0 0l11 -21h-22zm1 0l11 -21h-22zm1 -6l11 -21h-22zm2 0l11 -21h-22zm5 6l11 -21h-22zm1 0l11 -21h-22zm3 -7l11 -21h-22zm1 0l11 -21h-22zm1 2l11 -21h-22zm1 -1l11 -21h-22zm1 -1l11 -21h-22zm1 0l11 -21h-22zm1 0l11 -21h-22zm2 1l11 -21h-22zm3 6l11 -21h-22zm1 -6l11 -21h-22zm1 1l11 -21h-22zm2 6l11 -21h-22zm2 -7l11 -21h-22zm1 7l11 -21h-22zm1 -1l11 -21h-22zm2 1l11 -21h-22zm1 -8l11 -21h-22zm1 1l11 -21h-22zm1 6l11 -21h-22zm0 2l11 -21h-22zm2 -9l11 -21h-22zm1 2l11 -21h-22zm1 -1l11 -21h-22zm1 6l11 -21h-22zm1 1l11 -21h-22zm1 -8l11 -21h-22zm2 9l11 -21h-22zm1 0l11 -21h-22zm3 -7l11 -21h-22zm1 -2l11 -21h-22zm2 9l11 -21h-22zm1 -1l11 -21h-22zm1 -1l11 -21h-22zm3 1l11 -21h-22zm1 -1l11 -21h-22zm4 -5l11 -21h-22zm5 7l11 -21h-22zm1 -9l11 -21h-22zm0 7l11 -21h-22zm6 1l11 -21h-22zm1 -1l11 -21h-22zm1 1l11 -21h-22zm1 -8l11 -21h-22zm1 8l11 -21h-22zm0 0l11 -21h-22zm2 -8l11 -21h-22zm1 8l11 -21h-22zm1 0l11 -21h-22zm2 0l11 -21h-22zm1 0l11 -21h-22zm1 -1l11 -21h-22zm1 -5l11 -21h-22zm2 0l11 -21h-22zm5 5l11 -21h-22zm0 -1l11 -21h-22zm3 1l11 -21h-22zm1 -5l11 -21h-22zm2 5l11 -21h-22zm1 -6l11 -21h-22zm1 -1l11 -21h-22zm1 7l11 -21h-22zm1 1l11 -21h-22zm1 -1l11 -21h-22zm0 0l11 -21h-22zm1 1l11 -21h-22zm1 0l11 -21h-22zm1 -7l11 -21h-22zm1 0l11 -21h-22zm1 -1l11 -21h-22zm0 2l11 -21h-22zm2 -1l11 -21h-22zm1 5l11 -21h-22zm2 2l11 -21h-22zm0 -7l11 -21h-22zm1 0l11 -21h-22zm4 0l11 -21h-22zm3 7l11 -21h-22zm2 0l11 -21h-22zm1 -8l11 -21h-22zm0 1l11 -21h-22zm1 1l11 -21h-22zm1 -1l11 -21h-22zm1 -1l11 -21h-22zm1 1l11 -21h-22zm1 7l11 -21h-22zm1 1l11 -21h-22zm1 -2l11 -21h-22zm1 1l11 -21h-22zm2 0l11 -21h-22zm5 1l11 -21h-22zm1 -7l11 -21h-22zm2 7l11 -21h-22zm3 -1l11 -21h-22zm0 -5l11 -21h-22zm1 5l11 -21h-22zm3 -7l11 -21h-22zm2 2l11 -21h-22zm3 7l11 -21h-22zm2 0l11 -21h-22zm1 -8l11 -21h-22zm3 8l11 -21h-22zm1 0l11 -21h-22zm1 0l11 -21h-22zm2 -6l11 -21h-22zm1 5l11 -21h-22zm1 2l11 -21h-22zm1 -1l11 -21h-22zm4 -6l11 -21h-22zm1 -1l11 -21h-22zm2 2l11 -21h-22zm2 6l11 -21h-22zm1 -7l11 -21h-22zm4 7l11 -21h-22zm1 -7l11 -21h-22zm0 1l11 -21h-22zm2 0l11 -21h-22zm1 -1l11 -21h-22zm5 0l11 -21h-22zm4 2l11 -21h-22zm4 6l11 -21h-22zm0 -6l11 -21h-22zm2 0l11 -21h-22zm1 7l11 -21h-22zm2 -1l11 -21h-22zm1 -6l11 -21h-22zm3 0l11 -21h-22zm1 22l11 -21h-22zm0 -22l11 -21h-22zm1 8l11 -21h-22zm3 -28l11 -21h-22zm2 28l11 -21h-22zm0 1l11 -21h-22zm1 -2l11 -21h-22zm2 -7l11 -21h-22zm1 7l11 -21h-22zm1 1l11 -21h-22zm0 -15l11 -21h-22zm4 16l11 -21h-22zm1 -2l11 -21h-22zm0 2l11 -21h-22zm2 0l11 -21h-22zm1 0l11 -21h-22zm1 -8l11 -21h-22zm3 7l11 -21h-22zm1 -6l11 -21h-22zm1 6l11 -21h-22zm1 -7l11 -21h-22zm1 8l11 -21h-22zm1 -7l11 -21h-22zm1 -1l11 -21h-22zm2 1l11 -21h-22zm1 5l11 -21h-22zm1 3l11 -21h-22zm1 -8l11 -21h-22zm3 7l11 -21h-22zm0 -1l11 -21h-22zm1 -6l11 -21h-22zm3 7l11 -21h-22zm2 -6l11 -21h-22zm2 6l11 -21h-22zm1 -8l11 -21h-22zm1 6l11 -21h-22zm1 -6l11 -21h-22zm2 8l11 -21h-22zm1 -1l11 -21h-22zm2 -7l11 -21h-22zm2 1l11 -21h-22zm1 -1l11 -21h-22zm1 7l11 -21h-22zm1 -7l11 -21h-22zm0 1l11 -21h-22zm2 7l11 -21h-22zm2 -8l11 -21h-22zm2 -1l11 -21h-22zm1 8l11 -21h-22zm1 -22l11 -21h-22zm2 16l11 -21h-22zm1 -1l11 -21h-22zm3 7l11 -21h-22zm1 -1l11 -21h-22zm1 -1l11 -21h-22zm4 -5l11 -21h-22zm1 0l11 -21h-22zm1 0l11 -21h-22zm0 18l11 -21h-22zm2 -11l11 -21h-22zm2 -2l11 -21h-22zm1 2l11 -21h-22zm0 -9l11 -21h-22zm1 9l11 -21h-22zm4 -9l11 -21h-22zm1 7l11 -21h-22zm1 -7l11 -21h-22zm1 7l11 -21h-22zm1 1l11 -21h-22zm1 -1l11 -21h-22zm0 -1l11 -21h-22zm3 2l11 -21h-22zm2 -9l11 -21h-22zm1 7l11 -21h-22zm1 -5l11 -21h-22zm1 -1l11 -21h-22zm1 6l11 -21h-22zm1 1l11 -21h-22zm1 0l11 -21h-22zm0 -7l11 -21h-22zm1 1l11 -21h-22zm1 7l11 -21h-22zm1 0l11 -21h-22zm1 -1l11 -21h-22zm1 0l11 -21h-22zm2 -8l11 -21h-22zm1 2l11 -21h-22zm2 -1l11 -21h-22zm1 6l11 -21h-22zm0 1l11 -21h-22zm2 -7l11 -21h-22zm1 7l11 -21h-22zm1 -7l11 -21h-22zm1 0l11 -21h-22zm4 0l11 -21h-22zm1 6l11 -21h-22zm0 -6l11 -21h-22zm1 0l11 -21h-22zm1 0l11 -21h-22zm1 7l11 -21h-22zm1 0l11 -21h-22zm1 -6l11 -21h-22zm0 4l11 -21h-22zm1 0l11 -21h-22zm1 1l11 -21h-22zm1 1l11 -21h-22zm2 -1l11 -21h-22zm1 -1l11 -21h-22zm1 2l11 -21h-22zm1 -7l11 -21h-22zm1 7l11 -21h-22zm1 -8l11 -21h-22zm1 8l11 -21h-22zm1 -7l11 -21h-22zm2 1l11 -21h-22zm2 6l11 -21h-22zm1 -7l11 -21h-22zm2 7l11 -21h-22zm1 -2l11 -21h-22zm2 -5l11 -21h-22zm3 8l11 -21h-22zm1 -9l11 -21h-22zm1 2l11 -21h-22zm3 -16l11 -21h-22zm1 15l11 -21h-22zm1 0l11 -21h-22zm0 1l11 -21h-22zm1 -2l11 -21h-22zm4 1l11 -21h-22zm1 1l11 -21h-22zm1 -1l11 -21h-22zm1 8l11 -21h-22zm1 -8l11 -21h-22zm2 8l11 -21h-22zm2 1l11 -21h-22zm3 -9l11 -21h-22zm1 1l11 -21h-22zm1 0l11 -21h-22zm1 -1l11 -21h-22zm2 2l11 -21h-22zm0 7l11 -21h-22zm1 -1l11 -21h-22zm3 0l11 -21h-22zm1 -5l11 -21h-22zm3 5l11 -21h-22zm1 -7l11 -21h-22zm1 0l11 -21h-22zm2 0l11 -21h-22zm2 7l11 -21h-22zm1 1l11 -21h-22zm1 -1l11 -21h-22zm0 -7l11 -21h-22zm1 7l11 -21h-22zm1 -7l11 -21h-22zm3 1l11 -21h-22zm2 7l11 -21h-22zm1 1l11 -21h-22zm1 -1l11 -21h-22zm2 -1l11 -21h-22zm0 2l11 -21h-22zm4 -2l11 -21h-22zm1 3l11 -21h-22zm0 -9l11 -21h-22zm3 0l11 -21h-22zm1 1l11 -21h-22zm3 0l11 -21h-22zm4 1l11 -21h-22zm2 -1l11 -21h-22zm2 1l11 -21h-22zm2 6l11 -21h-22zm3 -7l11 -21h-22zm3 0l11 -21h-22zm3 1l11 -21h-22zm0 7l11 -21h-22zm4 -1l11 -21h-22zm1 -6l11 -21h-22zm1 -1l11 -21h-22zm0 8l11 -21h-22zm2 -6l11 -21h-22zm1 -3l11 -21h-22zm2 8l11 -21h-22zm1 -7l11 -21h-22zm3 0l11 -21h-22zm1 8l11 -21h-22zm0 0l11 -21h-22zm1 -7l11 -21h-22zm1 0l11 -21h-22zm1 7l11 -21h-22zm3 -1l11 -21h-22zm2 0l11 -21h-22zm3 -7l11 -21h-22zm0 2l11 -21h-22zm1 6l11 -21h-22zm2 -8l11 -21h-22zm2 0l11 -21h-22zm1 1l11 -21h-22zm1 6l11 -21h-22zm1 -6l11 -21h-22zm1 7l11 -21h-22zm1 -8l11 -21h-22zm0 8l11 -21h-22zm1 0l11 -21h-22zm5 -1l11 -21h-22zm4 -8l11 -21h-22zm1 7l11 -21h-22zm3 1l11 -21h-22zm2 -7l11 -21h-22zm1 1l11 -21h-22zm1 5l11 -21h-22zm2 0l11 -21h-22zm1 0l11 -21h-22zm2 -6l11 -21h-22zm1 8l11 -21h-22zm2 -8l11 -21h-22zm1 0l11 -21h-22zm1 6l11 -21h-22zm4 -5l11 -21h-22zm1 6l11 -21h-22zm1 0l11 -21h-22zm1 0l11 -21h-22zm1 0l11 -21h-22zm2 -8l11 -21h-22zm3 1l11 -21h-22zm1 6l11 -21h-22zm1 -6l11 -21h-22zm1 1l11 -21h-22zm3 6l11 -21h-22zm1 -1l11 -21h-22zm1 -5l11 -21h-22zm3 7l11 -21h-22zm1 -8l11 -21h-22zm0 6l11 -21h-22zm1 2l11 -21h-22zm1 -1l11 -21h-22zm1 -1l11 -21h-22zm1 -6l11 -21h-22zm1 1l11 -21h-22zm0 6l11 -21h-22zm3 1l11 -21h-22zm1 -1l11 -21h-22zm1 1l11 -21h-22zm1 -1l11 -21h-22zm0 1l11 -21h-22zm1 -2l11 -21h-22zm1 1l11 -21h-22zm1 -1l11 -21h-22zm1 0l11 -21h-22zm1 -6l11 -21h-22zm2 1l11 -21h-22zm1 0l11 -21h-22zm1 0l11 -21h-22zm1 6l11 -21h-22zm1 -1l11 -21h-22zm4 -6l11 -21h-22zm1 0l11 -21h-22zm1 0l11 -21h-22zm2 1l11 -21h-22zm1 7l11 -21h-22zm1 -8l11 -21h-22zm2 8l11 -21h-22zm1 -9l11 -21h-22zm2 1l11 -21h-22zm2 7l11 -21h-22zm1 -6l11 -21h-22zm1 6l11 -21h-22zm1 -6l11 -21h-22zm1 -1l11 -21h-22zm1 7l11 -21h-22zm1 -7l11 -21h-22zm2 0l11 -21h-22zm1 6l11 -21h-22zm0 -6l11 -21h-22zm1 1l11 -21h-22zm1 0l11 -21h-22zm1 5l11 -21h-22zm2 -5l11 -21h-22zm0 6l11 -21h-22zm1 0l11 -21h-22zm1 0l11 -21h-22zm1 -7l11 -21h-22zm2 1l11 -21h-22zm4 -1l11 -21h-22zm2 8l11 -21h-22zm2 -2l11 -21h-22zm2 -5l11 -21h-22zm1 6l11 -21h-22zm1 -5l11 -21h-22zm1 -2l11 -21h-22zm3 7l11 -21h-22zm1 1l11 -21h-22zm1 0l11 -21h-22zm1 -6l11 -21h-22zm2 6l11 -21h-22zm0 -2l11 -21h-22zm4 -6l11 -21h-22zm1 7l11 -21h-22zm1 0l11 -21h-22zm1 -1l11 -21h-22zm1 1l11 -21h-22zm4 0l11 -21h-22zm1 -7l11 -21h-22zm1 7l11 -21h-22zm2 -7l11 -21h-22zm0 6l11 -21h-22zm1 -6l11 -21h-22zm1 0l11 -21h-22zm2 8l11 -21h-22zm1 -8l11 -21h-22zm2 0l11 -21h-22zm1 7l11 -21h-22zm1 -6l11 -21h-22zm2 6l11 -21h-22zm2 0l11 -21h-22zm1 0l11 -21h-22zm3 -7l11 -21h-22zm2 8l11 -21h-22zm2 -7l11 -21h-22zm1 0l11 -21h-22zm1 0l11 -21h-22zm2 1l11 -21h-22zm1 6l11 -21h-22zm1 -7l11 -21h-22zm4 6l11 -21h-22zm1 1l11 -21h-22zm1 -7l11 -21h-22zm2 -1l11 -21h-22zm5 8l11 -21h-22zm1 0l11 -21h-22zm2 0l11 -21h-22zm1 0l11 -21h-22zm2 -6l11 -21h-22zm2 0l11 -21h-22zm0 -1l11 -21h-22zm1 1l11 -21h-22zm3 7l11 -21h-22zm1 -2l11 -21h-22zm1 1l11 -21h-22zm1 -7l11 -21h-22zm1 0l11 -21h-22zm2 1l11 -21h-22zm0 7l11 -21h-22zm1 -1l11 -21h-22zm4 0l11 -21h-22zm1 -7l11 -21h-22zm2 2l11 -21h-22zm3 6l11 -21h-22zm1 -8l11 -21h-22zm1 7l11 -21h-22zm1 1l11 -21h-22zm1 -1l11 -21h-22zm1 1l11 -21h-22zm0 -8l11 -21h-22zm2 0l11 -21h-22zm1 0l11 -21h-22zm3 7l11 -21h-22zm1 0l11 -21h-22zm2 0l11 -21h-22zm1 -6l11 -21h-22zm1 1l11 -21h-22zm1 7l11 -21h-22zm1 -7l11 -21h-22zm1 0l11 -21h-22zm2 6l11 -21h-22zm1 -7l11 -21h-22zm1 8l11 -21h-22zm2 0l11 -21h-22zm1 -9l11 -21h-22zm5 0l11 -21h-22zm1 1l11 -21h-22zm3 -1l11 -21h-22zm2 1l11 -21h-22zm1 7l11 -21h-22zm1 -7l11 -21h-22zm2 6l11 -21h-22zm1 0l11 -21h-22zm0 0l11 -21h-22zm1 0l11 -21h-22zm1 2l11 -21h-22zm1 -8l11 -21h-22zm2 1l11 -21h-22zm3 -1l11 -21h-22zm1 1l11 -21h-22zm2 5l11 -21h-22zm0 1l11 -21h-22zm1 -1l11 -21h-22zm1 0l11 -21h-22zm2 1l11 -21h-22zm1 -7l11 -21h-22zm1 8l11 -21h-22zm1 -1l11 -21h-22zm1 0l11 -21h-22zm2 -7l11 -21h-22zm0 7l11 -21h-22zm1 -6l11 -21h-22zm2 -1l11 -21h-22zm1 0l11 -21h-22zm2 1l11 -21h-22zm2 6l11 -21h-22zm5 0l11 -21h-22zm2 -7l11 -21h-22zm1 -1l11 -21h-22zm1 8l11 -21h-22zm1 0l11 -21h-22zm2 -6l11 -21h-22zm1 4l11 -21h-22zm1 -4l11 -21h-22zm0 -1l11 -21h-22zm1 0l11 -21h-22zm3 7l11 -21h-22zm2 -8l11 -21h-22zm1 8l11 -21h-22zm1 -1l11 -21h-22zm1 0l11 -21h-22zm1 -6l11 -21h-22zm0 7l11 -21h-22zm1 -1l11 -21h-22zm1 -7l11 -21h-22zm1 2l11 -21h-22zm1 6l11 -21h-22zm1 -7l11 -21h-22zm3 6l11 -21h-22zm1 -6l11 -21h-22zm2 0l11 -21h-22zm2 -1l11 -21h-22zm3 6l11 -21h-22zm2 0l11 -21h-22zm2 -6l11 -21h-22zm1 -1l11 -21h-22zm0 1l11 -21h-22zm2 0l11 -21h-22zm2 -1l11 -21h-22zm1 8l11 -21h-22zm1 -7l11 -21h-22zm1 0l11 -21h-22zm2 1l11 -21h-22zm2 7l11 -21h-22zm0 -1l11 -21h-22zm3 1l11 -21h-22zm1 -1l11 -21h-22zm1 -1l11 -21h-22zm2 1l11 -21h-22zm1 1l11 -21h-22zm2 -7l11 -21h-22zm2 1l11 -21h-22zm1 5l11 -21h-22zm3 0l11 -21h-22zm2 0l11 -21h-22zm2 -5l11 -21h-22zm1 -2l11 -21h-22zm1 2l11 -21h-22zm2 -1l11 -21h-22zm2 0l11 -21h-22zm1 -1l11 -21h-22zm1 0l11 -21h-22zm1 8l11 -21h-22zm3 1l11 -21h-22zm0 -2l11 -21h-22zm2 0l11 -21h-22zm2 2l11 -21h-22zm1 -7l11 -21h-22zm0 0l11 -21h-22zm5 -1l11 -21h-22zm1 0l11 -21h-22zm2 0l11 -21h-22zm2 7l11 -21h-22zm3 -5l11 -21h-22zm1 -2l11 -21h-22zm2 32l11 -21h-22zm0 -31l11 -21h-22zm5 1l11 -21h-22zm0 0l11 -21h-22zm1 5l11 -21h-22zm2 -6l11 -21h-22zm2 6l11 -21h-22zm2 -6l11 -21h-22zm2 7l11 -21h-22zm2 -7l11 -21h-22zm1 8l11 -21h-22zm1 -1l11 -21h-22zm2 1l11 -21h-22zm1 -7l11 -21h-22zm0 7l11 -21h-22zm1 -1l11 -21h-22zm1 1l11 -21h-22zm1 -2l11 -21h-22zm1 -5l11 -21h-22zm1 1l11 -21h-22zm0 -1l11 -21h-22zm1 1l11 -21h-22zm1 6l11 -21h-22zm2 0l11 -21h-22zm4 -1l11 -21h-22zm1 -7l11 -21h-22zm2 1l11 -21h-22zm0 1l11 -21h-22zm1 -1l11 -21h-22zm2 -1l11 -21h-22zm1 8l11 -21h-22zm4 -1l11 -21h-22zm1 -6l11 -21h-22zm1 1l11 -21h-22zm1 0l11 -21h-22zm1 6l11 -21h-22zm1 0l11 -21h-22zm3 -8l11 -21h-22zm1 1l11 -21h-22zm1 0l11 -21h-22zm1 -1l11 -21h-22zm2 2l11 -21h-22zm1 5l11 -21h-22zm1 0l11 -21h-22zm1 0l11 -21h-22zm1 -7l11 -21h-22zm6 2l11 -21h-22zm0 -1l11 -21h-22zm1 7l11 -21h-22zm2 -8l11 -21h-22zm1 7l11 -21h-22zm2 -7l11 -21h-22zm4 0l11 -21h-22zm1 -1l11 -21h-22zm2 8l11 -21h-22zm1 -1l11 -21h-22zm2 -5l11 -21h-22zm2 -2l11 -21h-22zm1 2l11 -21h-22zm1 -2l11 -21h-22zm1 7l11 -21h-22zm1 -5l11 -21h-22zm2 0l11 -21h-22zm2 4l11 -21h-22zm1 -6l11 -21h-22zm0 1l11 -21h-22zm1 7l11 -21h-22zm3 -7l11 -21h-22zm1 7l11 -21h-22zm1 -7l11 -21h-22zm2 -1l11 -21h-22zm2 0l11 -21h-22zm0 1l11 -21h-22zm1 0l11 -21h-22zm2 -1l11 -21h-22zm2 7l11 -21h-22zm3 -6l11 -21h-22zm1 6l11 -21h-22zm1 -6l11 -21h-22zm1 5l11 -21h-22zm1 -6l11 -21h-22zm1 6l11 -21h-22zm1 1l11 -21h-22zm1 -7l11 -21h-22zm1 0l11 -21h-22zm0 5l11 -21h-22zm1 -5l11 -21h-22zm1 0l11 -21h-22zm2 -1l11 -21h-22zm2 8l11 -21h-22zm1 -6l11 -21h-22zm3 6l11 -21h-22zm1 -8l11 -21h-22zm0 0l11 -21h-22zm1 0l11 -21h-22zm1 -20l11 -21h-22zm1 22l11 -21h-22zm2 6l11 -21h-22zm0 -2l11 -21h-22zm2 -6l11 -21h-22zm1 6l11 -21h-22zm4 -5l11 -21h-22zm1 0l11 -21h-22zm1 6l11 -21h-22zm1 -7l11 -21h-22zm1 6l11 -21h-22zm1 -6l11 -21h-22zm2 2l11 -21h-22zm1 -1l11 -21h-22zm1 0l11 -21h-22zm1 6l11 -21h-22zm1 -6l11 -21h-22zm1 0l11 -21h-22zm2 0l11 -21h-22zm2 6l11 -21h-22zm3 -6l11 -21h-22zm1 6l11 -21h-22zm0 -1l11 -21h-22zm4 -5l11 -21h-22zm1 -1l11 -21h-22zm2 0l11 -21h-22zm1 1l11 -21h-22zm1 -1l11 -21h-22zm2 0l11 -21h-22zm4 8l11 -21h-22zm6 -7l11 -21h-22zm-1158 79l11 -21h-22zm0 22l11 -21h-22zm0 -66l11 -21h-22zm398 25l11 -21h-22zm0 -25l11 -21h-22zm-605 -130l11 -21h-22z" fill="#ff00ff"/>
<path d="M481.8 930.1 485.1 936.8 488.5 942.7 491.9 948.3 495.2 953.8 498.6 958.8 502.0 963.5 505.3 967.6 508.7 971.2 512.1 974.5 515.4 977.6 518.8 980.4 522.1 983.1 525.5 985.7 528.9 988.3 532.2 990.7 535.6 993.2 539.0 995.6 542.3 997.9 545.7 1000.1 558.3 1007.4 570.9 1013.2 583.5 1018.5 596.1 1023.8 608.8 1029.0 621.4 1033.4 634.0 1037.0 646.6 1040.5 659.2 1043.9 671.8 1046.8 684.4 1048.9 697.1 1050.1 709.7 1050.9 722.3 1052.3 734.9 1054.7 747.5 1057.0 760.1 1058.6 772.7 1059.0 785.3 1058.9 798.0 1059.0 831.6 1061.1 865.2 1060.5 898.9 1061.1 932.5 1062.3 966.1 1063.7 999.8 1064.9 1033.4 1065.5 1067.0 1066.0 1100.7 1065.1 1134.3 1067.4 1168.0 1067.0 1201.6 1069.5 1235.2 1069.9 1268.9 1068.5 1302.5 1069.9 1336.1 1067.6 1369.8 1070.3 1403.4 1071.1 1437.0 1071.9 1470.7 1073.3 1504.3 1071.2 1538.0 1071.5 1571.6 1070.8 1605.2 1072.3 1638.9 1073.8 1672.5 1075.5 1706.1 1075.1 1739.8 1074.5 1773.4 1073.9 1807.0 1072.6 1840.7 1075.4 1874.3 1074.9 1907.9 1077.4 1941.6 1077.3 1975.2 1075.6 1975.2 1087.4 1941.6 1089.0 1907.9 1089.2 1874.3 1086.7 1840.7 1087.2 1807.0 1084.4 1773.4 1085.7 1739.8 1086.3 1706.1 1086.9 1672.5 1087.3 1638.9 1085.6 1605.2 1084.1 1571.6 1082.6 1538.0 1083.3 1504.3 1083.0 1470.7 1085.1 1437.0 1083.7 1403.4 1082.8 1369.8 1082.1 1336.1 1079.3 1302.5 1081.7 1268.9 1080.2 1235.2 1081.7 1201.6 1081.2 1168.0 1078.8 1134.3 1079.2 1100.7 1076.8 1067.0 1077.8 1033.4 1077.3 999.8 1076.7 966.1 1075.5 932.5 1074.0 898.9 1072.9 865.2 1072.2 831.6 1072.9 798.0 1070.8 785.3 1070.7 772.7 1070.8 760.1 1070.4 747.5 1068.8 734.9 1066.4 722.3 1064.1 709.7 1062.6 697.1 1061.8 684.4 1060.7 671.8 1058.6 659.2 1055.7 646.6 1052.2 634.0 1048.8 621.4 1045.2 608.8 1040.8 596.1 1035.6 583.5 1030.3 570.9 1025.0 558.3 1019.2 545.7 1011.9 542.3 1009.7 539.0 1007.4 535.6 1005.0 532.2 1002.5 528.9 1000.1 525.5 997.5 522.1 994.9 518.8 992.2 515.4 989.4 512.1 986.3 508.7 983.0 505.3 979.4 502.0 975.2 498.6 970.6 495.2 965.5 491.9 960.1 488.5 954.5 485.1 948.6 481.8 941.9z" fill="#008000" stroke="#008000" stroke-width="22" stroke-linejoin="round"/>
<path d="M462 761l12 12-12 12-12-12zm0 5l12 12-12 12-12-12zm0 5l12 12-12 12-12-12zm0 8l12 12-12 12-12-12zm0 -11l12 12-12 12-12-12zm1 10l12 12-12 12-12-12zm0 3l12 12-12 12-12-12zm0 9l12 12-12 12-12-12zm0 -1l12 12-12 12-12-12zm0 2l12 12-12 12-12-12zm1 5l12 12-12 12-12-12zm0 1l12 12-12 12-12-12zm0 9l12 12-12 12-12-12zm1 3l12 12-12 12-12-12zm0 4l12 12-12 12-12-12zm0 8l12 12-12 12-12-12zm1 6l12 12-12 12-12-12zm0 8l12 12-12 12-12-12zm1 11l12 12-12 12-12-12zm0 -4l12 12-12 12-12-12zm0 11l12 12-12 12-12-12zm1 8l12 12-12 12-12-12zm0 -7l12 12-12 12-12-12zm1 19l12 12-12 12-12-12zm0 0l12 12-12 12-12-12zm1 -10l12 12-12 12-12-12zm0 5l12 12-12 12-12-12zm0 15l12 12-12 12-12-12zm1 -1l12 12-12 12-12-12zm0 -2l12 12-12 12-12-12zm1 8l12 12-12 12-12-12zm0 9l12 12-12 12-12-12zm1 -9l12 12-12 12-12-12zm0 4l12 12-12 12-12-12zm0 3l12 12-12 12-12-12zm1 -6l12 12-12 12-12-12zm0 8l12 12-12 12-12-12zm1 9l12 12-12 12-12-12zm0 -4l12 12-12 12-12-12zm0 -8l12 12-12 12-12-12zm1 19l12 12-12 12-12-12zm0 -2l12 12-12 12-12-12zm1 6l12 12-12 12-12-12zm0 -27l12 12-12 12-12-12zm1 32l12 12-12 12-12-12zm0 -12l12 12-12 12-12-12zm0 -1l12 12-12 12-12-12zm1 14l12 12-12 12-12-12zm0 2l12 12-12 12-12-12zm1 -34l12 12-12 12-12-12zm0 29l12 12-12 12-12-12zm1 10l12 12-12 12-12-12zm0 -2l12 12-12 12-12-12zm0 -1l12 12-12 12-12-12zm1 3l12 12-12 12-12-12zm0 -12l12 12-12 12-12-12zm1 -2l12 12-12 12-12-12zm0 22l12 12-12 12-12-12zm0 -3l12 12-12 12-12-12zm1 -9l12 12-12 12-12-12zm0 11l12 12-12 12-12-12zm1 -2l12 12-12 12-12-12zm0 -6l12 12-12 12-12-12zm1 -7l12 12-12 12-12-12zm0 1l12 12-12 12-12-12zm0 13l12 12-12 12-12-12zm2 -26l12 12-12 12-12-12zm1 37l12 12-12 12-12-12zm1 -35l12 12-12 12-12-12zm2 22l12 12-12 12-12-12zm2 22l12 12-12 12-12-12zm3 3l12 12-12 12-12-12zm1 -15l12 12-12 12-12-12zm2 4l12 12-12 12-12-12zm1 19l12 12-12 12-12-12zm2 -19l12 12-12 12-12-12zm1 4l12 12-12 12-12-12zm4 -13l12 12-12 12-12-12zm1 17l12 12-12 12-12-12zm1 0l12 12-12 12-12-12zm0 19l12 12-12 12-12-12zm2 3l12 12-12 12-12-12zm4 -15l12 12-12 12-12-12zm4 22l12 12-12 12-12-12zm8 -14l12 12-12 12-12-12zm2 1l12 12-12 12-12-12zm1 23l12 12-12 12-12-12zm0 -19l12 12-12 12-12-12zm2 -2l12 12-12 12-12-12zm1 19l12 12-12 12-12-12zm1 -15l12 12-12 12-12-12zm1 17l12 12-12 12-12-12zm0 1l12 12-12 12-12-12zm2 -14l12 12-12 12-12-12zm2 -3l12 12-12 12-12-12zm1 2l12 12-12 12-12-12zm1 19l12 12-12 12-12-12zm1 0l12 12-12 12-12-12zm2 2l12 12-12 12-12-12zm2 4l12 12-12 12-12-12zm2 -2l12 12-12 12-12-12zm6 -14l12 12-12 12-12-12zm3 -6l12 12-12 12-12-12zm3 29l12 12-12 12-12-12zm1 -1l12 12-12 12-12-12zm1 -1l12 12-12 12-12-12zm5 -15l12 12-12 12-12-12zm3 19l12 12-12 12-12-12zm2 0l12 12-12 12-12-12zm2 4l12 12-12 12-12-12zm1 -2l12 12-12 12-12-12zm4 1l12 12-12 12-12-12zm5 -13l12 12-12 12-12-12zm1 -1l12 12-12 12-12-12zm3 19l12 12-12 12-12-12zm0 -19l12 12-12 12-12-12zm1 19l12 12-12 12-12-12zm1 2l12 12-12 12-12-12zm2 -17l12 12-12 12-12-12zm1 18l12 12-12 12-12-12zm1 1l12 12-12 12-12-12zm2 -19l12 12-12 12-12-12zm4 -1l12 12-12 12-12-12zm1 22l12 12-12 12-12-12zm1 0l12 12-12 12-12-12zm1 -19l12 12-12 12-12-12zm1 3l12 12-12 12-12-12zm2 0l12 12-12 12-12-12zm3 -1l12 12-12 12-12-12zm0 19l12 12-12 12-12-12zm5 2l12 12-12 12-12-12zm1 -18l12 12-12 12-12-12zm1 21l12 12-12 12-12-12zm1 -1l12 12-12 12-12-12zm1 -1l12 12-12 12-12-12zm1 -23l12 12-12 12-12-12zm1 8l12 12-12 12-12-12zm3 -2l12 12-12 12-12-12zm1 20l12 12-12 12-12-12zm1 0l12 12-12 12-12-12zm4 -36l12 12-12 12-12-12zm3 38l12 12-12 12-12-12zm1 -18l12 12-12 12-12-12zm2 0l12 12-12 12-12-12zm6 23l12 12-12 12-12-12zm2 0l12 12-12 12-12-12zm1 -18l12 12-12 12-12-12zm2 -1l12 12-12 12-12-12zm2 0l12 12-12 12-12-12zm1 1l12 12-12 12-12-12zm2 2l12 12-12 12-12-12zm7 20l12 12-12 12-12-12zm1 -20l12 12-12 12-12-12zm1 1l12 12-12 12-12-12zm1 -1l12 12-12 12-12-12zm4 22l12 12-12 12-12-12zm2 -2l12 12-12 12-12-12zm2 -18l12 12-12 12-12-12zm3 1l12 12-12 12-12-12zm7 3l12 12-12 12-12-12zm2 1l12 12-12 12-12-12zm2 17l12 12-12 12-12-12zm0 -1l12 12-12 12-12-12zm1 2l12 12-12 12-12-12zm1 -19l12 12-12 12-12-12zm3 17l12 12-12 12-12-12zm4 1l12 12-12 12-12-12zm1 -18l12 12-12 12-12-12zm1 18l12 12-12 12-12-12zm0 -18l12 12-12 12-12-12zm1 0l12 12-12 12-12-12zm1 -21l12 12-12 12-12-12zm4 40l12 12-12 12-12-12zm1 2l12 12-12 12-12-12zm1 -21l12 12-12 12-12-12zm2 3l12 12-12 12-12-12zm0 -1l12 12-12 12-12-12zm4 -1l12 12-12 12-12-12zm2 1l12 12-12 12-12-12zm5 -2l12 12-12 12-12-12zm2 1l12 12-12 12-12-12zm3 3l12 12-12 12-12-12zm1 17l12 12-12 12-12-12zm6 3l12 12-12 12-12-12zm2 -21l12 12-12 12-12-12zm1 3l12 12-12 12-12-12zm1 -1l12 12-12 12-12-12zm1 1l12 12-12 12-12-12zm4 19l12 12-12 12-12-12zm2 -20l12 12-12 12-12-12zm4 23l12 12-12 12-12-12zm1 -4l12 12-12 12-12-12zm1 -16l12 12-12 12-12-12zm3 -2l12 12-12 12-12-12zm1 20l12 12-12 12-12-12zm2 -30l12 12-12 12-12-12zm1 11l12 12-12 12-12-12zm1 18l12 12-12 12-12-12zm1 -37l12 12-12 12-12-12zm3 41l12 12-12 12-12-12zm1 0l12 12-12 12-12-12zm2 -21l12 12-12 12-12-12zm3 0l12 12-12 12-12-12zm2 3l12 12-12 12-12-12zm3 16l12 12-12 12-12-12zm2 -16l12 12-12 12-12-12zm4 19l12 12-12 12-12-12zm3 0l12 12-12 12-12-12zm1 0l12 12-12 12-12-12zm1 -32l12 12-12 12-12-12zm0 29l12 12-12 12-12-12zm4 2l12 12-12 12-12-12zm2 -18l12 12-12 12-12-12zm3 -19l12 12-12 12-12-12zm1 34l12 12-12 12-12-12zm3 -15l12 12-12 12-12-12zm1 17l12 12-12 12-12-12zm2 -2l12 12-12 12-12-12zm2 -16l12 12-12 12-12-12zm4 1l12 12-12 12-12-12zm1 -3l12 12-12 12-12-12zm1 2l12 12-12 12-12-12zm4 18l12 12-12 12-12-12zm1 -18l12 12-12 12-12-12zm4 1l12 12-12 12-12-12zm3 -1l12 12-12 12-12-12zm1 19l12 12-12 12-12-12zm3 -19l12 12-12 12-12-12zm3 -16l12 12-12 12-12-12zm1 18l12 12-12 12-12-12zm1 -15l12 12-12 12-12-12zm6 0l12 12-12 12-12-12zm4 17l12 12-12 12-12-12zm2 18l12 12-12 12-12-12zm1 -2l12 12-12 12-12-12zm2 -17l12 12-12 12-12-12zm1 17l12 12-12 12-12-12zm3 -23l12 12-12 12-12-12zm1 6l12 12-12 12-12-12zm2 0l12 12-12 12-12-12zm1 0l12 12-12 12-12-12zm4 0l12 12-12 12-12-12zm1 -15l12 12-12 12-12-12zm1 -4l12 12-12 12-12-12zm2 18l12 12-12 12-12-12zm5 16l12 12-12 12-12-12zm1 -18l12 12-12 12-12-12zm1 18l12 12-12 12-12-12zm1 -15l12 12-12 12-12-12zm3 -22l12 12-12 12-12-12zm3 20l12 12-12 12-12-12zm0 2l12 12-12 12-12-12zm4 -3l12 12-12 12-12-12zm3 -20l12 12-12 12-12-12zm1 41l12 12-12 12-12-12zm2 -18l12 12-12 12-12-12zm5 17l12 12-12 12-12-12zm3 -18l12 12-12 12-12-12zm1 -1l12 12-12 12-12-12zm2 21l12 12-12 12-12-12zm3 -21l12 12-12 12-12-12zm1 0l12 12-12 12-12-12zm2 0l12 12-12 12-12-12zm5 2l12 12-12 12-12-12zm1 -17l12 12-12 12-12-12zm1 14l12 12-12 12-12-12zm1 21l12 12-12 12-12-12zm2 -18l12 12-12 12-12-12zm1 -2l12 12-12 12-12-12zm1 1l12 12-12 12-12-12zm5 17l12 12-12 12-12-12zm1 -17l12 12-12 12-12-12zm3 18l12 12-12 12-12-12zm5 -19l12 12-12 12-12-12zm1 2l12 12-12 12-12-12zm1 16l12 12-12 12-12-12zm1 -28l12 12-12 12-12-12zm1 12l12 12-12 12-12-12zm2 17l12 12-12 12-12-12zm1 2l12 12-12 12-12-12zm1 1l12 12-12 12-12-12zm1 -22l12 12-12 12-12-12zm1 1l12 12-12 12-12-12zm1 -1l12 12-12 12-12-12zm1 22l12 12-12 12-12-12zm4 -3l12 12-12 12-12-12zm2 -17l12 12-12 12-12-12zm1 1l12 12-12 12-12-12zm2 0l12 12-12 12-12-12zm0 19l12 12-12 12-12-12zm1 -21l12 12-12 12-12-12zm2 20l12 12-12 12-12-12zm1 -36l12 12-12 12-12-12zm3 38l12 12-12 12-12-12zm1 -20l12 12-12 12-12-12zm1 -2l12 12-12 12-12-12zm1 19l12 12-12 12-12-12zm1 -18l12 12-12 12-12-12zm0 1l12 12-12 12-12-12zm1 1l12 12-12 12-12-12zm1 -2l12 12-12 12-12-12zm1 20l12 12-12 12-12-12zm2 -2l12 12-12 12-12-12zm0 -19l12 12-12 12-12-12zm1 19l12 12-12 12-12-12zm1 1l12 12-12 12-12-12zm1 -17l12 12-12 12-12-12zm4 -2l12 12-12 12-12-12zm5 20l12 12-12 12-12-12zm2 0l12 12-12 12-12-12zm3 -19l12 12-12 12-12-12zm1 0l12 12-12 12-12-12zm1 2l12 12-12 12-12-12zm1 -2l12 12-12 12-12-12zm1 1l12 12-12 12-12-12zm4 19l12 12-12 12-12-12zm5 0l12 12-12 12-12-12zm2 0l12 12-12 12-12-12zm0 0l12 12-12 12-12-12zm1 -36l12 12-12 12-12-12zm3 37l12 12-12 12-12-12zm4 1l12 12-12 12-12-12zm1 -19l12 12-12 12-12-12zm1 16l12 12-12 12-12-12zm4 2l12 12-12 12-12-12zm1 -22l12 12-12 12-12-12zm1 22l12 12-12 12-12-12zm0 -32l12 12-12 12-12-12zm3 12l12 12-12 12-12-12zm1 21l12 12-12 12-12-12zm5 -1l12 12-12 12-12-12zm1 -1l12 12-12 12-12-12zm3 -19l12 12-12 12-12-12zm3 21l12 12-12 12-12-12zm1 -40l12 12-12 12-12-12zm1 38l12 12-12 12-12-12zm2 -20l12 12-12 12-12-12zm1 20l12 12-12 12-12-12zm5 -20l12 12-12 12-12-12zm0 22l12 12-12 12-12-12zm1 -2l12 12-12 12-12-12zm1 -18l12 12-12 12-12-12zm1 -20l12 12-12 12-12-12zm2 37l12 12-12 12-12-12zm1 -19l12 12-12 12-12-12zm2 20l12 12-12 12-12-12zm3 -18l12 12-12 12-12-12zm1 1l12 12-12 12-12-12zm2 -2l12 12-12 12-12-12zm2 19l12 12-12 12-12-12zm4 -19l12 12-12 12-12-12zm2 3l12 12-12 12-12-12zm4 -2l12 12-12 12-12-12zm1 -18l12 12-12 12-12-12zm1 20l12 12-12 12-12-12zm2 18l12 12-12 12-12-12zm1 -1l12 12-12 12-12-12zm4 0l12 12-12 12-12-12zm2 0l12 12-12 12-12-12zm1 -21l12 12-12 12-12-12zm1 2l12 12-12 12-12-12zm2 -1l12 12-12 12-12-12zm1 1l12 12-12 12-12-12zm0 -4l12 12-12 12-12-12zm1 4l12 12-12 12-12-12zm3 17l12 12-12 12-12-12zm2 1l12 12-12 12-12-12zm4 -20l12 12-12 12-12-12zm1 19l12 12-12 12-12-12zm0 -18l12 12-12 12-12-12zm2 18l12 12-12 12-12-12zm2 -16l12 12-12 12-12-12zm8 -1l12 12-12 12-12-12zm3 -2l12 12-12 12-12-12zm1 1l12 12-12 12-12-12zm5 1l12 12-12 12-12-12zm1 20l12 12-12 12-12-12zm5 -1l12 12-12 12-12-12zm3 1l12 12-12 12-12-12zm2 1l12 12-12 12-12-12zm4 -2l12 12-12 12-12-12zm1 -1l12 12-12 12-12-12zm1 -15l12 12-12 12-12-12zm3 -2l12 12-12 12-12-12zm1 2l12 12-12 12-12-12zm3 0l12 12-12 12-12-12zm6 17l12 12-12 12-12-12zm1 3l12 12-12 12-12-12zm2 -21l12 12-12 12-12-12zm2 1l12 12-12 12-12-12zm1 -2l12 12-12 12-12-12zm5 1l12 12-12 12-12-12zm1 1l12 12-12 12-12-12zm1 18l12 12-12 12-12-12zm2 -27l12 12-12 12-12-12zm1 27l12 12-12 12-12-12zm2 1l12 12-12 12-12-12zm1 -21l12 12-12 12-12-12zm3 0l12 12-12 12-12-12zm1 21l12 12-12 12-12-12zm4 -21l12 12-12 12-12-12zm1 19l12 12-12 12-12-12zm1 -40l12 12-12 12-12-12zm4 23l12 12-12 12-12-12zm0 -14l12 12-12 12-12-12zm2 30l12 12-12 12-12-12zm4 -18l12 12-12 12-12-12zm0 21l12 12-12 12-12-12zm1 -22l12 12-12 12-12-12zm2 20l12 12-12 12-12-12zm1 2l12 12-12 12-12-12zm1 -23l12 12-12 12-12-12zm5 4l12 12-12 12-12-12zm2 -19l12 12-12 12-12-12zm1 18l12 12-12 12-12-12zm2 18l12 12-12 12-12-12zm1 -17l12 12-12 12-12-12zm1 20l12 12-12 12-12-12zm1 0l12 12-12 12-12-12zm2 -1l12 12-12 12-12-12zm1 -21l12 12-12 12-12-12zm1 0l12 12-12 12-12-12zm1 -20l12 12-12 12-12-12zm2 25l12 12-12 12-12-12zm1 -17l12 12-12 12-12-12zm0 34l12 12-12 12-12-12zm1 -18l12 12-12 12-12-12zm4 -1l12 12-12 12-12-12zm5 2l12 12-12 12-12-12zm3 18l12 12-12 12-12-12zm3 -18l12 12-12 12-12-12zm5 16l12 12-12 12-12-12zm1 3l12 12-12 12-12-12zm1 -20l12 12-12 12-12-12zm1 1l12 12-12 12-12-12zm2 -2l12 12-12 12-12-12zm2 1l12 12-12 12-12-12zm3 19l12 12-12 12-12-12zm2 -18l12 12-12 12-12-12zm3 -1l12 12-12 12-12-12zm1 17l12 12-12 12-12-12zm3 -19l12 12-12 12-12-12zm2 0l12 12-12 12-12-12zm0 2l12 12-12 12-12-12zm2 -3l12 12-12 12-12-12zm1 2l12 12-12 12-12-12zm3 17l12 12-12 12-12-12zm5 1l12 12-12 12-12-12zm2 -2l12 12-12 12-12-12zm1 1l12 12-12 12-12-12zm2 -17l12 12-12 12-12-12zm0 17l12 12-12 12-12-12zm1 2l12 12-12 12-12-12zm2 -22l12 12-12 12-12-12zm3 -20l12 12-12 12-12-12zm1 21l12 12-12 12-12-12zm2 1l12 12-12 12-12-12zm1 18l12 12-12 12-12-12zm1 1l12 12-12 12-12-12zm4 -1l12 12-12 12-12-12zm4 1l12 12-12 12-12-12zm4 -18l12 12-12 12-12-12zm6 -1l12 12-12 12-12-12zm3 0l12 12-12 12-12-12zm1 1l12 12-12 12-12-12zm2 3l12 12-12 12-12-12zm5 -4l12 12-12 12-12-12zm2 1l12 12-12 12-12-12zm0 -1l12 12-12 12-12-12zm1 0l12 12-12 12-12-12zm3 21l12 12-12 12-12-12zm2 -22l12 12-12 12-12-12zm0 22l12 12-12 12-12-12zm1 0l12 12-12 12-12-12zm1 -18l12 12-12 12-12-12zm2 18l12 12-12 12-12-12zm2 -1l12 12-12 12-12-12zm1 -18l12 12-12 12-12-12zm1 17l12 12-12 12-12-12zm1 -18l12 12-12 12-12-12zm2 19l12 12-12 12-12-12zm5 -18l12 12-12 12-12-12zm1 14l12 12-12 12-12-12zm4 -15l12 12-12 12-12-12zm0 -2l12 12-12 12-12-12zm3 21l12 12-12 12-12-12zm2 -3l12 12-12 12-12-12zm1 -18l12 12-12 12-12-12zm1 20l12 12-12 12-12-12zm1 -20l12 12-12 12-12-12zm2 18l12 12-12 12-12-12zm2 0l12 12-12 12-12-12zm1 1l12 12-12 12-12-12zm2 -17l12 12-12 12-12-12zm1 -2l12 12-12 12-12-12zm5 -1l12 12-12 12-12-12zm3 2l12 12-12 12-12-12zm2 19l12 12-12 12-12-12zm3 -17l12 12-12 12-12-12zm4 0l12 12-12 12-12-12zm3 20l12 12-12 12-12-12zm1 -20l12 12-12 12-12-12zm0 19l12 12-12 12-12-12zm2 -21l12 12-12 12-12-12zm2 21l12 12-12 12-12-12zm1 -20l12 12-12 12-12-12zm5 2l12 12-12 12-12-12zm1 16l12 12-12 12-12-12zm5 -17l12 12-12 12-12-12zm1 19l12 12-12 12-12-12zm1 0l12 12-12 12-12-12zm4 -20l12 12-12 12-12-12zm1 20l12 12-12 12-12-12zm3 -1l12 12-12 12-12-12zm2 0l12 12-12 12-12-12zm1 -16l12 12-12 12-12-12zm1 17l12 12-12 12-12-12zm2 -24l12 12-12 12-12-12zm1 26l12 12-12 12-12-12zm2 -22l12 12-12 12-12-12zm2 2l12 12-12 12-12-12zm1 19l12 12-12 12-12-12zm2 -3l12 12-12 12-12-12zm2 3l12 12-12 12-12-12zm1 1l12 12-12 12-12-12zm2 -21l12 12-12 12-12-12zm4 -2l12 12-12 12-12-12zm9 -18l12 12-12 12-12-12zm3 21l12 12-12 12-12-12zm4 19l12 12-12 12-12-12zm2 -20l12 12-12 12-12-12zm1 -5l12 12-12 12-12-12zm1 7l12 12-12 12-12-12zm1 19l12 12-12 12-12-12zm2 -20l12 12-12 12-12-12zm1 18l12 12-12 12-12-12zm1 -16l12 12-12 12-12-12zm5 -1l12 12-12 12-12-12zm4 18l12 12-12 12-12-12zm1 1l12 12-12 12-12-12zm3 -17l12 12-12 12-12-12zm1 0l12 12-12 12-12-12zm1 -18l12 12-12 12-12-12zm2 19l12 12-12 12-12-12zm1 15l12 12-12 12-12-12zm1 -19l12 12-12 12-12-12zm1 -20l12 12-12 12-12-12zm1 41l12 12-12 12-12-12zm1 -18l12 12-12 12-12-12zm1 0l12 12-12 12-12-12zm1 19l12 12-12 12-12-12zm3 -20l12 12-12 12-12-12zm1 -2l12 12-12 12-12-12zm1 20l12 12-12 12-12-12zm1 -17l12 12-12 12-12-12zm2 -1l12 12-12 12-12-12zm0 20l12 12-12 12-12-12zm2 -20l12 12-12 12-12-12zm2 0l12 12-12 12-12-12zm1 0l12 12-12 12-12-12zm5 0l12 12-12 12-12-12zm1 -23l12 12-12 12-12-12zm1 20l12 12-12 12-12-12zm1 21l12 12-12 12-12-12zm2 -2l12 12-12 12-12-12zm2 -19l12 12-12 12-12-12zm1 21l12 12-12 12-12-12zm2 -2l12 12-12 12-12-12zm1 -18l12 12-12 12-12-12zm1 18l12 12-12 12-12-12zm2 -17l12 12-12 12-12-12zm1 0l12 12-12 12-12-12zm2 18l12 12-12 12-12-12zm4 -2l12 12-12 12-12-12zm0 -15l12 12-12 12-12-12zm1 15l12 12-12 12-12-12zm3 2l12 12-12 12-12-12zm1 -20l12 12-12 12-12-12zm2 20l12 12-12 12-12-12zm4 -20l12 12-12 12-12-12zm0 21l12 12-12 12-12-12zm2 0l12 12-12 12-12-12zm1 -1l12 12-12 12-12-12zm1 -1l12 12-12 12-12-12zm1 -31l12 12-12 12-12-12zm2 30l12 12-12 12-12-12zm1 2l12 12-12 12-12-12zm1 -2l12 12-12 12-12-12zm1 0l12 12-12 12-12-12zm2 4l12 12-12 12-12-12zm1 -36l12 12-12 12-12-12zm1 15l12 12-12 12-12-12zm5 19l12 12-12 12-12-12zm2 1l12 12-12 12-12-12zm1 0l12 12-12 12-12-12zm2 -26l12 12-12 12-12-12zm1 26l12 12-12 12-12-12zm2 -19l12 12-12 12-12-12zm4 0l12 12-12 12-12-12zm1 19l12 12-12 12-12-12zm5 -21l12 12-12 12-12-12zm2 21l12 12-12 12-12-12zm3 -20l12 12-12 12-12-12zm1 -2l12 12-12 12-12-12zm2 22l12 12-12 12-12-12zm1 -19l12 12-12 12-12-12zm1 -18l12 12-12 12-12-12zm6 15l12 12-12 12-12-12zm1 22l12 12-12 12-12-12zm1 -4l12 12-12 12-12-12zm4 3l12 12-12 12-12-12zm4 -27l12 12-12 12-12-12zm1 7l12 12-12 12-12-12zm1 21l12 12-12 12-12-12zm1 -41l12 12-12 12-12-12zm2 38l12 12-12 12-12-12zm2 -17l12 12-12 12-12-12zm1 17l12 12-12 12-12-12zm1 -15l12 12-12 12-12-12zm1 15l12 12-12 12-12-12zm5 -15l12 12-12 12-12-12zm4 -14l12 12-12 12-12-12zm2 3l12 12-12 12-12-12zm1 29l12 12-12 12-12-12zm1 0l12 12-12 12-12-12zm2 -30l12 12-12 12-12-12zm2 12l12 12-12 12-12-12zm1 -1l12 12-12 12-12-12zm5 18l12 12-12 12-12-12zm1 -18l12 12-12 12-12-12zm2 -8l12 12-12 12-12-12zm1 28l12 12-12 12-12-12zm6 -20l12 12-12 12-12-12zm0 20l12 12-12 12-12-12zm5 -21l12 12-12 12-12-12zm0 19l12 12-12 12-12-12zm4 4l12 12-12 12-12-12zm2 -3l12 12-12 12-12-12zm1 -19l12 12-12 12-12-12zm3 18l12 12-12 12-12-12zm0 -15l12 12-12 12-12-12zm3 17l12 12-12 12-12-12zm1 -1l12 12-12 12-12-12zm2 -28l12 12-12 12-12-12zm0 31l12 12-12 12-12-12zm1 -3l12 12-12 12-12-12zm2 -19l12 12-12 12-12-12zm2 22l12 12-12 12-12-12zm2 -1l12 12-12 12-12-12zm3 -1l12 12-12 12-12-12zm0 1l12 12-12 12-12-12zm3 1l12 12-12 12-12-12zm1 -18l12 12-12 12-12-12zm1 17l12 12-12 12-12-12zm1 -19l12 12-12 12-12-12zm5 0l12 12-12 12-12-12zm2 18l12 12-12 12-12-12zm2 -15l12 12-12 12-12-12zm1 16l12 12-12 12-12-12zm1 2l12 12-12 12-12-12zm1 -2l12 12-12 12-12-12zm3 0l12 12-12 12-12-12zm3 2l12 12-12 12-12-12zm2 -20l12 12-12 12-12-12zm1 1l12 12-12 12-12-12zm2 17l12 12-12 12-12-12zm4 0l12 12-12 12-12-12zm5 2l12 12-12 12-12-12zm3 -21l12 12-12 12-12-12zm5 18l12 12-12 12-12-12zm2 3l12 12-12 12-12-12zm1 -20l12 12-12 12-12-12zm3 -16l12 12-12 12-12-12zm5 34l12 12-12 12-12-12zm1 -1l12 12-12 12-12-12zm2 0l12 12-12 12-12-12zm1 -18l12 12-12 12-12-12zm3 1l12 12-12 12-12-12zm4 17l12 12-12 12-12-12zm1 -20l12 12-12 12-12-12zm1 21l12 12-12 12-12-12zm4 -21l12 12-12 12-12-12zm2 1l12 12-12 12-12-12zm1 -6l12 12-12 12-12-12zm2 7l12 12-12 12-12-12zm1 2l12 12-12 12-12-12zm2 15l12 12-12 12-12-12zm1 -16l12 12-12 12-12-12zm2 -16l12 12-12 12-12-12zm0 15l12 12-12 12-12-12zm2 -1l12 12-12 12-12-12zm6 -8l12 12-12 12-12-12zm2 11l12 12-12 12-12-12zm1 15l12 12-12 12-12-12zm1 2l12 12-12 12-12-12zm1 1l12 12-12 12-12-12zm4 -21l12 12-12 12-12-12zm1 19l12 12-12 12-12-12zm3 -1l12 12-12 12-12-12zm0 -17l12 12-12 12-12-12zm1 -20l12 12-12 12-12-12zm1 20l12 12-12 12-12-12zm1 18l12 12-12 12-12-12zm1 -19l12 12-12 12-12-12zm1 -1l12 12-12 12-12-12zm0 19l12 12-12 12-12-12zm4 2l12 12-12 12-12-12zm3 1l12 12-12 12-12-12zm4 -2l12 12-12 12-12-12zm5 -18l12 12-12 12-12-12zm1 19l12 12-12 12-12-12zm4 -21l12 12-12 12-12-12zm2 19l12 12-12 12-12-12zm3 -1l12 12-12 12-12-12zm1 1l12 12-12 12-12-12zm3 0l12 12-12 12-12-12zm1 -2l12 12-12 12-12-12zm1 1l12 12-12 12-12-12zm1 -17l12 12-12 12-12-12zm1 19l12 12-12 12-12-12zm3 -20l12 12-12 12-12-12zm2 19l12 12-12 12-12-12zm1 -17l12 12-12 12-12-12zm5 -1l12 12-12 12-12-12zm1 20l12 12-12 12-12-12zm7 -1l12 12-12 12-12-12zm0 -18l12 12-12 12-12-12zm5 0l12 12-12 12-12-12zm0 17l12 12-12 12-12-12zm1 -19l12 12-12 12-12-12zm2 19l12 12-12 12-12-12zm2 -16l12 12-12 12-12-12zm1 -1l12 12-12 12-12-12zm0 -1l12 12-12 12-12-12zm2 -17l12 12-12 12-12-12zm3 17l12 12-12 12-12-12zm1 0l12 12-12 12-12-12zm4 21l12 12-12 12-12-12zm2 -25l12 12-12 12-12-12zm1 23l12 12-12 12-12-12zm1 3l12 12-12 12-12-12zm2 -21l12 12-12 12-12-12zm0 -18l12 12-12 12-12-12zm2 21l12 12-12 12-12-12zm1 16l12 12-12 12-12-12zm1 1l12 12-12 12-12-12zm3 -20l12 12-12 12-12-12zm1 -5l12 12-12 12-12-12zm3 8l12 12-12 12-12-12zm2 -3l12 12-12 12-12-12zm1 1l12 12-12 12-12-12zm2 -1l12 12-12 12-12-12zm2 18l12 12-12 12-12-12zm5 -15l12 12-12 12-12-12zm1 -3l12 12-12 12-12-12zm2 20l12 12-12 12-12-12zm5 -3l12 12-12 12-12-12zm0 -16l12 12-12 12-12-12zm1 -2l12 12-12 12-12-12zm1 18l12 12-12 12-12-12zm1 4l12 12-12 12-12-12zm5 -23l12 12-12 12-12-12zm3 23l12 12-12 12-12-12zm3 -1l12 12-12 12-12-12zm2 -20l12 12-12 12-12-12zm1 1l12 12-12 12-12-12zm4 -1l12 12-12 12-12-12zm1 22l12 12-12 12-12-12zm1 -21l12 12-12 12-12-12zm4 -13l12 12-12 12-12-12zm1 33l12 12-12 12-12-12zm1 -20l12 12-12 12-12-12zm1 3l12 12-12 12-12-12zm2 19l12 12-12 12-12-12zm3 -20l12 12-12 12-12-12zm1 17l12 12-12 12-12-12zm1 -20l12 12-12 12-12-12zm5 23l12 12-12 12-12-12zm1 -19l12 12-12 12-12-12zm0 -2l12 12-12 12-12-12zm2 2l12 12-12 12-12-12zm1 17l12 12-12 12-12-12zm2 -19l12 12-12 12-12-12zm1 1l12 12-12 12-12-12zm2 2l12 12-12 12-12-12zm2 -2l12 12-12 12-12-12zm0 -1l12 12-12 12-12-12zm7 3l12 12-12 12-12-12zm2 -3l12 12-12 12-12-12zm1 3l12 12-12 12-12-12zm1 -3l12 12-12 12-12-12zm1 18l12 12-12 12-12-12zm1 3l12 12-12 12-12-12zm2 -3l12 12-12 12-12-12zm1 -18l12 12-12 12-12-12zm1 2l12 12-12 12-12-12zm1 -20l12 12-12 12-12-12zm3 20l12 12-12 12-12-12zm0 16l12 12-12 12-12-12zm3 -17l12 12-12 12-12-12zm3 -1l12 12-12 12-12-12zm2 -1l12 12-12 12-12-12zm1 17l12 12-12 12-12-12zm2 1l12 12-12 12-12-12zm5 2l12 12-12 12-12-12zm4 -19l12 12-12 12-12-12zm1 1l12 12-12 12-12-12zm1 -14l12 12-12 12-12-12zm2 12l12 12-12 12-12-12zm-1260 93l12 12-12 12-12-12zm0 -59l12 12-12 12-12-12zm634 -66l12 12-12 12-12-12zm85 7l12 12-12 12-12-12zm-237 -13l12 12-12 12-12-12zm522 18l12 12-12 12-12-12z" fill="#008000"/>
<path d="M485.1 765.4 488.5 781.1 491.9 793.5 495.2 803.0 498.6 810.7 502.0 817.5 505.3 824.1 508.7 830.1 512.1 835.8 515.4 841.3 518.8 846.8 522.1 852.5 525.5 858.5 528.9 864.3 532.2 869.7 535.6 874.5 539.0 879.0 542.3 883.3 545.7 887.2 558.3 898.2 570.9 906.5 583.5 913.3 596.1 920.4 608.8 927.4 621.4 932.3 634.0 935.6 646.6 938.5 659.2 941.5 671.8 944.1 684.4 945.7 697.1 947.0 709.7 949.4 722.3 952.4 734.9 954.7 747.5 956.1 760.1 957.8 772.7 960.7 785.3 963.6 798.0 964.5 831.6 965.5 865.2 965.8 898.9 967.1 932.5 968.5 966.1 972.8 999.8 973.5 1033.4 976.5 1067.0 976.4 1100.7 978.1 1134.3 978.1 1168.0 977.9 1201.6 979.7 1235.2 980.6 1268.9 984.1 1302.5 983.4 1336.1 985.2 1369.8 985.5 1403.4 988.6 1437.0 990.6 1470.7 990.7 1504.3 991.8 1538.0 991.4 1571.6 995.1 1605.2 995.9 1638.9 999.1 1672.5 1000.1 1706.1 1001.8 1739.8 1002.5 1773.4 1000.4 1807.0 1000.6 1840.7 999.8 1874.3 1003.6 1907.9 1004.0 1941.6 1004.9 1975.2 1003.4 1975.2 1016.4 1941.6 1018.0 1907.9 1017.0 1874.3 1016.7 1840.7 1012.9 1807.0 1013.7 1773.4 1013.4 1739.8 1015.5 1706.1 1014.9 1672.5 1013.2 1638.9 1012.1 1605.2 1008.9 1571.6 1008.1 1538.0 1004.4 1504.3 1004.8 1470.7 1003.7 1437.0 1003.6 1403.4 1001.6 1369.8 998.5 1336.1 998.2 1302.5 996.4 1268.9 997.2 1235.2 993.6 1201.6 992.7 1168.0 990.9 1134.3 991.1 1100.7 991.1 1067.0 989.4 1033.4 989.5 999.8 986.5 966.1 985.9 932.5 981.5 898.9 980.1 865.2 978.8 831.6 978.5 798.0 977.5 785.3 976.6 772.7 973.7 760.1 970.9 747.5 969.1 734.9 967.7 722.3 965.5 709.7 962.4 697.1 960.1 684.4 958.7 671.8 957.1 659.2 954.5 646.6 951.6 634.0 948.6 621.4 945.3 608.8 940.4 596.1 933.4 583.5 926.3 570.9 919.5 558.3 911.2 545.7 900.2 542.3 896.3 539.0 892.0 535.6 887.5 532.2 882.7 528.9 877.3 525.5 871.5 522.1 865.5 518.8 859.8 515.4 854.3 512.1 848.8 508.7 843.1 505.3 837.1 502.0 830.6 498.6 823.7 495.2 816.1 491.9 806.5 488.5 794.1 485.1 778.4z" fill="#000080" stroke="#000080" stroke-width="20" stroke-linejoin="round"/>
<path d="M452 480l19 -11.5v23zm0 0l19 -11.5v23zm1 29l19 -11.5v23zm0 18l19 -11.5v23zm0 7l19 -11.5v23zm0 -1l19 -11.5v23zm0 22l19 -11.5v23zm1 10l19 -11.5v23zm0 9l19 -11.5v23zm0 7l19 -11.5v23zm0 6l19 -11.5v23zm0 -10l19 -11.5v23zm1 5l19 -11.5v23zm0 17l19 -11.5v23zm0 -5l19 -11.5v23zm1 27l19 -11.5v23zm0 -15l19 -11.5v23zm1 21l19 -11.5v23zm0 4l19 -11.5v23zm1 -14l19 -11.5v23zm0 -6l19 -11.5v23zm0 0l19 -11.5v23zm1 4l19 -11.5v23zm0 28l19 -11.5v23zm1 -12l19 -11.5v23zm0 29l19 -11.5v23zm1 5l19 -11.5v23zm0 -10l19 -11.5v23zm0 12l19 -11.5v23zm1 -13l19 -11.5v23zm0 40l19 -11.5v23zm1 -35l19 -11.5v23zm0 32l19 -11.5v23zm0 -28l19 -11.5v23zm1 6l19 -11.5v23zm0 39l19 -11.5v23zm1 -13l19 -11.5v23zm0 -10l19 -11.5v23zm1 0l19 -11.5v23zm0 32l19 -11.5v23zm0 -4l19 -11.5v23zm1 -16l19 -11.5v23zm0 1l19 -11.5v23zm1 27l19 -11.5v23zm0 -20l19 -11.5v23zm0 -2l19 -11.5v23zm1 7l19 -11.5v23zm0 32l19 -11.5v23zm1 4l19 -11.5v23zm0 -16l19 -11.5v23zm1 -5l19 -11.5v23zm0 9l19 -11.5v23zm0 18l19 -11.5v23zm1 11l19 -11.5v23zm0 -30l19 -11.5v23zm1 24l19 -11.5v23zm0 -21l19 -11.5v23zm1 41l19 -11.5v23zm0 -8l19 -11.5v23zm0 8l19 -11.5v23zm1 -31l19 -11.5v23zm0 6l19 -11.5v23zm1 29l19 -11.5v23zm0 14l19 -11.5v23zm0 -36l19 -11.5v23zm1 17l19 -11.5v23zm0 21l19 -11.5v23zm1 7l19 -11.5v23zm3 -32l19 -11.5v23zm6 11l19 -11.5v23zm1 15l19 -11.5v23zm4 7l19 -11.5v23zm1 41l19 -11.5v23zm1 -3l19 -11.5v23zm2 -32l19 -11.5v23zm6 51l19 -11.5v23zm1 -35l19 -11.5v23zm2 33l19 -11.5v23zm1 -34l19 -11.5v23zm2 4l19 -11.5v23zm1 4l19 -11.5v23zm1 41l19 -11.5v23zm3 -30l19 -11.5v23zm1 31l19 -11.5v23zm3 -36l19 -11.5v23zm5 22l19 -11.5v23zm2 -1l19 -11.5v23zm3 36l19 -11.5v23zm2 7l19 -11.5v23zm0 -2l19 -11.5v23zm2 -30l19 -11.5v23zm2 33l19 -11.5v23zm2 -29l19 -11.5v23zm1 4l19 -11.5v23zm2 31l19 -11.5v23zm1 -2l19 -11.5v23zm1 -31l19 -11.5v23zm4 -3l19 -11.5v23zm4 12l19 -11.5v23zm1 2l19 -11.5v23zm3 33l19 -11.5v23zm4 -25l19 -11.5v23zm0 1l19 -11.5v23zm3 30l19 -11.5v23zm1 -34l19 -11.5v23zm3 -9l19 -11.5v23zm1 12l19 -11.5v23zm3 32l19 -11.5v23zm1 3l19 -11.5v23zm8 -24l19 -11.5v23zm4 32l19 -11.5v23zm1 -1l19 -11.5v23zm1 -1l19 -11.5v23zm0 2l19 -11.5v23zm1 -27l19 -11.5v23zm1 24l19 -11.5v23zm1 4l19 -11.5v23zm2 3l19 -11.5v23zm5 2l19 -11.5v23zm2 -30l19 -11.5v23zm1 2l19 -11.5v23zm2 28l19 -11.5v23zm8 -24l19 -11.5v23zm4 4l19 -11.5v23zm2 -19l19 -11.5v23zm1 48l19 -11.5v23zm1 -1l19 -11.5v23zm1 -30l19 -11.5v23zm1 0l19 -11.5v23zm1 27l19 -11.5v23zm3 7l19 -11.5v23zm2 -32l19 -11.5v23zm1 -17l19 -11.5v23zm5 16l19 -11.5v23zm2 32l19 -11.5v23zm1 -27l19 -11.5v23zm1 -12l19 -11.5v23zm4 40l19 -11.5v23zm3 -29l19 -11.5v23zm3 2l19 -11.5v23zm1 31l19 -11.5v23zm2 -33l19 -11.5v23zm1 6l19 -11.5v23zm1 24l19 -11.5v23zm2 -29l19 -11.5v23zm3 33l19 -11.5v23zm1 3l19 -11.5v23zm6 0l19 -11.5v23zm1 -31l19 -11.5v23zm1 4l19 -11.5v23zm5 0l19 -11.5v23zm5 2l19 -11.5v23zm1 -6l19 -11.5v23zm5 5l19 -11.5v23zm1 1l19 -11.5v23zm2 23l19 -11.5v23zm4 6l19 -11.5v23zm3 -1l19 -11.5v23zm2 -1l19 -11.5v23zm1 -23l19 -11.5v23zm2 20l19 -11.5v23zm1 5l19 -11.5v23zm1 -33l19 -11.5v23zm3 5l19 -11.5v23zm2 24l19 -11.5v23zm2 -22l19 -11.5v23zm2 29l19 -11.5v23zm1 -30l19 -11.5v23zm1 30l19 -11.5v23zm1 -28l19 -11.5v23zm3 -15l19 -11.5v23zm1 42l19 -11.5v23zm3 3l19 -11.5v23zm4 -31l19 -11.5v23zm2 5l19 -11.5v23zm2 -4l19 -11.5v23zm1 3l19 -11.5v23zm1 -3l19 -11.5v23zm2 4l19 -11.5v23zm1 26l19 -11.5v23zm0 -27l19 -11.5v23zm3 29l19 -11.5v23zm4 -25l19 -11.5v23zm1 -5l19 -11.5v23zm2 30l19 -11.5v23zm3 -29l19 -11.5v23zm3 30l19 -11.5v23zm1 -26l19 -11.5v23zm2 -4l19 -11.5v23zm3 29l19 -11.5v23zm3 -25l19 -11.5v23zm6 27l19 -11.5v23zm1 1l19 -11.5v23zm0 -25l19 -11.5v23zm1 -3l19 -11.5v23zm1 0l19 -11.5v23zm2 0l19 -11.5v23zm1 0l19 -11.5v23zm2 0l19 -11.5v23zm2 3l19 -11.5v23zm2 3l19 -11.5v23zm4 23l19 -11.5v23zm0 -26l19 -11.5v23zm5 26l19 -11.5v23zm1 -22l19 -11.5v23zm1 1l19 -11.5v23zm1 21l19 -11.5v23zm1 1l19 -11.5v23zm1 -1l19 -11.5v23zm1 3l19 -11.5v23zm1 -24l19 -11.5v23zm2 0l19 -11.5v23zm2 1l19 -11.5v23zm0 21l19 -11.5v23zm1 1l19 -11.5v23zm3 -24l19 -11.5v23zm3 27l19 -11.5v23zm1 -29l19 -11.5v23zm2 2l19 -11.5v23zm1 27l19 -11.5v23zm2 -27l19 -11.5v23zm1 -2l19 -11.5v23zm1 -1l19 -11.5v23zm3 27l19 -11.5v23zm2 -32l19 -11.5v23zm4 7l19 -11.5v23zm1 -3l19 -11.5v23zm2 28l19 -11.5v23zm1 -1l19 -11.5v23zm2 6l19 -11.5v23zm1 -32l19 -11.5v23zm2 26l19 -11.5v23zm4 4l19 -11.5v23zm0 -25l19 -11.5v23zm1 27l19 -11.5v23zm2 -5l19 -11.5v23zm3 -21l19 -11.5v23zm0 -2l19 -11.5v23zm2 25l19 -11.5v23zm1 -26l19 -11.5v23zm1 28l19 -11.5v23zm3 -27l19 -11.5v23zm2 1l19 -11.5v23zm1 2l19 -11.5v23zm6 24l19 -11.5v23zm2 2l19 -11.5v23zm3 -26l19 -11.5v23zm0 26l19 -11.5v23zm1 -38l19 -11.5v23zm2 36l19 -11.5v23zm3 -31l19 -11.5v23zm1 26l19 -11.5v23zm3 -27l19 -11.5v23zm0 -11l19 -11.5v23zm1 15l19 -11.5v23zm1 23l19 -11.5v23zm2 -22l19 -11.5v23zm2 26l19 -11.5v23zm2 -27l19 -11.5v23zm2 -3l19 -11.5v23zm1 29l19 -11.5v23zm1 -3l19 -11.5v23zm1 -25l19 -11.5v23zm1 1l19 -11.5v23zm1 25l19 -11.5v23zm2 4l19 -11.5v23zm1 -3l19 -11.5v23zm4 -21l19 -11.5v23zm2 23l19 -11.5v23zm3 2l19 -11.5v23zm0 -29l19 -11.5v23zm1 1l19 -11.5v23zm2 -2l19 -11.5v23zm2 27l19 -11.5v23zm2 -26l19 -11.5v23zm3 1l19 -11.5v23zm4 2l19 -11.5v23zm2 -1l19 -11.5v23zm3 -1l19 -11.5v23zm2 1l19 -11.5v23zm3 4l19 -11.5v23zm3 20l19 -11.5v23zm2 1l19 -11.5v23zm4 0l19 -11.5v23zm2 -21l19 -11.5v23zm1 -5l19 -11.5v23zm1 3l19 -11.5v23zm1 -1l19 -11.5v23zm1 25l19 -11.5v23zm2 0l19 -11.5v23zm2 -42l19 -11.5v23zm5 46l19 -11.5v23zm4 -2l19 -11.5v23zm1 -1l19 -11.5v23zm0 1l19 -11.5v23zm1 1l19 -11.5v23zm4 -28l19 -11.5v23zm1 30l19 -11.5v23zm2 -1l19 -11.5v23zm1 -2l19 -11.5v23zm2 -27l19 -11.5v23zm3 5l19 -11.5v23zm1 2l19 -11.5v23zm2 24l19 -11.5v23zm3 -28l19 -11.5v23zm1 1l19 -11.5v23zm1 25l19 -11.5v23zm1 3l19 -11.5v23zm1 -4l19 -11.5v23zm2 -21l19 -11.5v23zm0 21l19 -11.5v23zm1 -21l19 -11.5v23zm4 -3l19 -11.5v23zm0 -12l19 -11.5v23zm2 40l19 -11.5v23zm3 -28l19 -11.5v23zm1 24l19 -11.5v23zm1 0l19 -11.5v23zm4 -23l19 -11.5v23zm1 0l19 -11.5v23zm2 26l19 -11.5v23zm1 1l19 -11.5v23zm1 -26l19 -11.5v23zm0 2l19 -11.5v23zm1 21l19 -11.5v23zm2 -25l19 -11.5v23zm7 29l19 -11.5v23zm2 -1l19 -11.5v23zm2 -2l19 -11.5v23zm1 5l19 -11.5v23zm1 0l19 -11.5v23zm3 -1l19 -11.5v23zm2 -24l19 -11.5v23zm1 24l19 -11.5v23zm4 -23l19 -11.5v23zm2 21l19 -11.5v23zm3 -23l19 -11.5v23zm1 25l19 -11.5v23zm1 -3l19 -11.5v23zm3 6l19 -11.5v23zm1 -27l19 -11.5v23zm1 23l19 -11.5v23zm1 2l19 -11.5v23zm1 -23l19 -11.5v23zm1 22l19 -11.5v23zm4 -3l19 -11.5v23zm5 -23l19 -11.5v23zm3 -2l19 -11.5v23zm0 0l19 -11.5v23zm1 28l19 -11.5v23zm1 2l19 -11.5v23zm3 -26l19 -11.5v23zm2 0l19 -11.5v23zm4 -1l19 -11.5v23zm2 22l19 -11.5v23zm1 -24l19 -11.5v23zm3 0l19 -11.5v23zm1 2l19 -11.5v23zm1 -1l19 -11.5v23zm1 1l19 -11.5v23zm4 -2l19 -11.5v23zm2 -9l19 -11.5v23zm1 34l19 -11.5v23zm1 6l19 -11.5v23zm2 -39l19 -11.5v23zm1 36l19 -11.5v23zm2 2l19 -11.5v23zm2 -45l19 -11.5v23zm2 42l19 -11.5v23zm2 2l19 -11.5v23zm3 3l19 -11.5v23zm1 -31l19 -11.5v23zm1 28l19 -11.5v23zm1 -26l19 -11.5v23zm3 25l19 -11.5v23zm1 2l19 -11.5v23zm1 -30l19 -11.5v23zm1 29l19 -11.5v23zm2 -27l19 -11.5v23zm2 28l19 -11.5v23zm2 -2l19 -11.5v23zm1 2l19 -11.5v23zm5 -25l19 -11.5v23zm0 21l19 -11.5v23zm1 -23l19 -11.5v23zm1 1l19 -11.5v23zm2 23l19 -11.5v23zm2 -27l19 -11.5v23zm2 1l19 -11.5v23zm1 -9l19 -11.5v23zm3 9l19 -11.5v23zm5 -7l19 -11.5v23zm1 37l19 -11.5v23zm2 -27l19 -11.5v23zm1 2l19 -11.5v23zm1 24l19 -11.5v23zm0 -2l19 -11.5v23zm2 -26l19 -11.5v23zm4 25l19 -11.5v23zm3 -19l19 -11.5v23zm1 19l19 -11.5v23zm0 -21l19 -11.5v23zm1 -5l19 -11.5v23zm3 31l19 -11.5v23zm1 -29l19 -11.5v23zm0 -2l19 -11.5v23zm1 3l19 -11.5v23zm2 3l19 -11.5v23zm1 -7l19 -11.5v23zm2 4l19 -11.5v23zm2 28l19 -11.5v23zm3 -5l19 -11.5v23zm2 3l19 -11.5v23zm2 -30l19 -11.5v23zm1 1l19 -11.5v23zm0 27l19 -11.5v23zm1 1l19 -11.5v23zm3 -1l19 -11.5v23zm2 -26l19 -11.5v23zm1 2l19 -11.5v23zm2 0l19 -11.5v23zm2 22l19 -11.5v23zm1 4l19 -11.5v23zm1 -38l19 -11.5v23zm1 36l19 -11.5v23zm6 -25l19 -11.5v23zm2 29l19 -11.5v23zm1 -4l19 -11.5v23zm1 -24l19 -11.5v23zm1 22l19 -11.5v23zm1 2l19 -11.5v23zm1 -23l19 -11.5v23zm0 24l19 -11.5v23zm1 -24l19 -11.5v23zm3 27l19 -11.5v23zm1 -28l19 -11.5v23zm0 28l19 -11.5v23zm1 -2l19 -11.5v23zm2 0l19 -11.5v23zm3 -1l19 -11.5v23zm3 0l19 -11.5v23zm8 0l19 -11.5v23zm1 -23l19 -11.5v23zm2 1l19 -11.5v23zm1 22l19 -11.5v23zm0 3l19 -11.5v23zm3 -24l19 -11.5v23zm2 23l19 -11.5v23zm1 -46l19 -11.5v23zm2 22l19 -11.5v23zm2 1l19 -11.5v23zm1 -4l19 -11.5v23zm0 25l19 -11.5v23zm1 -1l19 -11.5v23zm2 -26l19 -11.5v23zm2 3l19 -11.5v23zm2 28l19 -11.5v23zm1 -4l19 -11.5v23zm1 -35l19 -11.5v23zm1 39l19 -11.5v23zm0 -1l19 -11.5v23zm2 -22l19 -11.5v23zm1 -10l19 -11.5v23zm1 31l19 -11.5v23zm2 1l19 -11.5v23zm3 -23l19 -11.5v23zm3 -1l19 -11.5v23zm1 1l19 -11.5v23zm3 25l19 -11.5v23zm3 -27l19 -11.5v23zm2 4l19 -11.5v23zm0 -3l19 -11.5v23zm1 28l19 -11.5v23zm4 -2l19 -11.5v23zm1 -22l19 -11.5v23zm0 -1l19 -11.5v23zm3 23l19 -11.5v23zm1 -24l19 -11.5v23zm1 27l19 -11.5v23zm4 -1l19 -11.5v23zm1 -2l19 -11.5v23zm1 4l19 -11.5v23zm1 -28l19 -11.5v23zm1 1l19 -11.5v23zm2 -1l19 -11.5v23zm1 24l19 -11.5v23zm3 -2l19 -11.5v23zm1 3l19 -11.5v23zm1 -21l19 -11.5v23zm0 -5l19 -11.5v23zm2 -4l19 -11.5v23zm4 6l19 -11.5v23zm1 20l19 -11.5v23zm2 2l19 -11.5v23zm1 3l19 -11.5v23zm1 -3l19 -11.5v23zm1 1l19 -11.5v23zm2 -31l19 -11.5v23zm2 3l19 -11.5v23zm2 -16l19 -11.5v23zm1 21l19 -11.5v23zm1 0l19 -11.5v23zm1 22l19 -11.5v23zm4 -27l19 -11.5v23zm4 31l19 -11.5v23zm2 -26l19 -11.5v23zm0 -3l19 -11.5v23zm2 27l19 -11.5v23zm2 -1l19 -11.5v23zm5 0l19 -11.5v23zm1 -27l19 -11.5v23zm2 27l19 -11.5v23zm3 -1l19 -11.5v23zm1 -24l19 -11.5v23zm0 3l19 -11.5v23zm1 23l19 -11.5v23zm2 -45l19 -11.5v23zm3 17l19 -11.5v23zm1 0l19 -11.5v23zm2 2l19 -11.5v23zm2 -1l19 -11.5v23zm1 26l19 -11.5v23zm1 0l19 -11.5v23zm4 -24l19 -11.5v23zm1 -2l19 -11.5v23zm1 25l19 -11.5v23zm1 -22l19 -11.5v23zm1 -5l19 -11.5v23zm6 2l19 -11.5v23zm0 4l19 -11.5v23zm1 20l19 -11.5v23zm1 5l19 -11.5v23zm1 -2l19 -11.5v23zm1 -31l19 -11.5v23zm1 29l19 -11.5v23zm5 -23l19 -11.5v23zm3 0l19 -11.5v23zm1 27l19 -11.5v23zm1 -1l19 -11.5v23zm1 -27l19 -11.5v23zm1 2l19 -11.5v23zm1 26l19 -11.5v23zm3 -22l19 -11.5v23zm2 25l19 -11.5v23zm2 -27l19 -11.5v23zm1 27l19 -11.5v23zm0 1l19 -11.5v23zm2 0l19 -11.5v23zm2 -3l19 -11.5v23zm3 -27l19 -11.5v23zm2 26l19 -11.5v23zm1 -22l19 -11.5v23zm1 25l19 -11.5v23zm0 -27l19 -11.5v23zm5 27l19 -11.5v23zm1 -4l19 -11.5v23zm4 -23l19 -11.5v23zm1 2l19 -11.5v23zm1 -1l19 -11.5v23zm5 22l19 -11.5v23zm2 -24l19 -11.5v23zm3 4l19 -11.5v23zm1 26l19 -11.5v23zm1 -30l19 -11.5v23zm3 3l19 -11.5v23zm3 0l19 -11.5v23zm2 -1l19 -11.5v23zm4 -1l19 -11.5v23zm3 5l19 -11.5v23zm3 -4l19 -11.5v23zm4 1l19 -11.5v23zm1 28l19 -11.5v23zm1 -25l19 -11.5v23zm1 24l19 -11.5v23zm5 1l19 -11.5v23zm1 -4l19 -11.5v23zm1 -25l19 -11.5v23zm3 5l19 -11.5v23zm3 -3l19 -11.5v23zm1 27l19 -11.5v23zm2 -28l19 -11.5v23zm1 -18l19 -11.5v23zm2 45l19 -11.5v23zm1 -29l19 -11.5v23zm1 3l19 -11.5v23zm1 -1l19 -11.5v23zm1 27l19 -11.5v23zm1 -1l19 -11.5v23zm1 0l19 -11.5v23zm2 -1l19 -11.5v23zm5 -24l19 -11.5v23zm1 -19l19 -11.5v23zm2 46l19 -11.5v23zm0 0l19 -11.5v23zm3 -30l19 -11.5v23zm2 26l19 -11.5v23zm1 2l19 -11.5v23zm2 -44l19 -11.5v23zm3 20l19 -11.5v23zm1 24l19 -11.5v23zm1 -22l19 -11.5v23zm1 21l19 -11.5v23zm2 -25l19 -11.5v23zm4 4l19 -11.5v23zm2 0l19 -11.5v23zm1 -5l19 -11.5v23zm1 1l19 -11.5v23zm1 1l19 -11.5v23zm3 28l19 -11.5v23zm1 -29l19 -11.5v23zm1 28l19 -11.5v23zm2 -1l19 -11.5v23zm1 -22l19 -11.5v23zm2 19l19 -11.5v23zm2 -20l19 -11.5v23zm2 -1l19 -11.5v23zm1 27l19 -11.5v23zm2 -29l19 -11.5v23zm1 -2l19 -11.5v23zm2 4l19 -11.5v23zm1 -4l19 -11.5v23zm4 30l19 -11.5v23zm1 0l19 -11.5v23zm1 -2l19 -11.5v23zm4 -26l19 -11.5v23zm1 -3l19 -11.5v23zm1 6l19 -11.5v23zm0 21l19 -11.5v23zm1 -22l19 -11.5v23zm3 -16l19 -11.5v23zm2 41l19 -11.5v23zm0 -1l19 -11.5v23zm3 -27l19 -11.5v23zm4 29l19 -11.5v23zm1 0l19 -11.5v23zm8 -39l19 -11.5v23zm5 8l19 -11.5v23zm0 -10l19 -11.5v23zm1 40l19 -11.5v23zm3 3l19 -11.5v23zm4 -1l19 -11.5v23zm7 0l19 -11.5v23zm1 -1l19 -11.5v23zm1 3l19 -11.5v23zm3 -25l19 -11.5v23zm6 25l19 -11.5v23zm0 -27l19 -11.5v23zm1 26l19 -11.5v23zm1 1l19 -11.5v23zm2 -2l19 -11.5v23zm1 -24l19 -11.5v23zm3 26l19 -11.5v23zm1 -1l19 -11.5v23zm2 0l19 -11.5v23zm1 0l19 -11.5v23zm1 -2l19 -11.5v23zm3 -20l19 -11.5v23zm0 -8l19 -11.5v23zm1 -1l19 -11.5v23zm2 6l19 -11.5v23zm1 24l19 -11.5v23zm1 -22l19 -11.5v23zm0 -9l19 -11.5v23zm1 36l19 -11.5v23zm1 -25l19 -11.5v23zm2 0l19 -11.5v23zm2 -1l19 -11.5v23zm4 25l19 -11.5v23zm1 -25l19 -11.5v23zm0 0l19 -11.5v23zm1 1l19 -11.5v23zm2 -1l19 -11.5v23zm2 2l19 -11.5v23zm4 0l19 -11.5v23zm4 26l19 -11.5v23zm3 -30l19 -11.5v23zm1 25l19 -11.5v23zm1 1l19 -11.5v23zm4 2l19 -11.5v23zm2 -26l19 -11.5v23zm1 28l19 -11.5v23zm1 -41l19 -11.5v23zm6 11l19 -11.5v23zm1 3l19 -11.5v23zm1 1l19 -11.5v23zm3 -1l19 -11.5v23zm0 23l19 -11.5v23zm1 -22l19 -11.5v23zm1 24l19 -11.5v23zm1 -28l19 -11.5v23zm1 3l19 -11.5v23zm2 28l19 -11.5v23zm2 -28l19 -11.5v23zm3 -2l19 -11.5v23zm4 0l19 -11.5v23zm1 30l19 -11.5v23zm2 -29l19 -11.5v23zm1 3l19 -11.5v23zm2 26l19 -11.5v23zm2 -4l19 -11.5v23zm3 -24l19 -11.5v23zm1 1l19 -11.5v23zm3 -1l19 -11.5v23zm2 4l19 -11.5v23zm0 21l19 -11.5v23zm1 -24l19 -11.5v23zm2 4l19 -11.5v23zm2 20l19 -11.5v23zm0 -21l19 -11.5v23zm3 25l19 -11.5v23zm1 -3l19 -11.5v23zm2 2l19 -11.5v23zm3 2l19 -11.5v23zm2 -3l19 -11.5v23zm6 0l19 -11.5v23zm4 -2l19 -11.5v23zm3 3l19 -11.5v23zm1 0l19 -11.5v23zm1 0l19 -11.5v23zm1 -29l19 -11.5v23zm1 5l19 -11.5v23zm1 -2l19 -11.5v23zm2 -2l19 -11.5v23zm2 3l19 -11.5v23zm1 24l19 -11.5v23zm1 3l19 -11.5v23zm1 -3l19 -11.5v23zm1 -25l19 -11.5v23zm0 3l19 -11.5v23zm5 20l19 -11.5v23zm0 -29l19 -11.5v23zm1 30l19 -11.5v23zm1 -24l19 -11.5v23zm2 24l19 -11.5v23zm2 -21l19 -11.5v23zm1 25l19 -11.5v23zm4 -27l19 -11.5v23zm1 26l19 -11.5v23zm1 -32l19 -11.5v23zm3 4l19 -11.5v23zm2 24l19 -11.5v23zm1 -26l19 -11.5v23zm2 5l19 -11.5v23zm1 -13l19 -11.5v23zm2 13l19 -11.5v23zm1 22l19 -11.5v23zm2 -23l19 -11.5v23zm0 -4l19 -11.5v23zm3 2l19 -11.5v23zm1 26l19 -11.5v23zm2 1l19 -11.5v23zm1 1l19 -11.5v23zm2 -27l19 -11.5v23zm1 -2l19 -11.5v23zm1 28l19 -11.5v23zm2 -29l19 -11.5v23zm1 24l19 -11.5v23zm1 2l19 -11.5v23zm4 -25l19 -11.5v23zm1 3l19 -11.5v23zm4 -1l19 -11.5v23zm1 -1l19 -11.5v23zm1 1l19 -11.5v23zm0 24l19 -11.5v23zm3 -23l19 -11.5v23zm1 24l19 -11.5v23zm2 -27l19 -11.5v23zm2 3l19 -11.5v23zm2 -5l19 -11.5v23zm1 29l19 -11.5v23zm3 -26l19 -11.5v23zm2 25l19 -11.5v23zm3 -26l19 -11.5v23zm1 3l19 -11.5v23zm1 24l19 -11.5v23zm0 2l19 -11.5v23zm3 -5l19 -11.5v23zm2 -23l19 -11.5v23zm1 26l19 -11.5v23zm5 -30l19 -11.5v23zm4 -12l19 -11.5v23zm1 12l19 -11.5v23zm5 28l19 -11.5v23zm3 -3l19 -11.5v23zm4 -19l19 -11.5v23zm1 -1l19 -11.5v23zm1 -2l19 -11.5v23zm1 24l19 -11.5v23zm1 1l19 -11.5v23zm1 -22l19 -11.5v23zm1 -14l19 -11.5v23zm1 11l19 -11.5v23zm2 3l19 -11.5v23zm6 -1l19 -11.5v23zm0 3l19 -11.5v23zm2 25l19 -11.5v23zm2 1l19 -11.5v23zm2 -3l19 -11.5v23zm3 -25l19 -11.5v23zm1 23l19 -11.5v23zm3 -41l19 -11.5v23zm1 16l19 -11.5v23zm1 1l19 -11.5v23zm6 2l19 -11.5v23zm1 22l19 -11.5v23zm3 6l19 -11.5v23zm1 -1l19 -11.5v23zm5 -29l19 -11.5v23zm0 3l19 -11.5v23zm1 -3l19 -11.5v23zm2 4l19 -11.5v23zm1 -5l19 -11.5v23zm7 25l19 -11.5v23zm1 2l19 -11.5v23zm1 -23l19 -11.5v23zm1 0l19 -11.5v23zm1 -14l19 -11.5v23zm3 39l19 -11.5v23zm1 -2l19 -11.5v23zm1 -22l19 -11.5v23zm1 24l19 -11.5v23zm1 3l19 -11.5v23zm2 -1l19 -11.5v23zm3 -29l19 -11.5v23zm0 -5l19 -11.5v23zm2 32l19 -11.5v23zm1 -1l19 -11.5v23zm2 -1l19 -11.5v23zm0 -23l19 -11.5v23zm3 -9l19 -11.5v23zm5 10l19 -11.5v23zm1 25l19 -11.5v23zm2 0l19 -11.5v23zm1 -31l19 -11.5v23zm2 28l19 -11.5v23zm4 0l19 -11.5v23zm6 1l19 -11.5v23zm2 2l19 -11.5v23zm5 -28l19 -11.5v23zm1 3l19 -11.5v23zm3 -3l19 -11.5v23zm2 -4l19 -11.5v23zm0 3l19 -11.5v23zm1 2l19 -11.5v23zm2 -3l19 -11.5v23zm1 28l19 -11.5v23zm2 -27l19 -11.5v23zm1 0l19 -11.5v23zm3 4l19 -11.5v23zm2 -1l19 -11.5v23zm1 -4l19 -11.5v23zm1 -15l19 -11.5v23zm1 42l19 -11.5v23zm-1514 -588l19 -11.5v23zm65 384l19 -11.5v23zm73 34l19 -11.5v23zm1 90l19 -11.5v23zm-4 37l19 -11.5v23z" fill="#000080"/>
</g>
<g id="inset">
<rect x="645" y="105" width="931" height="698" fill="#fff"/>
<g clip-path="url(#ic)">
<path d="M675.4 80.0 675.9 80.0 676.4 80.0 676.9 83.5 678.9 104.9 680.8 121.6 682.8 136.5 684.8 150.1 686.8 162.4 688.7 174.0 690.7 185.2 692.7 196.2 694.7 207.1 696.7 217.5 698.6 227.5 700.6 237.2 702.6 246.6 704.6 255.6 706.5 264.3 708.5 272.7 710.5 280.8 712.5 288.6 714.4 296.3 716.4 303.9 723.8 329.8 731.2 350.2 738.7 366.4 746.1 380.0 753.5 392.0 760.9 403.1 768.3 413.6 775.7 423.5 783.1 432.5 790.5 440.2 798.0 446.5 805.4 451.9 812.8 457.2 820.2 463.0 827.6 469.4 835.0 475.6 842.4 481.0 849.9 485.7 857.3 490.0 864.7 494.1 884.4 504.4 904.2 508.6 924.0 513.5 943.8 522.4 963.5 523.8 983.3 525.4 1003.1 532.3 1022.8 536.1 1042.6 538.8 1062.4 539.1 1082.1 539.3 1101.9 545.7 1121.7 546.5 1141.4 542.9 1161.2 545.9 1181.0 547.9 1200.7 548.1 1220.5 548.8 1240.3 546.9 1260.0 549.3 1279.8 552.1 1299.6 549.8 1319.3 551.5 1339.1 552.7 1358.9 551.0 1378.6 553.6 1398.4 554.1 1418.2 553.2 1438.0 555.5 1457.7 554.2 1477.5 553.9 1497.3 555.5 1517.0 554.3 1536.8 557.3 1556.6 558.3 1556.6 583.7 1536.8 582.7 1517.0 579.7 1497.3 580.9 1477.5 579.3 1457.7 579.6 1438.0 580.9 1418.2 578.6 1398.4 579.5 1378.6 579.1 1358.9 576.4 1339.1 578.1 1319.3 576.9 1299.6 575.2 1279.8 577.5 1260.0 574.7 1240.3 572.3 1220.5 574.2 1200.7 573.5 1181.0 573.3 1161.2 571.3 1141.4 568.3 1121.7 571.9 1101.9 571.1 1082.1 564.8 1062.4 564.5 1042.6 564.2 1022.8 561.5 1003.1 557.7 983.3 550.8 963.5 549.2 943.8 547.8 924.0 539.0 904.2 534.0 884.4 529.8 864.7 519.5 857.3 515.4 849.9 511.1 842.4 506.4 835.0 501.0 827.6 494.8 820.2 488.5 812.8 482.6 805.4 477.4 798.0 471.9 790.5 465.6 783.1 458.0 775.7 448.9 768.3 439.0 760.9 428.5 753.5 417.5 746.1 405.4 738.7 391.8 731.2 375.6 723.8 355.2 716.4 329.3 714.4 321.7 712.5 314.0 710.5 306.2 708.5 298.2 706.5 289.8 704.6 281.0 702.6 272.0 700.6 262.6 698.6 253.0 696.7 242.9 694.7 232.5 692.7 221.7 690.7 210.6 688.7 199.4 686.8 187.8 684.8 175.5 682.8 161.9 680.8 147.0 678.9 130.3 676.9 108.9 676.4 102.4 675.9 95.5 675.4 88.0z" fill="#000000" stroke="#000000" stroke-width="8" stroke-linejoin="round"/>
<path d="M676 96h0m1 13h0m0 -11h0m0 11h0m1 -9h0m0 23h0m0 -11h0m1 -3h0m0 11h0m0 -7h0m1 -2h0m1 38h0m1 -17h0m0 1h0m1 30h0m0 -2h0m1 18h0m2 -23h0m2 12h0m3 44h0m2 -15h0m2 14h0m2 33h0m1 9h0m0 4h0m1 -5h0m1 -24h0m1 31h0m4 20h0m1 7h0m1 2h0m1 -17h0m2 40h0m0 -5h0m1 10h0m1 -26h0m0 30h0m1 -6h0m2 13h0m0 -27h0m1 -1h0m2 33h0m0 -20h0m2 26h0m1 8h0m0 -25h0m1 6h0m4 38h0m1 -5h0m0 -25h0m1 32h0m1 -24h0m1 32h0m1 7h0m4 2h0m1 2h0m0 -52h0m5 37h0m2 31h0m1 -24h0m0 1h0m2 5h0m0 0h0m1 0h0m1 -5h0m0 30h0m1 -21h0m1 1h0m0 -9h0m1 4h0m0 29h0m1 7h0m0 -26h0m0 20h0m1 -18h0m1 27h0m0 2h0m3 -6h0m0 8h0m1 -5h0m1 8h0m2 -4h0m1 2h0m0 -1h0m1 1h0m2 -26h0m0 35h0m1 -24h0m1 27h0m3 -23h0m1 32h0m1 2h0m1 0h0m1 -31h0m1 27h0m0 -1h0m1 -22h0m2 7h0m2 21h0m1 -21h0m1 26h0m1 2h0m1 -31h0m0 3h0m2 37h0m2 -6h0m2 -23h0m1 -2h0m2 37h0m0 -35h0m1 6h0m0 1h0m3 -3h0m3 1h0m2 30h0m1 -20h0m2 28h0m1 -8h0m1 -18h0m1 -5h0m3 28h0m1 -29h0m1 31h0m1 3h0m1 -1h0m0 -25h0m1 24h0m0 -21h0m1 -4h0m1 -2h0m2 35h0m1 -30h0m0 6h0m1 21h0m0 -1h0m6 -23h0m1 -14h0m0 52h0m1 2h0m1 -3h0m0 -24h0m2 28h0m2 -35h0m1 32h0m1 1h0m1 1h0m1 -23h0m0 0h0m1 1h0m3 27h0m0 2h0m1 -24h0m1 -1h0m1 29h0m0 -9h0m2 -18h0m1 24h0m1 -3h0m0 -18h0m1 44h0m0 -16h0m1 -33h0m1 1h0m1 27h0m1 -31h0m1 3h0m1 35h0m1 -27h0m1 24h0m0 -25h0m1 23h0m3 -1h0m1 3h0m0 3h0m1 -22h0m1 26h0m1 -5h0m1 -20h0m1 -6h0m4 30h0m2 -21h0m0 20h0m1 9h0m1 -6h0m1 8h0m1 -30h0m0 28h0m1 -5h0m0 1h0m1 -3h0m3 3h0m0 3h0m1 6h0m0 -38h0m3 1h0m1 31h0m0 5h0m1 -5h0m0 3h0m1 -22h0m1 19h0m0 4h0m1 -29h0m1 34h0m1 -8h0m0 -22h0m1 23h0m1 4h0m0 -5h0m1 -25h0m0 6h0m1 18h0m1 10h0m2 -7h0m2 -25h0m0 -6h0m4 31h0m3 -1h0m2 5h0m1 0h0m2 5h0m3 -8h0m2 4h0m2 6h0m5 0h0m1 -28h0m1 2h0m1 28h0m0 -26h0m1 29h0m1 -2h0m1 -2h0m1 -27h0m1 -4h0m1 2h0m1 30h0m3 -22h0m2 0h0m2 22h0m1 7h0m2 1h0m1 -9h0m1 10h0m1 -28h0m2 29h0m2 -37h0m1 6h0m1 3h0m2 -1h0m0 -9h0m2 4h0m1 -1h0m1 26h0m1 -19h0m1 -3h0m0 27h0m0 -6h0m2 6h0m0 -27h0m2 0h0m1 0h0m1 21h0m0 -1h0m3 1h0m1 -19h0m2 -3h0m0 -6h0m1 0h0m1 3h0m1 27h0m1 31h0m1 -32h0m0 8h0m1 -2h0m4 -4h0m1 1h0m0 -22h0m3 30h0m1 -6h0m1 -30h0m0 9h0m2 -8h0m1 7h0m2 -6h0m1 1h0m1 38h0m3 0h0m3 2h0m1 -32h0m1 1h0m0 -7h0m1 39h0m0 -10h0m1 4h0m1 6h0m1 -3h0m4 3h0m1 -37h0m0 0h0m1 5h0m1 -1h0m4 27h0m1 -30h0m2 31h0m1 -21h0m2 -7h0m0 -33h0m2 34h0m0 35h0m3 -34h0m0 32h0m3 -7h0m0 10h0m1 -3h0m2 -33h0m1 34h0m1 -7h0m1 3h0m1 7h0m4 -32h0m2 29h0m1 -1h0m1 -32h0m1 30h0m0 5h0m5 -28h0m0 -9h0m1 30h0m1 -2h0m0 -17h0m1 20h0m1 -2h0m1 0h0m1 9h0m0 -4h0m2 3h0m1 -27h0m2 18h0m1 3h0m1 -4h0m0 -24h0m1 3h0m1 2h0m2 -9h0m2 7h0m1 31h0m2 -32h0m1 5h0m1 21h0m0 -35h0m1 4h0m2 1h0m0 29h0m5 3h0m1 -21h0m0 20h0m2 1h0m0 1h0m1 -23h0m0 -7h0m1 0h0m2 4h0m1 30h0m0 -25h0m1 -3h0m4 35h0m1 -29h0m2 -1h0m2 -1h0m0 28h0m1 -79h0m1 76h0m0 -25h0m1 27h0m1 -24h0m1 -2h0m6 0h0m1 2h0m1 -3h0m1 -7h0m0 28h0m1 -18h0m1 -10h0m0 1h0m1 37h0m0 -9h0m1 -19h0m3 -3h0m1 29h0m1 -8h0m0 -21h0m1 19h0m1 0h0m1 0h0m0 7h0m2 -28h0m0 0h0m2 0h0m3 20h0m0 -20h0m2 19h0m2 -27h0m1 0h0m0 9h0m4 29h0m1 0h0m3 -3h0m0 4h0m1 -8h0m0 8h0m1 -8h0m0 -27h0m1 28h0m1 3h0m2 -32h0m2 29h0m1 -19h0m1 -9h0m1 37h0m1 -28h0m1 18h0m1 6h0m1 -33h0m0 7h0m1 24h0m0 -3h0m1 -19h0m1 19h0m1 -18h0m0 0h0m1 21h0m1 5h0m1 3h0m2 -59h0m0 27h0m0 25h0m1 -22h0m0 -3h0m1 23h0m1 7h0m1 -33h0m0 35h0m1 -8h0m3 -24h0m0 32h0m3 -10h0m1 -18h0m1 -11h0m1 0h0m0 80h0m1 -80h0m1 11h0m4 21h0m1 -3h0m1 -20h0m4 22h0m1 -25h0m3 2h0m1 21h0m0 10h0m1 0h0m1 -30h0m1 26h0m1 -33h0m2 7h0m0 -7h0m1 5h0m2 25h0m1 -1h0m2 -30h0m0 29h0m2 -21h0m1 20h0m0 9h0m1 -8h0m1 1h0m3 8h0m1 -7h0m0 -30h0m1 37h0m2 -11h0m2 10h0m1 -10h0m2 -19h0m1 0h0m0 -3h0m1 1h0m0 -3h0m2 6h0m0 23h0m2 4h0m1 -9h0m1 -19h0m0 -1h0m2 20h0m2 -28h0m1 35h0m0 -7h0m1 7h0m0 -3h0m1 -26h0m1 30h0m1 -30h0m1 35h0m2 -33h0m0 0h0m1 0h0m0 -2h0m1 31h0m2 8h0m0 -33h0m1 20h0m0 -25h0m2 5h0m0 -1h0m1 31h0m2 -9h0m1 -23h0m1 25h0m0 -31h0m1 32h0m2 -21h0m1 18h0m3 -28h0m1 4h0m2 5h0m1 -4h0m3 -1h0m1 3h0m0 -5h0m1 32h0m1 -3h0m0 2h0m1 -32h0m0 26h0m1 -22h0m1 -5h0m0 7h0m4 -7h0m0 35h0m1 -8h0m1 -19h0m2 25h0m0 -28h0m2 31h0m2 -36h0m1 31h0m1 -30h0m0 -4h0m2 37h0m0 -27h0m0 -10h0m1 6h0m1 24h0m1 -25h0m0 28h0m2 -23h0m2 24h0m1 0h0m1 0h0m1 6h0m0 -5h0m1 3h0m1 -36h0m1 35h0m1 -25h0m1 -9h0m1 31h0m1 2h0m1 1h0m1 -4h0m1 -36h0m2 44h0m2 1h0m1 -36h0m1 36h0m0 -38h0m1 31h0m0 -22h0m1 -3h0m0 2h0m1 23h0m2 7h0m0 -38h0m1 -1h0m1 29h0m0 -25h0m1 -1h0m0 0h0m1 29h0m1 6h0m1 41h0m1 -50h0m1 -29h0m1 5h0m1 1h0m1 3h0m1 22h0m0 -51h0m1 21h0m2 26h0m0 3h0m1 1h0m0 -29h0m1 -3h0m2 10h0m3 27h0m1 -3h0m1 -5h0m2 5h0m0 -6h0m1 1h0m1 -28h0m0 9h0m1 -6h0m1 31h0m0 -31h0m1 35h0m1 -38h0m0 2h0m1 28h0m2 5h0m2 -28h0m1 -6h0m1 38h0m1 -6h0m0 -27h0m1 24h0m1 1h0m4 0h0m1 -21h0m1 -8h0m0 10h0m2 18h0m0 1h0m1 1h0m3 2h0m0 -30h0m1 -2h0m0 11h0m1 -8h0m1 -3h0m1 32h0m0 -25h0m1 -6h0m1 4h0m2 23h0m3 6h0m0 41h0m1 -69h0m3 30h0m1 -37h0m0 38h0m1 -30h0m1 61h0m0 -65h0m1 28h0m1 -29h0m2 -1h0m1 27h0m0 -20h0m1 23h0m1 12h0m0 -6h0m1 -8h0m1 -28h0m1 29h0m0 0h0m1 -28h0m1 -1h0m1 27h0m1 -23h0m0 3h0m3 -8h0m1 31h0m3 7h0m1 -4h0m0 -23h0m2 -5h0m1 -5h0m2 -17h0m0 45h0m2 10h0m2 -1h0m2 -5h0m1 1h0m1 -28h0m1 3h0m2 0h0m1 30h0m0 -10h0m1 2h0m0 1h0m1 -3h0m0 0h0m1 0h0m3 -27h0m2 27h0m1 -19h0m0 18h0m1 -21h0m2 23h0m0 -3h0m1 -28h0m4 0h0m1 4h0m1 30h0m2 4h0m1 -28h0m3 23h0m0 -4h0m3 -1h0m0 -21h0m1 24h0m0 -28h0m1 8h0m1 0h0m0 24h0m1 3h0m0 -4h0m3 5h0m1 -4h0m1 -2h0m1 2h0m0 -4h0m2 0h0m1 -2h0m0 2h0m1 9h0m1 -32h0m1 21h0m1 -19h0m1 0h0m1 -2h0m0 0h0m1 -2h0m2 25h0m1 4h0m2 5h0m3 0h0m1 -28h0m1 28h0m1 -28h0m1 18h0m1 -29h0m0 28h0m2 2h0m0 -23h0m1 -6h0m1 36h0m0 -30h0m1 0h0m0 3h0m1 -3h0m0 21h0m1 6h0m1 0h0m0 -25h0m1 -9h0m1 11h0m1 -11h0m1 32h0m1 -27h0m1 4h0m1 22h0m3 -23h0m1 29h0m1 -26h0m1 -2h0m1 22h0m0 -20h0m1 21h0m0 8h0m1 -30h0m1 26h0m1 0h0m0 -2h0m2 7h0m1 -6h0m0 -1h0m2 5h0m0 -35h0m1 28h0m1 -24h0m1 5h0m1 -1h0m2 -8h0m1 1h0m1 27h0m1 4h0m1 -24h0m0 -1h0m3 23h0m1 9h0m2 -7h0m-522 93h0m0 67h0" stroke="#000000" stroke-width="8" stroke-linecap="square" fill="none"/>
<path d="M672.4 198.2 672.9 205.4 673.4 211.6 673.9 217.2 674.4 222.5 674.9 227.6 675.4 232.4 675.9 236.9 676.4 241.2 676.9 245.2 678.9 260.0 680.8 273.8 682.8 286.4 684.8 298.4 686.8 310.2 688.7 322.0 690.7 333.8 692.7 345.3 694.7 356.3 696.7 366.7 698.6 376.5 700.6 386.2 702.6 395.7 704.6 404.6 706.5 413.0 708.5 420.6 710.5 427.7 712.5 434.4 714.4 440.9 716.4 447.0 723.8 466.8 731.2 481.3 738.7 491.8 746.1 500.4 753.5 507.4 760.9 512.8 768.3 517.9 775.7 523.2 783.1 527.1 790.5 529.2 798.0 532.1 805.4 536.9 812.8 540.4 820.2 540.9 827.6 541.9 835.0 545.2 842.4 547.5 849.9 546.5 857.3 545.6 864.7 547.6 884.4 548.5 904.2 554.8 924.0 556.1 943.8 559.4 963.5 562.6 983.3 560.8 1003.1 563.9 1022.8 564.9 1042.6 563.3 1062.4 567.5 1082.1 568.0 1101.9 568.0 1121.7 570.7 1141.4 568.1 1161.2 570.5 1181.0 575.4 1200.7 574.0 1220.5 574.0 1240.3 571.0 1260.0 568.3 1279.8 575.0 1299.6 577.8 1319.3 576.9 1339.1 576.6 1358.9 572.5 1378.6 575.5 1398.4 581.1 1418.2 578.6 1438.0 577.3 1457.7 574.7 1477.5 573.8 1497.3 580.7 1517.0 581.5 1536.8 579.0 1556.6 579.8 1556.6 605.2 1536.8 604.4 1517.0 606.8 1497.3 606.0 1477.5 599.1 1457.7 600.1 1438.0 602.6 1418.2 604.0 1398.4 606.4 1378.6 600.8 1358.9 597.8 1339.1 602.0 1319.3 602.2 1299.6 603.1 1279.8 600.3 1260.0 593.6 1240.3 596.3 1220.5 599.3 1200.7 599.3 1181.0 600.8 1161.2 595.8 1141.4 593.4 1121.7 596.0 1101.9 593.3 1082.1 593.3 1062.4 592.8 1042.6 588.6 1022.8 590.3 1003.1 589.2 983.3 586.1 963.5 588.0 943.8 584.7 924.0 581.4 904.2 580.1 884.4 573.9 864.7 572.9 857.3 570.9 849.9 571.8 842.4 572.8 835.0 570.6 827.6 567.2 820.2 566.2 812.8 565.8 805.4 562.2 798.0 557.4 790.5 554.6 783.1 552.5 775.7 548.5 768.3 543.2 760.9 538.2 753.5 532.7 746.1 525.7 738.7 517.2 731.2 506.6 723.8 492.1 716.4 472.4 714.4 466.2 712.5 459.8 710.5 453.0 708.5 446.0 706.5 438.3 704.6 430.0 702.6 421.0 700.6 411.5 698.6 401.8 696.7 392.0 694.7 381.6 692.7 370.6 690.7 359.1 688.7 347.3 686.8 335.5 684.8 323.8 682.8 311.8 680.8 299.1 678.9 285.3 676.9 270.5 676.4 266.5 675.9 262.3 675.4 257.8 674.9 252.9 674.4 247.8 673.9 242.5 673.4 236.9 672.9 230.7 672.4 223.5z" fill="#ff0000" stroke="#ff0000" stroke-width="8.5" stroke-linejoin="round"/>
<path d="M669 114h0m1 17h0m0 14h0m0 9h0m0 14h0m1 4h0m0 22h0m0 -11h0m0 9h0m1 -11h0m0 13h0m0 18h0m0 -7h0m1 23h0m0 -3h0m0 12h0m0 -29h0m1 13h0m0 22h0m0 -10h0m0 -8h0m1 7h0m0 4h0m0 16h0m0 0h0m1 -6h0m0 -7h0m0 22h0m0 5h0m1 -23h0m0 25h0m0 -20h0m0 11h0m1 -5h0m0 -5h0m0 11h0m0 1h0m1 20h0m0 -1h0m0 -13h0m0 59h0m1 -63h0m0 1h0m1 10h0m0 27h0m1 -21h0m0 25h0m1 10h0m0 -25h0m1 26h0m0 -17h0m1 28h0m1 -23h0m0 25h0m2 16h0m1 5h0m1 2h0m1 6h0m1 -19h0m1 35h0m1 -21h0m0 29h0m1 3h0m2 -18h0m1 29h0m0 7h0m1 -1h0m2 12h0m0 -29h0m1 7h0m0 5h0m1 24h0m2 9h0m1 -61h0m1 44h0m1 34h0m2 -21h0m4 44h0m3 -22h0m0 3h0m2 30h0m0 -29h0m1 4h0m1 -12h0m1 15h0m3 39h0m0 -27h0m2 -1h0m0 7h0m1 28h0m2 1h0m1 -4h0m0 6h0m1 -22h0m1 -1h0m3 0h0m1 7h0m0 73h0m1 -45h0m1 -28h0m1 -2h0m0 3h0m3 25h0m1 -18h0m0 22h0m1 5h0m0 -4h0m1 5h0m0 0h0m1 -27h0m1 1h0m1 0h0m1 0h0m2 32h0m0 -7h0m2 -17h0m1 -4h0m0 7h0m1 -5h0m3 0h0m1 27h0m1 -25h0m1 3h0m2 -1h0m1 29h0m0 -28h0m1 27h0m1 -20h0m1 27h0m1 -4h0m1 -27h0m1 29h0m1 3h0m1 -25h0m2 -2h0m1 26h0m0 5h0m1 -3h0m1 -22h0m1 20h0m0 -19h0m1 -5h0m1 1h0m1 25h0m1 -22h0m1 29h0m0 -26h0m1 25h0m0 -5h0m1 7h0m0 -32h0m2 5h0m1 27h0m1 -31h0m2 25h0m1 -19h0m2 -4h0m1 -29h0m1 61h0m1 -24h0m0 19h0m1 6h0m0 -3h0m1 -22h0m0 22h0m2 -24h0m2 -1h0m0 4h0m1 28h0m1 -6h0m1 -18h0m3 20h0m1 -32h0m0 37h0m1 -25h0m1 21h0m1 6h0m1 -26h0m0 -4h0m1 4h0m1 23h0m2 -20h0m0 -3h0m1 22h0m0 -24h0m1 25h0m1 5h0m4 0h0m1 -6h0m2 7h0m0 0h0m2 -25h0m1 -4h0m1 26h0m1 0h0m5 3h0m2 -27h0m1 24h0m1 5h0m1 -29h0m1 6h0m2 -1h0m2 0h0m1 26h0m1 -29h0m0 -3h0m1 1h0m1 24h0m1 1h0m1 -21h0m1 -5h0m0 31h0m2 0h0m1 -27h0m1 28h0m0 -28h0m1 -4h0m2 29h0m2 -28h0m1 1h0m1 31h0m0 -2h0m3 -28h0m0 0h0m1 8h0m1 0h0m1 20h0m2 -27h0m0 2h0m1 23h0m1 0h0m1 0h0m0 -20h0m1 -1h0m1 27h0m0 -32h0m1 0h0m2 -1h0m1 1h0m0 31h0m1 -25h0m2 -7h0m1 32h0m1 -28h0m3 2h0m1 28h0m1 -25h0m1 -2h0m1 28h0m0 0h0m1 0h0m1 29h0m2 -29h0m1 0h0m0 -29h0m1 32h0m1 -32h0m1 25h0m1 -18h0m0 -4h0m1 24h0m0 -19h0m1 -4h0m1 -3h0m1 32h0m1 -32h0m1 -1h0m1 28h0m0 -22h0m2 -6h0m1 26h0m1 6h0m2 -4h0m1 -23h0m2 28h0m1 -27h0m1 0h0m0 27h0m0 0h0m1 1h0m0 -6h0m1 -21h0m2 4h0m2 25h0m1 -30h0m2 3h0m1 24h0m1 5h0m1 0h0m0 0h0m1 -25h0m1 25h0m0 -25h0m1 18h0m1 7h0m1 -3h0m0 3h0m1 -4h0m0 -22h0m1 24h0m0 -2h0m1 -2h0m1 -21h0m1 -12h0m0 36h0m2 -4h0m1 -27h0m1 2h0m1 24h0m1 3h0m2 -26h0m1 5h0m0 25h0m4 1h0m2 -3h0m1 0h0m0 1h0m2 1h0m1 3h0m3 -24h0m4 -4h0m1 3h0m1 23h0m1 -26h0m3 -5h0m1 0h0m1 26h0m4 -26h0m1 32h0m1 -5h0m0 5h0m1 -7h0m2 1h0m1 7h0m0 -78h0m1 72h0m0 -24h0m1 30h0m0 34h0m1 -63h0m3 5h0m1 -2h0m2 25h0m2 -3h0m0 -26h0m1 27h0m0 -1h0m1 6h0m1 -7h0m0 6h0m1 -4h0m1 -24h0m1 4h0m0 -5h0m2 1h0m1 -5h0m2 7h0m0 24h0m1 -2h0m2 -27h0m1 24h0m1 4h0m2 3h0m2 -28h0m0 28h0m4 0h0m1 2h0m1 0h0m1 -6h0m1 -25h0m0 5h0m1 27h0m3 -33h0m1 0h0m1 27h0m0 -27h0m1 3h0m1 -4h0m0 27h0m3 -27h0m1 3h0m2 -4h0m0 26h0m2 2h0m0 4h0m1 -27h0m0 20h0m2 3h0m0 1h0m1 -28h0m2 32h0m0 -2h0m3 4h0m1 0h0m1 -2h0m1 -5h0m1 -19h0m2 2h0m0 25h0m1 -5h0m1 3h0m0 -51h0m2 26h0m0 27h0m1 -32h0m1 7h0m0 -7h0m1 31h0m1 -3h0m1 -23h0m0 19h0m2 7h0m1 -32h0m0 -1h0m1 0h0m1 26h0m1 6h0m0 -26h0m1 -5h0m2 32h0m0 -32h0m2 32h0m0 -25h0m1 -1h0m2 1h0m1 -5h0m2 33h0m0 -7h0m1 -20h0m1 21h0m1 6h0m2 -6h0m0 -19h0m1 -6h0m1 32h0m1 0h0m2 -25h0m1 -8h0m1 32h0m0 -30h0m2 -3h0m2 32h0m2 -8h0m1 -25h0m0 29h0m2 2h0m2 -31h0m1 28h0m1 5h0m2 0h0m1 -2h0m0 3h0m1 -30h0m1 27h0m1 -22h0m1 26h0m1 -28h0m1 -1h0m1 -42h0m4 45h0m1 -6h0m0 32h0m1 -32h0m1 31h0m1 -31h0m1 28h0m1 -2h0m0 4h0m2 -4h0m1 -1h0m2 3h0m1 0h0m0 -31h0m1 7h0m1 -1h0m0 23h0m1 -24h0m3 24h0m1 -23h0m0 -5h0m2 29h0m0 -23h0m1 27h0m0 -6h0m1 5h0m1 -30h0m0 5h0m2 27h0m0 1h0m4 0h0m1 -32h0m0 2h0m2 -1h0m0 -1h0m1 32h0m1 -29h0m1 22h0m1 -26h0m1 -39h0m1 44h0m1 23h0m1 3h0m1 -6h0m0 6h0m1 0h0m1 -4h0m1 -19h0m1 21h0m0 -21h0m1 25h0m0 0h0m2 -26h0m1 25h0m1 -4h0m1 -1h0m0 8h0m1 -2h0m0 -22h0m1 22h0m0 0h0m2 1h0m1 3h0m0 -1h0m1 -24h0m1 23h0m0 -4h0m1 -18h0m2 -3h0m1 3h0m2 24h0m0 -5h0m1 -21h0m0 26h0m1 -27h0m2 -3h0m2 -3h0m1 6h0m0 20h0m1 -2h0m2 -24h0m0 32h0m1 -27h0m3 0h0m0 27h0m1 -30h0m1 -2h0m1 3h0m1 2h0m1 22h0m1 -26h0m1 33h0m1 -28h0m0 26h0m1 -30h0m1 1h0m0 25h0m1 -26h0m0 3h0m2 22h0m2 -26h0m1 31h0m2 -7h0m1 -26h0m2 28h0m0 -29h0m1 31h0m0 -6h0m3 -27h0m2 28h0m0 -4h0m3 8h0m2 -7h0m1 0h0m1 -25h0m1 3h0m1 3h0m0 2h0m1 -5h0m0 -2h0m2 32h0m1 -1h0m2 -27h0m0 -2h0m1 -2h0m1 0h0m1 26h0m0 -26h0m3 3h0m0 3h0m1 -5h0m1 22h0m1 -19h0m1 -6h0m1 3h0m1 4h0m2 -1h0m0 1h0m2 -1h0m0 1h0m1 24h0m0 -6h0m1 -1h0m1 -18h0m2 -5h0m1 0h0m1 33h0m2 -27h0m2 3h0m4 22h0m0 3h0m1 -28h0m3 24h0m1 -20h0m1 -1h0m0 28h0m1 -5h0m0 -22h0m2 22h0m1 4h0m2 -25h0m1 19h0m0 -26h0m1 32h0m1 0h0m0 -31h0m2 24h0m0 4h0m1 -27h0m1 -1h0m1 33h0m0 -25h0m2 -6h0m1 3h0m1 22h0m1 -21h0m1 3h0m2 1h0m2 21h0m1 -2h0m3 -24h0m1 31h0m1 -27h0m1 -1h0m6 26h0m0 -8h0m1 0h0m2 0h0m1 7h0m1 -4h0m1 -28h0m2 66h0m1 -66h0m1 6h0m0 -3h0m1 23h0m0 -26h0m1 5h0m1 21h0m0 -19h0m2 -6h0m2 5h0m0 -2h0m1 -1h0m1 -2h0m0 29h0m1 -4h0m1 -26h0m1 27h0m1 -23h0m2 27h0m1 -25h0m1 18h0m1 -2h0m2 -25h0m0 1h0m2 -2h0m1 0h0m0 0h0m2 25h0m1 1h0m1 -20h0m2 25h0m0 -31h0m1 32h0m1 0h0m1 -29h0m1 23h0m1 4h0m2 -27h0m1 1h0m1 28h0m1 3h0m1 -30h0m1 24h0m3 7h0m0 -31h0m1 27h0m0 4h0m1 -6h0m0 -1h0m1 0h0m1 1h0m1 -27h0m1 0h0m0 27h0m1 -1h0m2 6h0m0 -4h0m1 1h0m0 3h0m1 -5h0m1 5h0m1 -1h0m3 -23h0m0 0h0m2 -6h0m0 1h0m1 3h0m1 22h0m2 9h0m1 0h0m1 -32h0m0 0h0m1 3h0m1 3h0m0 -3h0m1 3h0m0 1h0m1 20h0m1 3h0m1 0h0m1 -24h0m0 26h0m1 -31h0m0 0h0m2 5h0m1 22h0m1 4h0m1 -29h0m1 4h0m2 17h0m2 -23h0m0 -3h0m1 25h0m2 -24h0m1 24h0m1 -18h0m2 41h0m1 -47h0m0 2h0m1 4h0m1 19h0m1 1h0m2 -19h0m1 26h0m1 -1h0m1 -6h0m1 -25h0m0 31h0m2 0h0m2 -33h0m1 31h0m0 -6h0m2 1h0m2 2h0m0 -6h0m1 -19h0m3 -7h0m2 26h0m2 -22h0m1 -2h0m1 -3h0m1 28h0m1 -22h0m2 2h0m0 -5h0m3 27h0m1 -28h0m1 0h0m0 2h0m1 25h0m0 -27h0m2 0h0m0 28h0m1 -21h0m1 19h0m2 -22h0m0 -2h0m1 29h0m1 -3h0m1 0h0m1 3h0m2 -3h0m0 -3h0m1 -26h0m0 1h0m1 30h0m0 -1h0m1 -2h0m2 4h0m0 0h0m1 -3h0m0 -24h0m1 27h0m3 -28h0m3 25h0m2 -20h0m1 2h0m0 25h0m2 -6h0m0 1h0m1 -23h0m0 4h0m1 22h0m2 -28h0m0 32h0m1 0h0m2 -24h0m0 -8h0m2 32h0m1 -25h0m1 -4h0m1 -3h0m1 27h0m1 4h0m0 0h0m1 -25h0m1 -7h0m1 28h0m1 -23h0m2 27h0m3 -31h0m0 0h0m1 0h0m0 29h0m1 -22h0m1 23h0m1 3h0m0 -31h0m1 4h0m3 -1h0m1 23h0m0 -24h0m2 31h0m1 -2h0m1 -27h0m0 37h0m1 -9h0m1 -74h0m1 71h0m0 -23h0m1 25h0m1 -8h0m1 -18h0m2 24h0m0 -3h0m2 3h0m2 -2h0m4 -31h0m0 32h0m1 -5h0m1 5h0m1 -3h0m1 -3h0m2 -25h0m1 27h0m1 -21h0m0 1h0m1 -4h0m0 -3h0m1 27h0m0 -22h0m1 -1h0m1 29h0m1 -32h0m1 31h0m-643 100h0m141 -61h0" stroke="#ff0000" stroke-width="8.5" stroke-linecap="round" fill="none"/>
<path d="M671.9 366.6 672.4 374.5 672.9 381.6 673.4 387.9 673.9 393.6 674.4 398.8 674.9 403.7 675.4 408.1 675.9 412.3 676.4 416.3 676.9 420.0 678.9 433.1 680.8 444.4 682.8 454.3 684.8 463.0 686.8 470.7 688.7 477.6 690.7 483.8 692.7 489.5 694.7 494.7 696.7 499.5 698.6 504.0 700.6 508.2 702.6 512.1 704.6 515.8 706.5 519.3 708.5 522.5 710.5 525.5 712.5 528.3 714.4 531.0 716.4 533.4 723.8 541.3 731.2 547.7 738.7 553.0 746.1 557.5 753.5 561.0 760.9 563.7 768.3 566.2 775.7 568.8 783.1 571.2 790.5 573.3 798.0 574.9 805.4 576.7 812.8 579.5 820.2 583.4 827.6 587.1 835.0 589.8 842.4 591.2 849.9 592.3 857.3 594.1 864.7 596.6 884.4 599.2 904.2 598.0 924.0 600.9 943.8 599.6 963.5 605.2 983.3 606.0 1003.1 608.8 1022.8 609.5 1042.6 607.1 1062.4 610.1 1082.1 607.3 1101.9 612.6 1121.7 611.3 1141.4 613.0 1161.2 613.2 1181.0 610.7 1200.7 615.3 1220.5 612.9 1240.3 619.0 1260.0 616.7 1279.8 617.4 1299.6 616.8 1319.3 613.9 1339.1 619.6 1358.9 618.0 1378.6 625.3 1398.4 623.1 1418.2 623.0 1438.0 621.2 1457.7 616.6 1477.5 621.3 1497.3 618.9 1517.0 626.1 1536.8 624.3 1556.6 626.4 1556.6 654.4 1536.8 652.2 1517.0 654.0 1497.3 646.8 1477.5 649.2 1457.7 644.5 1438.0 649.1 1418.2 650.9 1398.4 651.0 1378.6 653.3 1358.9 645.9 1339.1 647.6 1319.3 641.9 1299.6 644.8 1279.8 645.3 1260.0 644.7 1240.3 647.0 1220.5 640.9 1200.7 643.3 1181.0 638.7 1161.2 641.1 1141.4 640.9 1121.7 639.3 1101.9 640.6 1082.1 635.3 1062.4 638.0 1042.6 635.0 1022.8 637.5 1003.1 636.7 983.3 634.0 963.5 633.2 943.8 627.5 924.0 628.9 904.2 626.0 884.4 627.2 864.7 624.5 857.3 622.1 849.9 620.3 842.4 619.1 835.0 617.7 827.6 615.1 820.2 611.3 812.8 607.4 805.4 604.7 798.0 602.9 790.5 601.3 783.1 599.2 775.7 596.7 768.3 594.1 760.9 591.7 753.5 588.9 746.1 585.4 738.7 581.0 731.2 575.7 723.8 569.2 716.4 561.3 714.4 558.9 712.5 556.3 710.5 553.5 708.5 550.5 706.5 547.3 704.6 543.8 702.6 540.1 700.6 536.1 698.6 531.9 696.7 527.4 694.7 522.6 692.7 517.4 690.7 511.8 688.7 505.5 686.8 498.6 684.8 490.9 682.8 482.3 680.8 472.4 678.9 461.1 676.9 447.9 676.4 444.2 675.9 440.3 675.4 436.1 674.9 431.6 674.4 426.8 673.9 421.6 673.4 415.8 672.9 409.5 672.4 402.5 671.9 394.6z" fill="#0000ff" stroke="#0000ff" stroke-width="8" stroke-linejoin="round"/>
<path d="M667 135l5 9h-10zm0 10l5 9h-10zm0 18l5 9h-10zm0 13l5 9h-10zm0 10l5 9h-10zm1 11l5 9h-10zm0 18l5 9h-10zm0 1l5 9h-10zm0 18l5 9h-10zm0 4l5 9h-10zm0 -1l5 9h-10zm0 19l5 9h-10zm0 2l5 9h-10zm1 23l5 9h-10zm0 9l5 9h-10zm0 14l5 9h-10zm0 8l5 9h-10zm1 17l5 9h-10zm0 9l5 9h-10zm0 -1l5 9h-10zm0 57l5 9h-10zm1 -35l5 9h-10zm0 -7l5 9h-10zm0 17l5 9h-10zm0 8l5 9h-10zm1 8l5 9h-10zm0 -9l5 9h-10zm0 9l5 9h-10zm0 -2l5 9h-10zm1 8l5 9h-10zm0 -20l5 9h-10zm0 29l5 9h-10zm0 18l5 9h-10zm1 -18l5 9h-10zm0 4l5 9h-10zm0 1l5 9h-10zm0 23l5 9h-10zm1 -29l5 9h-10zm0 16l5 9h-10zm0 2l5 9h-10zm0 20l5 9h-10zm1 -21l5 9h-10zm0 8l5 9h-10zm0 -14l5 9h-10zm0 22l5 9h-10zm1 11l5 9h-10zm0 -14l5 9h-10zm0 14l5 9h-10zm0 -14l5 9h-10zm1 19l5 9h-10zm0 -9l5 9h-10zm0 3l5 9h-10zm0 -1l5 9h-10zm1 7l5 9h-10zm0 5l5 9h-10zm0 -7l5 9h-10zm1 25l5 9h-10zm1 -33l5 9h-10zm1 37l5 9h-10zm1 -22l5 9h-10zm4 39l5 9h-10zm2 16l5 9h-10zm1 3l5 9h-10zm0 -40l5 9h-10zm2 40l5 9h-10zm2 0l5 9h-10zm2 8l5 9h-10zm0 10l5 9h-10zm2 -34l5 9h-10zm1 1l5 9h-10zm1 8l5 9h-10zm0 -5l5 9h-10zm3 33l5 9h-10zm3 -20l5 9h-10zm0 3l5 9h-10zm1 29l5 9h-10zm0 -25l5 9h-10zm1 -2l5 9h-10zm4 33l5 9h-10zm1 3l5 9h-10zm3 -32l5 9h-10zm1 32l5 9h-10zm1 -24l5 9h-10zm1 6l5 9h-10zm0 22l5 9h-10zm2 -19l5 9h-10zm0 68l5 9h-10zm1 -47l5 9h-10zm1 5l5 9h-10zm0 -2l5 9h-10zm1 10l5 9h-10zm2 -9l5 9h-10zm4 4l5 9h-10zm3 -24l5 9h-10zm2 -4l5 9h-10zm0 42l5 9h-10zm2 -40l5 9h-10zm1 8l5 9h-10zm1 24l5 9h-10zm3 -26l5 9h-10zm1 7l5 9h-10zm1 33l5 9h-10zm0 -33l5 9h-10zm1 1l5 9h-10zm2 21l5 9h-10zm1 4l5 9h-10zm0 -2l5 9h-10zm1 7l5 9h-10zm2 -1l5 9h-10zm0 -25l5 9h-10zm3 30l5 9h-10zm1 -36l5 9h-10zm1 7l5 9h-10zm0 27l5 9h-10zm5 -3l5 9h-10zm2 -1l5 9h-10zm1 -18l5 9h-10zm1 19l5 9h-10zm2 -21l5 9h-10zm0 22l5 9h-10zm2 0l5 9h-10zm0 -30l5 9h-10zm1 11l5 9h-10zm0 30l5 9h-10zm2 -32l5 9h-10zm4 27l5 9h-10zm3 2l5 9h-10zm1 -4l5 9h-10zm2 9l5 9h-10zm4 -36l5 9h-10zm1 88l5 9h-10zm1 -85l5 9h-10zm4 39l5 9h-10zm1 -32l5 9h-10zm1 32l5 9h-10zm1 0l5 9h-10zm0 -41l5 9h-10zm1 34l5 9h-10zm2 0l5 9h-10zm1 2l5 9h-10zm1 -29l5 9h-10zm1 26l5 9h-10zm0 9l5 9h-10zm1 -37l5 9h-10zm0 2l5 9h-10zm1 29l5 9h-10zm0 -31l5 9h-10zm3 3l5 9h-10zm1 36l5 9h-10zm0 -41l5 9h-10zm1 11l5 9h-10zm0 22l5 9h-10zm1 -2l5 9h-10zm3 -17l5 9h-10zm1 -12l5 9h-10zm3 8l5 9h-10zm1 25l5 9h-10zm1 -21l5 9h-10zm0 25l5 9h-10zm1 -28l5 9h-10zm1 1l5 9h-10zm1 -4l5 9h-10zm1 0l5 9h-10zm1 4l5 9h-10zm0 27l5 9h-10zm2 7l5 9h-10zm1 -26l5 9h-10zm1 -5l5 9h-10zm4 2l5 9h-10zm2 31l5 9h-10zm1 -30l5 9h-10zm2 -5l5 9h-10zm0 47l5 9h-10zm1 -10l5 9h-10zm3 2l5 9h-10zm0 -34l5 9h-10zm1 29l5 9h-10zm1 6l5 9h-10zm1 -28l5 9h-10zm0 0l5 9h-10zm1 22l5 9h-10zm1 8l5 9h-10zm1 -35l5 9h-10zm1 25l5 9h-10zm1 -26l5 9h-10zm1 31l5 9h-10zm1 5l5 9h-10zm1 -40l5 9h-10zm2 12l5 9h-10zm1 28l5 9h-10zm2 -8l5 9h-10zm0 -21l5 9h-10zm1 -9l5 9h-10zm1 2l5 9h-10zm2 43l5 9h-10zm2 -5l5 9h-10zm1 -3l5 9h-10zm0 -4l5 9h-10zm2 -1l5 9h-10zm3 1l5 9h-10zm2 -21l5 9h-10zm0 22l5 9h-10zm1 -19l5 9h-10zm1 21l5 9h-10zm0 -23l5 9h-10zm1 2l5 9h-10zm0 25l5 9h-10zm1 -35l5 9h-10zm0 33l5 9h-10zm1 -2l5 9h-10zm2 -25l5 9h-10zm1 -1l5 9h-10zm1 -5l5 9h-10zm1 42l5 9h-10zm0 -9l5 9h-10zm2 2l5 9h-10zm0 -1l5 9h-10zm2 8l5 9h-10zm0 -32l5 9h-10zm2 22l5 9h-10zm1 -23l5 9h-10zm1 -1l5 9h-10zm1 21l5 9h-10zm1 -24l5 9h-10zm1 36l5 9h-10zm1 -12l5 9h-10zm0 12l5 9h-10zm1 -36l5 9h-10zm2 -7l5 9h-10zm0 7l5 9h-10zm1 29l5 9h-10zm1 -1l5 9h-10zm0 6l5 9h-10zm1 -41l5 9h-10zm1 3l5 9h-10zm2 6l5 9h-10zm0 29l5 9h-10zm1 4l5 9h-10zm0 -42l5 9h-10zm1 3l5 9h-10zm1 2l5 9h-10zm2 -1l5 9h-10zm0 6l5 9h-10zm1 2l5 9h-10zm1 27l5 9h-10zm1 -33l5 9h-10zm1 7l5 9h-10zm0 24l5 9h-10zm1 -24l5 9h-10zm1 31l5 9h-10zm1 -33l5 9h-10zm0 2l5 9h-10zm1 30l5 9h-10zm1 -2l5 9h-10zm0 -29l5 9h-10zm1 2l5 9h-10zm3 20l5 9h-10zm1 -21l5 9h-10zm1 21l5 9h-10zm1 -31l5 9h-10zm0 34l5 9h-10zm1 -25l5 9h-10zm0 -2l5 9h-10zm1 35l5 9h-10zm0 -32l5 9h-10zm1 -3l5 9h-10zm0 -2l5 9h-10zm1 37l5 9h-10zm2 -36l5 9h-10zm1 1l5 9h-10zm1 31l5 9h-10zm0 -6l5 9h-10zm2 -23l5 9h-10zm1 1l5 9h-10zm0 29l5 9h-10zm1 2l5 9h-10zm2 -9l5 9h-10zm1 -33l5 9h-10zm1 31l5 9h-10zm1 -31l5 9h-10zm1 7l5 9h-10zm1 1l5 9h-10zm0 24l5 9h-10zm1 -22l5 9h-10zm0 1l5 9h-10zm1 -2l5 9h-10zm4 25l5 9h-10zm3 9l5 9h-10zm1 -34l5 9h-10zm1 23l5 9h-10zm1 -21l5 9h-10zm0 23l5 9h-10zm1 -24l5 9h-10zm1 -6l5 9h-10zm0 6l5 9h-10zm1 28l5 9h-10zm1 -29l5 9h-10zm0 2l5 9h-10zm1 4l5 9h-10zm0 0l5 9h-10zm2 -2l5 9h-10zm0 -2l5 9h-10zm1 27l5 9h-10zm0 -23l5 9h-10zm1 1l5 9h-10zm1 -2l5 9h-10zm1 1l5 9h-10zm0 1l5 9h-10zm1 27l5 9h-10zm0 -26l5 9h-10zm1 23l5 9h-10zm1 3l5 9h-10zm0 -26l5 9h-10zm1 -9l5 9h-10zm1 9l5 9h-10zm1 26l5 9h-10zm3 -28l5 9h-10zm1 -3l5 9h-10zm1 4l5 9h-10zm2 3l5 9h-10zm1 -6l5 9h-10zm1 5l5 9h-10zm1 22l5 9h-10zm1 -28l5 9h-10zm1 36l5 9h-10zm1 -41l5 9h-10zm3 30l5 9h-10zm2 -25l5 9h-10zm0 28l5 9h-10zm2 3l5 9h-10zm0 -35l5 9h-10zm1 40l5 9h-10zm0 -38l5 9h-10zm1 33l5 9h-10zm1 -36l5 9h-10zm0 42l5 9h-10zm1 -6l5 9h-10zm0 -30l5 9h-10zm2 26l5 9h-10zm1 -28l5 9h-10zm2 4l5 9h-10zm0 -7l5 9h-10zm4 41l5 9h-10zm0 2l5 9h-10zm2 -35l5 9h-10zm3 -5l5 9h-10zm1 39l5 9h-10zm2 -39l5 9h-10zm1 11l5 9h-10zm0 -1l5 9h-10zm1 -8l5 9h-10zm0 34l5 9h-10zm1 -33l5 9h-10zm3 39l5 9h-10zm1 -11l5 9h-10zm1 -31l5 9h-10zm2 1l5 9h-10zm7 29l5 9h-10zm2 -2l5 9h-10zm3 -1l5 9h-10zm0 -26l5 9h-10zm1 6l5 9h-10zm1 -1l5 9h-10zm2 -10l5 9h-10zm0 10l5 9h-10zm1 -1l5 9h-10zm1 -9l5 9h-10zm1 9l5 9h-10zm1 -2l5 9h-10zm1 -4l5 9h-10zm2 -2l5 9h-10zm1 5l5 9h-10zm6 6l5 9h-10zm1 25l5 9h-10zm1 1l5 9h-10zm3 -35l5 9h-10zm2 10l5 9h-10zm1 -1l5 9h-10zm0 26l5 9h-10zm1 -1l5 9h-10zm0 -33l5 9h-10zm2 9l5 9h-10zm1 25l5 9h-10zm3 -4l5 9h-10zm0 11l5 9h-10zm1 -32l5 9h-10zm0 27l5 9h-10zm1 -35l5 9h-10zm4 3l5 9h-10zm1 30l5 9h-10zm1 -3l5 9h-10zm1 -22l5 9h-10zm1 -12l5 9h-10zm1 39l5 9h-10zm6 -30l5 9h-10zm0 -2l5 9h-10zm1 34l5 9h-10zm2 -32l5 9h-10zm2 -2l5 9h-10zm1 4l5 9h-10zm1 -5l5 9h-10zm2 27l5 9h-10zm1 11l5 9h-10zm1 -32l5 9h-10zm1 0l5 9h-10zm1 1l5 9h-10zm1 -9l5 9h-10zm1 10l5 9h-10zm2 -1l5 9h-10zm1 31l5 9h-10zm1 -9l5 9h-10zm2 -18l5 9h-10zm1 -7l5 9h-10zm2 1l5 9h-10zm1 37l5 9h-10zm1 -1l5 9h-10zm2 -30l5 9h-10zm2 -4l5 9h-10zm1 27l5 9h-10zm1 -27l5 9h-10zm2 22l5 9h-10zm1 -24l5 9h-10zm0 5l5 9h-10zm1 -7l5 9h-10zm0 -1l5 9h-10zm1 27l5 9h-10zm1 -27l5 9h-10zm0 -4l5 9h-10zm1 36l5 9h-10zm0 0l5 9h-10zm2 -5l5 9h-10zm1 10l5 9h-10zm2 -32l5 9h-10zm2 29l5 9h-10zm1 -29l5 9h-10zm1 -10l5 9h-10zm1 41l5 9h-10zm1 -29l5 9h-10zm0 -2l5 9h-10zm1 24l5 9h-10zm0 5l5 9h-10zm2 -5l5 9h-10zm1 1l5 9h-10zm0 2l5 9h-10zm2 7l5 9h-10zm1 -41l5 9h-10zm0 30l5 9h-10zm1 3l5 9h-10zm1 4l5 9h-10zm2 -26l5 9h-10zm0 22l5 9h-10zm2 -32l5 9h-10zm0 37l5 9h-10zm5 3l5 9h-10zm4 -31l5 9h-10zm0 33l5 9h-10zm2 -7l5 9h-10zm1 -27l5 9h-10zm1 1l5 9h-10zm1 1l5 9h-10zm1 -11l5 9h-10zm0 7l5 9h-10zm6 33l5 9h-10zm4 -43l5 9h-10zm1 10l5 9h-10zm0 -10l5 9h-10zm2 9l5 9h-10zm1 24l5 9h-10zm1 -27l5 9h-10zm0 4l5 9h-10zm1 20l5 9h-10zm0 -23l5 9h-10zm1 -7l5 9h-10zm0 2l5 9h-10zm2 29l5 9h-10zm2 7l5 9h-10zm1 -32l5 9h-10zm1 3l5 9h-10zm2 32l5 9h-10zm1 -28l5 9h-10zm1 31l5 9h-10zm1 -35l5 9h-10zm1 36l5 9h-10zm0 -38l5 9h-10zm2 35l5 9h-10zm0 -30l5 9h-10zm3 4l5 9h-10zm0 20l5 9h-10zm1 -21l5 9h-10zm0 29l5 9h-10zm1 -8l5 9h-10zm0 6l5 9h-10zm1 -31l5 9h-10zm0 34l5 9h-10zm1 -7l5 9h-10zm1 -33l5 9h-10zm1 0l5 9h-10zm1 41l5 9h-10zm1 -11l5 9h-10zm1 6l5 9h-10zm1 -5l5 9h-10zm0 -1l5 9h-10zm1 -22l5 9h-10zm3 61l5 9h-10zm1 -60l5 9h-10zm2 -11l5 9h-10zm1 36l5 9h-10zm1 -3l5 9h-10zm1 32l5 9h-10zm1 -54l5 9h-10zm1 26l5 9h-10zm1 4l5 9h-10zm1 -5l5 9h-10zm1 31l5 9h-10zm0 -26l5 9h-10zm1 -5l5 9h-10zm2 -25l5 9h-10zm1 -2l5 9h-10zm8 -3l5 9h-10zm0 4l5 9h-10zm4 30l5 9h-10zm0 6l5 9h-10zm1 -34l5 9h-10zm1 24l5 9h-10zm2 0l5 9h-10zm1 12l5 9h-10zm2 0l5 9h-10zm3 -8l5 9h-10zm1 -34l5 9h-10zm1 1l5 9h-10zm3 31l5 9h-10zm0 -32l5 9h-10zm1 9l5 9h-10zm0 29l5 9h-10zm1 3l5 9h-10zm0 -11l5 9h-10zm2 8l5 9h-10zm4 -6l5 9h-10zm1 1l5 9h-10zm0 -25l5 9h-10zm1 22l5 9h-10zm1 -26l5 9h-10zm1 35l5 9h-10zm0 -40l5 9h-10zm1 36l5 9h-10zm1 -1l5 9h-10zm1 4l5 9h-10zm0 -2l5 9h-10zm3 -32l5 9h-10zm1 24l5 9h-10zm1 -32l5 9h-10zm1 0l5 9h-10zm0 12l5 9h-10zm1 -2l5 9h-10zm1 -9l5 9h-10zm2 0l5 9h-10zm0 42l5 9h-10zm1 -1l5 9h-10zm3 -10l5 9h-10zm1 5l5 9h-10zm1 3l5 9h-10zm1 -1l5 9h-10zm2 -28l5 9h-10zm1 34l5 9h-10zm1 0l5 9h-10zm1 -4l5 9h-10zm2 -38l5 9h-10zm1 0l5 9h-10zm0 6l5 9h-10zm1 25l5 9h-10zm1 -25l5 9h-10zm2 29l5 9h-10zm1 -3l5 9h-10zm0 6l5 9h-10zm1 -38l5 9h-10zm1 2l5 9h-10zm2 2l5 9h-10zm2 2l5 9h-10zm0 -9l5 9h-10zm1 42l5 9h-10zm1 16l5 9h-10zm1 -52l5 9h-10zm1 30l5 9h-10zm0 5l5 9h-10zm1 -8l5 9h-10zm1 1l5 9h-10zm1 3l5 9h-10zm2 -33l5 9h-10zm1 25l5 9h-10zm1 -31l5 9h-10zm2 4l5 9h-10zm0 5l5 9h-10zm2 22l5 9h-10zm4 10l5 9h-10zm0 -28l5 9h-10zm1 20l5 9h-10zm2 11l5 9h-10zm1 -7l5 9h-10zm1 -32l5 9h-10zm0 29l5 9h-10zm1 3l5 9h-10zm2 9l5 9h-10zm0 0l5 9h-10zm2 -31l5 9h-10zm1 0l5 9h-10zm0 32l5 9h-10zm1 -33l5 9h-10zm2 2l5 9h-10zm1 25l5 9h-10zm1 2l5 9h-10zm1 4l5 9h-10zm0 -31l5 9h-10zm1 31l5 9h-10zm1 -3l5 9h-10zm1 -28l5 9h-10zm0 -2l5 9h-10zm1 -2l5 9h-10zm3 2l5 9h-10zm1 0l5 9h-10zm2 28l5 9h-10zm1 -25l5 9h-10zm1 24l5 9h-10zm0 -36l5 9h-10zm1 6l5 9h-10zm1 3l5 9h-10zm0 33l5 9h-10zm1 -38l5 9h-10zm1 37l5 9h-10zm1 -10l5 9h-10zm1 10l5 9h-10zm3 -41l5 9h-10zm3 4l5 9h-10zm1 7l5 9h-10zm1 -10l5 9h-10zm0 40l5 9h-10zm2 -5l5 9h-10zm1 0l5 9h-10zm1 2l5 9h-10zm1 -2l5 9h-10zm1 -24l5 9h-10zm2 -8l5 9h-10zm1 10l5 9h-10zm1 -9l5 9h-10zm0 8l5 9h-10zm1 30l5 9h-10zm2 -1l5 9h-10zm1 -1l5 9h-10zm1 4l5 9h-10zm1 3l5 9h-10zm2 2l5 9h-10zm1 -12l5 9h-10zm1 5l5 9h-10zm2 -35l5 9h-10zm4 9l5 9h-10zm0 2l5 9h-10zm1 -6l5 9h-10zm1 27l5 9h-10zm0 8l5 9h-10zm2 -33l5 9h-10zm1 21l5 9h-10zm1 -23l5 9h-10zm2 -3l5 9h-10zm1 36l5 9h-10zm1 -36l5 9h-10zm2 30l5 9h-10zm1 -28l5 9h-10zm1 27l5 9h-10zm0 -31l5 9h-10zm1 3l5 9h-10zm1 25l5 9h-10zm1 -26l5 9h-10zm1 32l5 9h-10zm1 -1l5 9h-10zm1 0l5 9h-10zm1 -5l5 9h-10zm1 2l5 9h-10zm0 7l5 9h-10zm1 -11l5 9h-10zm0 -27l5 9h-10zm1 28l5 9h-10zm1 1l5 9h-10zm1 -23l5 9h-10zm1 32l5 9h-10zm1 1l5 9h-10zm0 0l5 9h-10zm2 -37l5 9h-10zm2 0l5 9h-10zm1 27l5 9h-10zm2 0l5 9h-10zm1 3l5 9h-10zm4 -30l5 9h-10zm1 3l5 9h-10zm0 4l5 9h-10zm2 -11l5 9h-10zm1 5l5 9h-10zm1 31l5 9h-10zm0 -6l5 9h-10zm1 1l5 9h-10zm1 3l5 9h-10zm1 -30l5 9h-10zm2 34l5 9h-10zm1 -8l5 9h-10zm2 -2l5 9h-10zm1 -1l5 9h-10zm3 -33l5 9h-10zm1 42l5 9h-10zm0 -35l5 9h-10zm3 27l5 9h-10zm0 2l5 9h-10zm1 3l5 9h-10zm1 -29l5 9h-10zm0 -3l5 9h-10zm1 34l5 9h-10zm0 -3l5 9h-10zm3 -28l5 9h-10zm1 -10l5 9h-10zm1 11l5 9h-10zm0 29l5 9h-10zm1 -5l5 9h-10zm1 -30l5 9h-10zm0 -5l5 9h-10zm1 37l5 9h-10zm2 -28l5 9h-10zm1 2l5 9h-10zm0 32l5 9h-10zm1 -36l5 9h-10zm1 0l5 9h-10zm1 32l5 9h-10zm1 0l5 9h-10zm1 -26l5 9h-10zm0 -6l5 9h-10zm2 -2l5 9h-10zm1 3l5 9h-10zm6 -3l5 9h-10zm6 38l5 9h-10zm0 -7l5 9h-10zm1 9l5 9h-10zm1 -34l5 9h-10zm0 -3l5 9h-10zm1 2l5 9h-10zm2 31l5 9h-10zm0 -9l5 9h-10zm1 -20l5 9h-10zm1 -9l5 9h-10zm2 29l5 9h-10zm0 11l5 9h-10zm1 -4l5 9h-10zm3 -5l5 9h-10zm1 -22l5 9h-10zm0 30l5 9h-10zm1 54l5 9h-10zm1 -64l5 9h-10zm0 10l5 9h-10zm4 -29l5 9h-10zm1 23l5 9h-10zm2 41l5 9h-10zm1 -40l5 9h-10zm1 6l5 9h-10zm0 -29l5 9h-10zm2 31l5 9h-10zm1 -7l5 9h-10zm0 -31l5 9h-10zm1 33l5 9h-10zm0 0l5 9h-10zm1 -22l5 9h-10zm0 -2l5 9h-10zm1 34l5 9h-10zm1 -30l5 9h-10zm0 24l5 9h-10zm2 -2l5 9h-10zm1 5l5 9h-10zm0 -38l5 9h-10zm2 12l5 9h-10zm1 -6l5 9h-10zm3 -4l5 9h-10zm3 8l5 9h-10zm1 27l5 9h-10zm2 4l5 9h-10zm2 -5l5 9h-10zm1 -32l5 9h-10zm0 26l5 9h-10zm1 5l5 9h-10zm0 3l5 9h-10zm1 -7l5 9h-10zm0 11l5 9h-10zm1 -4l5 9h-10zm0 -29l5 9h-10zm1 23l5 9h-10zm0 -2l5 9h-10zm1 -10l5 9h-10zm0 17l5 9h-10zm1 4l5 9h-10zm0 -8l5 9h-10zm1 21l5 9h-10zm0 16l5 9h-10zm1 -57l5 9h-10zm0 50l5 9h-10zm1 -25l5 9h-10zm0 9l5 9h-10zm1 -29l5 9h-10zm0 40l5 9h-10zm1 -23l5 9h-10zm0 17l5 9h-10zm1 4l5 9h-10zm0 -13l5 9h-10zm1 6l5 9h-10zm0 3l5 9h-10zm1 -43l5 9h-10zm0 49l5 9h-10zm1 -25l5 9h-10zm0 3l5 9h-10zm1 9l5 9h-10zm0 10l5 9h-10zm1 -47l5 9h-10zm0 31l5 9h-10zm1 -10l5 9h-10zm0 11l5 9h-10zm1 67l5 9h-10zm0 -88l5 9h-10zm1 50l5 9h-10zm0 -8l5 9h-10zm1 -17l5 9h-10zm0 17l5 9h-10zm1 -32l5 9h-10zm-660 66l5 9h-10zm648 59l5 9h-10zm-4 -74l5 9h-10zm1 22l5 9h-10zm-764 -339l5 9h-10z" fill="#0000ff"/>
<path d="M673.4 80.0 673.9 80.0 674.4 80.0 674.9 85.4 675.4 91.6 675.9 97.5 676.4 102.9 676.9 107.8 678.9 124.4 680.8 140.0 682.8 157.0 684.8 174.7 686.8 191.6 688.7 207.0 690.7 220.5 692.7 232.3 694.7 243.4 696.7 254.1 698.6 265.0 700.6 276.2 702.6 288.4 704.6 301.1 706.5 313.6 708.5 325.5 710.5 336.2 712.5 345.7 714.4 354.5 716.4 362.8 723.8 389.4 731.2 410.8 738.7 427.7 746.1 439.4 753.5 448.3 760.9 455.9 768.3 462.7 775.7 468.5 783.1 473.6 790.5 478.0 798.0 481.8 805.4 485.0 812.8 487.8 820.2 490.3 827.6 492.8 835.0 495.3 842.4 497.9 849.9 500.4 857.3 502.9 864.7 505.4 884.4 511.3 904.2 515.7 924.0 518.7 943.8 520.3 963.5 520.5 983.3 519.9 1003.1 520.7 1022.8 524.7 1042.6 530.8 1062.4 535.2 1082.1 535.0 1101.9 531.5 1121.7 528.7 1141.4 529.5 1161.2 533.1 1181.0 536.3 1200.7 537.3 1220.5 536.8 1240.3 536.6 1260.0 537.0 1279.8 537.3 1299.6 537.5 1319.3 538.3 1339.1 539.9 1358.9 541.3 1378.6 541.1 1398.4 539.7 1418.2 539.3 1438.0 541.2 1457.7 544.1 1477.5 545.1 1497.3 543.1 1517.0 540.2 1536.8 539.3 1556.6 540.7 1556.6 559.3 1536.8 557.9 1517.0 558.9 1497.3 561.7 1477.5 563.7 1457.7 562.8 1438.0 559.9 1418.2 557.9 1398.4 558.3 1378.6 559.7 1358.9 560.0 1339.1 558.6 1319.3 556.9 1299.6 556.2 1279.8 556.0 1260.0 555.6 1240.3 555.2 1220.5 555.5 1200.7 556.0 1181.0 555.0 1161.2 551.7 1141.4 548.1 1121.7 547.3 1101.9 550.1 1082.1 553.7 1062.4 553.8 1042.6 549.4 1022.8 543.4 1003.1 539.4 983.3 538.5 963.5 539.1 943.8 539.0 924.0 537.3 904.2 534.3 884.4 530.0 864.7 524.1 857.3 521.6 849.9 519.0 842.4 516.5 835.0 514.0 827.6 511.4 820.2 508.9 812.8 506.4 805.4 503.6 798.0 500.4 790.5 496.6 783.1 492.2 775.7 487.2 768.3 481.3 760.9 474.5 753.5 466.9 746.1 458.0 738.7 446.4 731.2 429.5 723.8 408.1 716.4 381.4 714.4 373.1 712.5 364.3 710.5 354.8 708.5 344.1 706.5 332.3 704.6 319.7 702.6 307.0 700.6 294.8 698.6 283.6 696.7 272.8 694.7 262.0 692.7 251.0 690.7 239.1 688.7 225.6 686.8 210.2 684.8 193.3 682.8 175.6 680.8 158.7 678.9 143.0 676.9 126.4 676.4 121.5 675.9 116.1 675.4 110.2 674.9 104.0 674.4 97.3 673.9 90.1 673.4 82.2z" fill="#ff00ff" stroke="#ff00ff" stroke-width="8" stroke-linejoin="round"/>
<path d="M674 102l5 -9h-10zm1 7l5 -9h-10zm1 13l5 -9h-10zm0 -12l5 -9h-10zm0 8l5 -9h-10zm1 -3l5 -9h-10zm0 9l5 -9h-10zm0 7l5 -9h-10zm0 -7l5 -9h-10zm1 15l5 -9h-10zm0 -13l5 -9h-10zm0 9l5 -9h-10zm0 -9l5 -9h-10zm1 14l5 -9h-10zm0 4l5 -9h-10zm0 -7l5 -9h-10zm0 -5l5 -9h-10zm1 23l5 -9h-10zm0 6l5 -9h-10zm1 -2l5 -9h-10zm0 4l5 -9h-10zm1 -14l5 -9h-10zm0 21l5 -9h-10zm0 4l5 -9h-10zm1 8l5 -9h-10zm0 2l5 -9h-10zm1 6l5 -9h-10zm0 -17l5 -9h-10zm1 5l5 -9h-10zm0 25l5 -9h-10zm1 -17l5 -9h-10zm0 9l5 -9h-10zm1 8l5 -9h-10zm1 20l5 -9h-10zm1 9l5 -9h-10zm0 0l5 -9h-10zm2 8l5 -9h-10zm0 -11l5 -9h-10zm1 20l5 -9h-10zm0 -13l5 -9h-10zm2 25l5 -9h-10zm1 3l5 -9h-10zm0 7l5 -9h-10zm2 -10l5 -9h-10zm1 21l5 -9h-10zm1 8l5 -9h-10zm0 1l5 -9h-10zm1 -18l5 -9h-10zm0 3l5 -9h-10zm1 8l5 -9h-10zm2 30l5 -9h-10zm0 -1l5 -9h-10zm1 -14l5 -9h-10zm0 3l5 -9h-10zm3 33l5 -9h-10zm0 7l5 -9h-10zm2 -11l5 -9h-10zm2 33l5 -9h-10zm0 -18l5 -9h-10zm2 7l5 -9h-10zm1 24l5 -9h-10zm1 -18l5 -9h-10zm1 4l5 -9h-10zm3 14l5 -9h-10zm1 26l5 -9h-10zm1 0l5 -9h-10zm1 4l5 -9h-10zm2 3l5 -9h-10zm0 6l5 -9h-10zm1 -16l5 -9h-10zm1 21l5 -9h-10zm2 2l5 -9h-10zm1 5l5 -9h-10zm1 -17l5 -9h-10zm1 4l5 -9h-10zm1 22l5 -9h-10zm0 -2l5 -9h-10zm1 2l5 -9h-10zm0 -19l5 -9h-10zm1 7l5 -9h-10zm1 20l5 -9h-10zm2 4l5 -9h-10zm1 -16l5 -9h-10zm0 -4l5 -9h-10zm1 25l5 -9h-10zm1 -17l5 -9h-10zm1 15l5 -9h-10zm2 -10l5 -9h-10zm1 -4l5 -9h-10zm1 20l5 -9h-10zm2 7l5 -9h-10zm0 1l5 -9h-10zm2 2l5 -9h-10zm0 0l5 -9h-10zm2 2l5 -9h-10zm2 -16l5 -9h-10zm1 2l5 -9h-10zm2 19l5 -9h-10zm3 -14l5 -9h-10zm1 -1l5 -9h-10zm1 2l5 -9h-10zm1 2l5 -9h-10zm1 18l5 -9h-10zm0 2l5 -9h-10zm1 -23l5 -9h-10zm2 2l5 -9h-10zm1 22l5 -9h-10zm1 1l5 -9h-10zm1 2l5 -9h-10zm2 -16l5 -9h-10zm0 17l5 -9h-10zm1 -21l5 -9h-10zm1 5l5 -9h-10zm0 17l5 -9h-10zm1 2l5 -9h-10zm0 -18l5 -9h-10zm2 -2l5 -9h-10zm1 20l5 -9h-10zm2 -16l5 -9h-10zm1 21l5 -9h-10zm1 -18l5 -9h-10zm1 15l5 -9h-10zm3 -17l5 -9h-10zm2 1l5 -9h-10zm0 0l5 -9h-10zm2 22l5 -9h-10zm0 -19l5 -9h-10zm1 18l5 -9h-10zm1 -18l5 -9h-10zm1 0l5 -9h-10zm1 2l5 -9h-10zm2 1l5 -9h-10zm0 3l5 -9h-10zm0 -2l5 -9h-10zm1 3l5 -9h-10zm1 -3l5 -9h-10zm1 22l5 -9h-10zm0 -23l5 -9h-10zm3 24l5 -9h-10zm1 1l5 -9h-10zm1 -21l5 -9h-10zm3 22l5 -9h-10zm0 -19l5 -9h-10zm3 15l5 -9h-10zm1 -16l5 -9h-10zm1 22l5 -9h-10zm1 -22l5 -9h-10zm0 18l5 -9h-10zm1 -16l5 -9h-10zm1 4l5 -9h-10zm1 18l5 -9h-10zm1 -23l5 -9h-10zm3 1l5 -9h-10zm2 24l5 -9h-10zm1 0l5 -9h-10zm1 0l5 -9h-10zm0 -22l5 -9h-10zm1 4l5 -9h-10zm1 17l5 -9h-10zm1 -18l5 -9h-10zm1 16l5 -9h-10zm1 -55l5 -9h-10zm1 61l5 -9h-10zm1 0l5 -9h-10zm1 -20l5 -9h-10zm1 -2l5 -9h-10zm0 0l5 -9h-10zm1 0l5 -9h-10zm2 1l5 -9h-10zm0 20l5 -9h-10zm2 -20l5 -9h-10zm0 5l5 -9h-10zm1 18l5 -9h-10zm2 0l5 -9h-10zm0 -3l5 -9h-10zm1 0l5 -9h-10zm0 -15l5 -9h-10zm4 21l5 -9h-10zm2 -20l5 -9h-10zm0 21l5 -9h-10zm2 -3l5 -9h-10zm1 2l5 -9h-10zm1 -19l5 -9h-10zm0 21l5 -9h-10zm1 -20l5 -9h-10zm1 17l5 -9h-10zm0 0l5 -9h-10zm1 -34l5 -9h-10zm0 34l5 -9h-10zm1 5l5 -9h-10zm1 -22l5 -9h-10zm0 3l5 -9h-10zm1 -4l5 -9h-10zm0 20l5 -9h-10zm1 3l5 -9h-10zm3 2l5 -9h-10zm1 -23l5 -9h-10zm0 21l5 -9h-10zm1 -18l5 -9h-10zm1 15l5 -9h-10zm1 -17l5 -9h-10zm1 3l5 -9h-10zm1 3l5 -9h-10zm2 -2l5 -9h-10zm1 19l5 -9h-10zm1 -20l5 -9h-10zm1 3l5 -9h-10zm2 -3l5 -9h-10zm1 0l5 -9h-10zm1 2l5 -9h-10zm1 18l5 -9h-10zm1 1l5 -9h-10zm1 0l5 -9h-10zm1 -2l5 -9h-10zm0 6l5 -9h-10zm1 -4l5 -9h-10zm0 0l5 -9h-10zm1 -14l5 -9h-10zm0 -5l5 -9h-10zm3 5l5 -9h-10zm2 -4l5 -9h-10zm2 21l5 -9h-10zm3 3l5 -9h-10zm0 1l5 -9h-10zm1 -20l5 -9h-10zm1 -3l5 -9h-10zm1 18l5 -9h-10zm2 2l5 -9h-10zm1 -17l5 -9h-10zm1 -2l5 -9h-10zm1 23l5 -9h-10zm1 0l5 -9h-10zm0 -22l5 -9h-10zm1 0l5 -9h-10zm0 1l5 -9h-10zm1 22l5 -9h-10zm2 -4l5 -9h-10zm1 2l5 -9h-10zm2 -2l5 -9h-10zm2 -14l5 -9h-10zm1 19l5 -9h-10zm1 -18l5 -9h-10zm1 14l5 -9h-10zm1 1l5 -9h-10zm0 -19l5 -9h-10zm1 17l5 -9h-10zm1 -15l5 -9h-10zm1 1l5 -9h-10zm6 21l5 -9h-10zm0 -5l5 -9h-10zm0 3l5 -9h-10zm1 2l5 -9h-10zm0 -64l5 -9h-10zm1 63l5 -9h-10zm0 0l5 -9h-10zm1 -1l5 -9h-10zm0 -17l5 -9h-10zm1 -1l5 -9h-10zm3 18l5 -9h-10zm1 1l5 -9h-10zm2 -21l5 -9h-10zm0 0l5 -9h-10zm1 3l5 -9h-10zm1 -3l5 -9h-10zm1 0l5 -9h-10zm0 0l5 -9h-10zm2 3l5 -9h-10zm1 17l5 -9h-10zm1 -16l5 -9h-10zm1 1l5 -9h-10zm1 18l5 -9h-10zm1 -21l5 -9h-10zm0 21l5 -9h-10zm1 -3l5 -9h-10zm1 4l5 -9h-10zm1 -23l5 -9h-10zm0 3l5 -9h-10zm1 20l5 -9h-10zm1 -23l5 -9h-10zm1 4l5 -9h-10zm0 -2l5 -9h-10zm1 17l5 -9h-10zm1 4l5 -9h-10zm0 -23l5 -9h-10zm1 23l5 -9h-10zm1 0l5 -9h-10zm2 -23l5 -9h-10zm1 23l5 -9h-10zm1 0l5 -9h-10zm1 -5l5 -9h-10zm1 2l5 -9h-10zm1 -2l5 -9h-10zm3 -13l5 -9h-10zm2 18l5 -9h-10zm0 -23l5 -9h-10zm4 23l5 -9h-10zm1 -4l5 -9h-10zm0 2l5 -9h-10zm1 -21l5 -9h-10zm0 22l5 -9h-10zm1 -2l5 -9h-10zm1 -20l5 -9h-10zm0 22l5 -9h-10zm1 0l5 -9h-10zm1 0l5 -9h-10zm1 0l5 -9h-10zm0 -3l5 -9h-10zm1 -14l5 -9h-10zm1 0l5 -9h-10zm3 14l5 -9h-10zm2 -2l5 -9h-10zm2 0l5 -9h-10zm0 -14l5 -9h-10zm1 -4l5 -9h-10zm0 19l5 -9h-10zm1 4l5 -9h-10zm0 -5l5 -9h-10zm1 2l5 -9h-10zm0 3l5 -9h-10zm1 -1l5 -9h-10zm0 -17l5 -9h-10zm1 0l5 -9h-10zm0 -5l5 -9h-10zm1 6l5 -9h-10zm1 -3l5 -9h-10zm1 19l5 -9h-10zm1 -20l5 -9h-10zm0 1l5 -9h-10zm3 2l5 -9h-10zm1 19l5 -9h-10zm1 0l5 -9h-10zm1 -23l5 -9h-10zm0 0l5 -9h-10zm1 2l5 -9h-10zm1 -2l5 -9h-10zm0 4l5 -9h-10zm1 19l5 -9h-10zm1 0l5 -9h-10zm0 -4l5 -9h-10zm1 4l5 -9h-10zm1 -3l5 -9h-10zm2 4l5 -9h-10zm1 -18l5 -9h-10zm1 18l5 -9h-10zm2 -3l5 -9h-10zm1 -1l5 -9h-10zm1 -18l5 -9h-10zm3 24l5 -9h-10zm2 0l5 -9h-10zm0 -23l5 -9h-10zm2 23l5 -9h-10zm0 1l5 -9h-10zm1 0l5 -9h-10zm1 -18l5 -9h-10zm1 18l5 -9h-10zm1 -1l5 -9h-10zm3 -17l5 -9h-10zm0 -3l5 -9h-10zm2 21l5 -9h-10zm1 -20l5 -9h-10zm2 21l5 -9h-10zm1 -21l5 -9h-10zm0 5l5 -9h-10zm1 -1l5 -9h-10zm1 -2l5 -9h-10zm3 0l5 -9h-10zm2 5l5 -9h-10zm2 14l5 -9h-10zm1 -16l5 -9h-10zm1 2l5 -9h-10zm0 20l5 -9h-10zm1 -5l5 -9h-10zm1 -17l5 -9h-10zm2 2l5 -9h-10zm0 50l5 -9h-10zm1 -52l5 -9h-10zm0 23l5 -9h-10zm1 -66l5 -9h-10zm1 65l5 -9h-10zm1 2l5 -9h-10zm0 -4l5 -9h-10zm1 -19l5 -9h-10zm1 18l5 -9h-10zm0 4l5 -9h-10zm1 -36l5 -9h-10zm2 38l5 -9h-10zm0 -5l5 -9h-10zm1 5l5 -9h-10zm1 0l5 -9h-10zm0 0l5 -9h-10zm1 -21l5 -9h-10zm2 19l5 -9h-10zm0 -18l5 -9h-10zm1 18l5 -9h-10zm0 -20l5 -9h-10zm1 23l5 -9h-10zm1 -19l5 -9h-10zm0 -4l5 -9h-10zm1 3l5 -9h-10zm2 20l5 -9h-10zm0 -22l5 -9h-10zm2 20l5 -9h-10zm0 -1l5 -9h-10zm1 -18l5 -9h-10zm1 21l5 -9h-10zm1 -18l5 -9h-10zm2 17l5 -9h-10zm0 -22l5 -9h-10zm2 0l5 -9h-10zm1 23l5 -9h-10zm0 -4l5 -9h-10zm1 -19l5 -9h-10zm2 4l5 -9h-10zm0 -4l5 -9h-10zm1 18l5 -9h-10zm0 -19l5 -9h-10zm1 5l5 -9h-10zm1 18l5 -9h-10zm1 -23l5 -9h-10zm1 0l5 -9h-10zm1 20l5 -9h-10zm0 -51l5 -9h-10zm1 35l5 -9h-10zm1 -4l5 -9h-10zm2 21l5 -9h-10zm0 -4l5 -9h-10zm3 -14l5 -9h-10zm0 0l5 -9h-10zm1 -2l5 -9h-10zm0 43l5 -9h-10zm1 -23l5 -9h-10zm1 -5l5 -9h-10zm1 4l5 -9h-10zm0 -23l5 -9h-10zm1 23l5 -9h-10zm2 -23l5 -9h-10zm1 18l5 -9h-10zm0 -18l5 -9h-10zm1 18l5 -9h-10zm0 4l5 -9h-10zm1 -2l5 -9h-10zm2 2l5 -9h-10zm1 -23l5 -9h-10zm0 17l5 -9h-10zm2 -16l5 -9h-10zm1 18l5 -9h-10zm0 0l5 -9h-10zm1 -18l5 -9h-10zm0 2l5 -9h-10zm1 19l5 -9h-10zm0 0l5 -9h-10zm1 -1l5 -9h-10zm0 1l5 -9h-10zm2 -23l5 -9h-10zm0 4l5 -9h-10zm1 -3l5 -9h-10zm1 18l5 -9h-10zm0 3l5 -9h-10zm1 -19l5 -9h-10zm1 19l5 -9h-10zm0 -19l5 -9h-10zm1 0l5 -9h-10zm2 1l5 -9h-10zm1 13l5 -9h-10zm0 -15l5 -9h-10zm1 1l5 -9h-10zm0 0l5 -9h-10zm1 19l5 -9h-10zm0 0l5 -9h-10zm2 -6l5 -9h-10zm0 1l5 -9h-10zm1 5l5 -9h-10zm1 -5l5 -9h-10zm1 4l5 -9h-10zm1 -20l5 -9h-10zm0 21l5 -9h-10zm1 -23l5 -9h-10zm0 23l5 -9h-10zm1 -19l5 -9h-10zm1 1l5 -9h-10zm1 18l5 -9h-10zm1 -21l5 -9h-10zm1 21l5 -9h-10zm2 -20l5 -9h-10zm1 21l5 -9h-10zm1 -23l5 -9h-10zm1 4l5 -9h-10zm1 -34l5 -9h-10zm1 30l5 -9h-10zm0 0l5 -9h-10zm1 1l5 -9h-10zm2 0l5 -9h-10zm1 3l5 -9h-10zm1 -3l5 -9h-10zm0 23l5 -9h-10zm1 -23l5 -9h-10zm1 24l5 -9h-10zm1 0l5 -9h-10zm2 -23l5 -9h-10zm1 3l5 -9h-10zm0 -1l5 -9h-10zm1 -1l5 -9h-10zm1 5l5 -9h-10zm0 18l5 -9h-10zm1 -2l5 -9h-10zm1 1l5 -9h-10zm3 -2l5 -9h-10zm0 -19l5 -9h-10zm1 0l5 -9h-10zm1 0l5 -9h-10zm2 23l5 -9h-10zm1 -22l5 -9h-10zm1 0l5 -9h-10zm1 0l5 -9h-10zm2 21l5 -9h-10zm0 2l5 -9h-10zm1 -5l5 -9h-10zm1 6l5 -9h-10zm3 0l5 -9h-10zm0 -23l5 -9h-10zm1 0l5 -9h-10zm1 2l5 -9h-10zm2 2l5 -9h-10zm3 -3l5 -9h-10zm1 4l5 -9h-10zm2 16l5 -9h-10zm1 -19l5 -9h-10zm2 0l5 -9h-10zm2 5l5 -9h-10zm0 17l5 -9h-10zm2 -1l5 -9h-10zm1 -18l5 -9h-10zm0 -3l5 -9h-10zm1 23l5 -9h-10zm1 -23l5 -9h-10zm1 19l5 -9h-10zm1 -19l5 -9h-10zm2 0l5 -9h-10zm0 23l5 -9h-10zm1 0l5 -9h-10zm0 -20l5 -9h-10zm1 1l5 -9h-10zm0 19l5 -9h-10zm2 -5l5 -9h-10zm1 1l5 -9h-10zm2 -19l5 -9h-10zm1 22l5 -9h-10zm1 -22l5 -9h-10zm1 2l5 -9h-10zm1 3l5 -9h-10zm0 14l5 -9h-10zm1 -15l5 -9h-10zm0 18l5 -9h-10zm1 -22l5 -9h-10zm0 22l5 -9h-10zm1 0l5 -9h-10zm3 -4l5 -9h-10zm2 -19l5 -9h-10zm0 18l5 -9h-10zm2 4l5 -9h-10zm1 -20l5 -9h-10zm1 16l5 -9h-10zm2 1l5 -9h-10zm1 -19l5 -9h-10zm1 23l5 -9h-10zm1 -23l5 -9h-10zm0 0l5 -9h-10zm4 21l5 -9h-10zm1 0l5 -9h-10zm0 1l5 -9h-10zm1 1l5 -9h-10zm1 -23l5 -9h-10zm2 0l5 -9h-10zm0 18l5 -9h-10zm1 -15l5 -9h-10zm1 2l5 -9h-10zm1 17l5 -9h-10zm3 1l5 -9h-10zm1 -20l5 -9h-10zm0 16l5 -9h-10zm1 4l5 -9h-10zm0 0l5 -9h-10zm1 -21l5 -9h-10zm1 3l5 -9h-10zm0 17l5 -9h-10zm2 1l5 -9h-10zm0 -3l5 -9h-10zm1 3l5 -9h-10zm0 -4l5 -9h-10zm1 4l5 -9h-10zm0 -5l5 -9h-10zm1 2l5 -9h-10zm0 -1l5 -9h-10zm1 0l5 -9h-10zm0 -17l5 -9h-10zm2 3l5 -9h-10zm0 -1l5 -9h-10zm2 17l5 -9h-10zm0 -3l5 -9h-10zm2 -16l5 -9h-10zm1 -2l5 -9h-10zm1 3l5 -9h-10zm1 1l5 -9h-10zm0 19l5 -9h-10zm0 -23l5 -9h-10zm2 23l5 -9h-10zm0 -23l5 -9h-10zm2 2l5 -9h-10zm1 17l5 -9h-10zm1 2l5 -9h-10zm0 -15l5 -9h-10zm1 -4l5 -9h-10zm1 21l5 -9h-10zm0 -22l5 -9h-10zm1 0l5 -9h-10zm1 0l5 -9h-10zm1 5l5 -9h-10zm0 -1l5 -9h-10zm1 13l5 -9h-10zm1 1l5 -9h-10zm1 3l5 -9h-10zm0 -3l5 -9h-10zm1 -18l5 -9h-10zm1 3l5 -9h-10zm2 -2l5 -9h-10zm2 22l5 -9h-10zm2 -21l5 -9h-10zm0 19l5 -9h-10zm2 -20l5 -9h-10zm2 20l5 -9h-10zm0 2l5 -9h-10zm1 0l5 -9h-10zm1 0l5 -9h-10zm3 -23l5 -9h-10zm0 18l5 -9h-10zm1 0l5 -9h-10zm1 1l5 -9h-10zm3 0l5 -9h-10zm0 -19l5 -9h-10zm1 21l5 -9h-10zm1 -21l5 -9h-10zm0 18l5 -9h-10zm1 -18l5 -9h-10zm0 0l5 -9h-10zm1 23l5 -9h-10zm1 -23l5 -9h-10zm1 0l5 -9h-10zm1 18l5 -9h-10zm0 -16l5 -9h-10zm1 19l5 -9h-10zm1 -2l5 -9h-10zm1 -1l5 -9h-10zm2 -17l5 -9h-10zm1 22l5 -9h-10zm1 -20l5 -9h-10zm1 0l5 -9h-10zm0 1l5 -9h-10zm2 19l5 -9h-10zm0 -22l5 -9h-10zm4 23l5 -9h-10zm0 -20l5 -9h-10zm1 -3l5 -9h-10zm3 21l5 -9h-10zm1 0l5 -9h-10zm1 1l5 -9h-10zm1 0l5 -9h-10zm1 -17l5 -9h-10zm1 -2l5 -9h-10zm1 2l5 -9h-10zm1 18l5 -9h-10zm2 -1l5 -9h-10zm0 -21l5 -9h-10zm1 0l5 -9h-10zm1 3l5 -9h-10zm0 20l5 -9h-10zm1 -2l5 -9h-10zm2 -2l5 -9h-10zm0 -19l5 -9h-10zm4 23l5 -9h-10zm0 -22l5 -9h-10zm1 19l5 -9h-10zm0 4l5 -9h-10zm1 -5l5 -9h-10zm0 5l5 -9h-10zm1 -23l5 -9h-10zm1 0l5 -9h-10zm0 0l5 -9h-10zm2 18l5 -9h-10zm2 -17l5 -9h-10zm0 4l5 -9h-10zm1 18l5 -9h-10zm1 -19l5 -9h-10zm1 19l5 -9h-10zm1 -20l5 -9h-10zm1 20l5 -9h-10zm1 0l5 -9h-10zm1 -22l5 -9h-10zm2 0l5 -9h-10zm1 0l5 -9h-10zm2 0l5 -9h-10zm1 2l5 -9h-10zm1 20l5 -9h-10zm0 -22l5 -9h-10zm1 18l5 -9h-10zm2 5l5 -9h-10zm1 -22l5 -9h-10zm1 2l5 -9h-10zm2 -2l5 -9h-10zm0 3l5 -9h-10zm2 18l5 -9h-10zm0 -4l5 -9h-10zm2 4l5 -9h-10zm0 -22l5 -9h-10zm1 22l5 -9h-10zm1 -2l5 -9h-10zm0 2l5 -9h-10zm1 -20l5 -9h-10zm1 17l5 -9h-10zm1 -18l5 -9h-10zm1 -2l5 -9h-10zm1 6l5 -9h-10zm1 16l5 -9h-10zm3 -2l5 -9h-10zm1 -18l5 -9h-10zm1 -2l5 -9h-10zm1 21l5 -9h-10zm0 2l5 -9h-10zm1 -19l5 -9h-10zm1 -1l5 -9h-10zm1 -1l5 -9h-10zm1 20l5 -9h-10zm2 -23l5 -9h-10zm0 23l5 -9h-10zm1 -4l5 -9h-10zm0 1l5 -9h-10zm1 -16l5 -9h-10zm0 19l5 -9h-10zm1 -2l5 -9h-10zm0 -21l5 -9h-10zm1 23l5 -9h-10zm1 -19l5 -9h-10zm2 14l5 -9h-10zm0 -14l5 -9h-10zm1 0l5 -9h-10zm2 -4l5 -9h-10zm4 0l5 -9h-10zm0 0l5 -9h-10zm1 0l5 -9h-10zm1 0l5 -9h-10zm1 0l5 -9h-10zm0 22l5 -9h-10zm1 -22l5 -9h-10zm1 1l5 -9h-10zm1 2l5 -9h-10zm1 19l5 -9h-10zm0 -3l5 -9h-10zm2 3l5 -9h-10zm0 -1l5 -9h-10zm1 -4l5 -9h-10zm1 1l5 -9h-10zm1 5l5 -9h-10zm1 -19l5 -9h-10zm2 15l5 -9h-10zm2 1l5 -9h-10zm1 -1l5 -9h-10zm1 -19l5 -9h-10zm1 6l5 -9h-10zm1 -4l5 -9h-10zm1 1l5 -9h-10zm1 -2l5 -9h-10zm1 0l5 -9h-10zm0 23l5 -9h-10zm1 0l5 -9h-10zm1 -4l5 -9h-10zm1 -1l5 -9h-10zm1 5l5 -9h-10zm0 -17l5 -9h-10zm1 -1l5 -9h-10zm2 -2l5 -9h-10zm1 -2l5 -9h-10zm1 0l5 -9h-10zm2 21l5 -9h-10zm2 -20l5 -9h-10zm1 74l5 -9h-10zm0 -70l5 -9h-10zm3 1l5 -9h-10zm0 0l5 -9h-10zm2 -3l5 -9h-10zm2 -1l5 -9h-10zm1 20l5 -9h-10zm2 -18l5 -9h-10zm0 21l5 -9h-10zm1 -3l5 -9h-10zm1 4l5 -9h-10zm0 -22l5 -9h-10zm1 22l5 -9h-10zm0 -5l5 -9h-10zm1 5l5 -9h-10zm1 -18l5 -9h-10zm1 -1l5 -9h-10zm1 19l5 -9h-10zm1 0l5 -9h-10zm2 -4l5 -9h-10zm1 -19l5 -9h-10zm1 2l5 -9h-10zm0 3l5 -9h-10zm1 -1l5 -9h-10zm1 -4l5 -9h-10zm0 21l5 -9h-10zm3 -3l5 -9h-10zm0 -13l5 -9h-10zm1 0l5 -9h-10zm1 1l5 -9h-10zm0 15l5 -9h-10zm0 2l5 -9h-10zm2 -23l5 -9h-10zm1 3l5 -9h-10zm0 2l5 -9h-10zm1 -5l5 -9h-10zm2 19l5 -9h-10zm0 1l5 -9h-10zm1 -2l5 -9h-10zm0 -18l5 -9h-10zm4 3l5 -9h-10zm1 20l5 -9h-10zm1 -23l5 -9h-10zm0 20l5 -9h-10zm2 -19l5 -9h-10zm2 1l5 -9h-10zm1 -3l5 -9h-10zm1 20l5 -9h-10zm0 -2l5 -9h-10zm3 -19l5 -9h-10zm0 5l5 -9h-10zm1 -5l5 -9h-10zm0 18l5 -9h-10zm4 -18l5 -9h-10zm0 1l5 -9h-10zm1 21l5 -9h-10zm2 0l5 -9h-10zm1 -19l5 -9h-10zm1 -3l5 -9h-10zm1 2l5 -9h-10zm0 1l5 -9h-10zm1 -1l5 -9h-10zm1 -1l5 -9h-10zm1 19l5 -9h-10zm2 -1l5 -9h-10zm1 -16l5 -9h-10zm1 15l5 -9h-10zm0 -16l5 -9h-10zm1 13l5 -9h-10zm0 4l5 -9h-10zm1 -17l5 -9h-10zm0 -1l5 -9h-10zm1 -1l5 -9h-10zm0 0l5 -9h-10zm1 -3l5 -9h-10zm2 23l5 -9h-10zm2 0l5 -9h-10zm0 -22l5 -9h-10zm1 -1l5 -9h-10zm0 0l5 -9h-10zm1 -43l5 -9h-10zm1 66l5 -9h-10zm2 -23l5 -9h-10zm0 18l5 -9h-10zm3 -15l5 -9h-10zm0 0l5 -9h-10zm1 19l5 -9h-10zm0 -21l5 -9h-10zm2 0l5 -9h-10zm1 3l5 -9h-10zm2 15l5 -9h-10zm0 -14l5 -9h-10zm1 -1l5 -9h-10zm1 0l5 -9h-10zm1 18l5 -9h-10zm2 -18l5 -9h-10zm0 14l5 -9h-10zm3 -15l5 -9h-10zm1 -3l5 -9h-10zm1 0l5 -9h-10zm0 2l5 -9h-10zm1 -2l5 -9h-10zm1 0l5 -9h-10zm3 23l5 -9h-10zm3 -20l5 -9h-10zm-680 181l5 -9h-10zm0 48l5 -9h-10zm0 -148l5 -9h-10zm233 57l5 -9h-10zm0 -57l5 -9h-10zm-356 -292l5 -9h-10z" fill="#ff00ff"/>
<path d="M673.9 110.8 674.4 119.1 674.9 127.3 675.4 135.1 675.9 142.4 676.4 149.1 676.9 155.1 678.9 174.4 680.8 189.5 682.8 202.8 684.8 215.4 686.8 227.7 688.7 239.2 690.7 249.6 692.7 258.9 694.7 267.1 696.7 274.6 698.6 281.4 700.6 287.9 702.6 294.0 704.6 299.8 706.5 305.5 708.5 311.1 710.5 316.6 712.5 322.0 714.4 327.2 716.4 332.3 723.8 348.6 731.2 361.7 738.7 373.6 746.1 385.7 753.5 397.4 760.9 407.2 768.3 415.4 775.7 423.2 783.1 430.9 790.5 437.6 798.0 442.3 805.4 444.8 812.8 446.6 820.2 449.9 827.6 455.2 835.0 460.6 842.4 464.0 849.9 465.0 857.3 464.7 864.7 464.9 884.4 469.7 904.2 468.3 924.0 469.6 943.8 472.3 963.5 475.6 983.3 478.4 1003.1 479.6 1022.8 480.7 1042.6 478.6 1062.4 483.9 1082.1 483.0 1101.9 488.6 1121.7 489.6 1141.4 486.3 1161.2 489.6 1181.0 484.3 1200.7 490.4 1220.5 492.2 1240.3 494.1 1260.0 497.2 1279.8 492.4 1299.6 493.2 1319.3 491.7 1339.1 495.1 1358.9 498.3 1378.6 502.1 1398.4 501.3 1418.2 500.0 1438.0 498.6 1457.7 495.7 1477.5 501.9 1497.3 500.8 1517.0 506.5 1536.8 506.2 1556.6 502.4 1556.6 532.9 1536.8 536.7 1517.0 537.0 1497.3 531.3 1477.5 532.4 1457.7 526.2 1438.0 529.1 1418.2 530.5 1398.4 531.8 1378.6 532.6 1358.9 528.8 1339.1 525.6 1319.3 522.2 1299.6 523.7 1279.8 522.9 1260.0 527.7 1240.3 524.6 1220.5 522.7 1200.7 520.9 1181.0 514.8 1161.2 520.1 1141.4 516.8 1121.7 520.1 1101.9 519.1 1082.1 513.5 1062.4 514.4 1042.6 509.1 1022.8 511.2 1003.1 510.1 983.3 508.9 963.5 506.1 943.8 502.8 924.0 500.1 904.2 498.8 884.4 500.2 864.7 495.4 857.3 495.2 849.9 495.5 842.4 494.5 835.0 491.1 827.6 485.7 820.2 480.4 812.8 477.1 805.4 475.3 798.0 472.8 790.5 468.1 783.1 461.4 775.7 453.7 768.3 445.9 760.9 437.7 753.5 427.9 746.1 416.2 738.7 404.1 731.2 392.2 723.8 379.1 716.4 362.8 714.4 357.7 712.5 352.5 710.5 347.1 708.5 341.6 706.5 336.0 704.6 330.3 702.6 324.5 700.6 318.4 698.6 311.9 696.7 305.1 694.7 297.6 692.7 289.4 690.7 280.1 688.7 269.7 686.8 258.2 684.8 245.9 682.8 233.3 680.8 220.0 678.9 204.9 676.9 185.6 676.4 179.6 675.9 172.9 675.4 165.6 674.9 157.8 674.4 149.6 673.9 141.3z" fill="#008000" stroke="#008000" stroke-width="9" stroke-linejoin="round"/>
<path d="M672 90l5.5 5.5-5.5 5.5-5.5-5.5zm1 0l5.5 5.5-5.5 5.5-5.5-5.5zm0 13l5.5 5.5-5.5 5.5-5.5-5.5zm0 14l5.5 5.5-5.5 5.5-5.5-5.5zm0 -11l5.5 5.5-5.5 5.5-5.5-5.5zm1 8l5.5 5.5-5.5 5.5-5.5-5.5zm0 5l5.5 5.5-5.5 5.5-5.5-5.5zm0 -8l5.5 5.5-5.5 5.5-5.5-5.5zm0 14l5.5 5.5-5.5 5.5-5.5-5.5zm1 14l5.5 5.5-5.5 5.5-5.5-5.5zm0 -4l5.5 5.5-5.5 5.5-5.5-5.5zm0 -19l5.5 5.5-5.5 5.5-5.5-5.5zm0 38l5.5 5.5-5.5 5.5-5.5-5.5zm1 -2l5.5 5.5-5.5 5.5-5.5-5.5zm0 10l5.5 5.5-5.5 5.5-5.5-5.5zm0 -56l5.5 5.5-5.5 5.5-5.5-5.5zm0 69l5.5 5.5-5.5 5.5-5.5-5.5zm1 -19l5.5 5.5-5.5 5.5-5.5-5.5zm0 -1l5.5 5.5-5.5 5.5-5.5-5.5zm0 23l5.5 5.5-5.5 5.5-5.5-5.5zm0 3l5.5 5.5-5.5 5.5-5.5-5.5zm1 -71l5.5 5.5-5.5 5.5-5.5-5.5zm0 65l5.5 5.5-5.5 5.5-5.5-5.5zm0 17l5.5 5.5-5.5 5.5-5.5-5.5zm0 -4l5.5 5.5-5.5 5.5-5.5-5.5zm1 -1l5.5 5.5-5.5 5.5-5.5-5.5zm0 6l5.5 5.5-5.5 5.5-5.5-5.5zm0 -17l5.5 5.5-5.5 5.5-5.5-5.5zm0 -8l5.5 5.5-5.5 5.5-5.5-5.5zm1 48l5.5 5.5-5.5 5.5-5.5-5.5zm0 -14l5.5 5.5-5.5 5.5-5.5-5.5zm0 7l5.5 5.5-5.5 5.5-5.5-5.5zm1 -26l5.5 5.5-5.5 5.5-5.5-5.5zm0 5l5.5 5.5-5.5 5.5-5.5-5.5zm1 -37l5.5 5.5-5.5 5.5-5.5-5.5zm1 80l5.5 5.5-5.5 5.5-5.5-5.5zm1 -75l5.5 5.5-5.5 5.5-5.5-5.5zm1 57l5.5 5.5-5.5 5.5-5.5-5.5zm1 42l5.5 5.5-5.5 5.5-5.5-5.5zm2 2l5.5 5.5-5.5 5.5-5.5-5.5zm0 -22l5.5 5.5-5.5 5.5-5.5-5.5zm2 8l5.5 5.5-5.5 5.5-5.5-5.5zm0 39l5.5 5.5-5.5 5.5-5.5-5.5zm1 -39l5.5 5.5-5.5 5.5-5.5-5.5zm1 10l5.5 5.5-5.5 5.5-5.5-5.5zm2 -36l5.5 5.5-5.5 5.5-5.5-5.5zm1 44l5.5 5.5-5.5 5.5-5.5-5.5zm0 -1l5.5 5.5-5.5 5.5-5.5-5.5zm1 35l5.5 5.5-5.5 5.5-5.5-5.5zm0 -23l5.5 5.5-5.5 5.5-5.5-5.5zm1 30l5.5 5.5-5.5 5.5-5.5-5.5zm2 -25l5.5 5.5-5.5 5.5-5.5-5.5zm1 8l5.5 5.5-5.5 5.5-5.5-5.5zm2 31l5.5 5.5-5.5 5.5-5.5-5.5zm1 -21l5.5 5.5-5.5 5.5-5.5-5.5zm3 -5l5.5 5.5-5.5 5.5-5.5-5.5zm1 1l5.5 5.5-5.5 5.5-5.5-5.5zm1 52l5.5 5.5-5.5 5.5-5.5-5.5zm0 -36l5.5 5.5-5.5 5.5-5.5-5.5zm1 24l5.5 5.5-5.5 5.5-5.5-5.5zm0 -34l5.5 5.5-5.5 5.5-5.5-5.5zm1 38l5.5 5.5-5.5 5.5-5.5-5.5zm0 -23l5.5 5.5-5.5 5.5-5.5-5.5zm0 27l5.5 5.5-5.5 5.5-5.5-5.5zm1 3l5.5 5.5-5.5 5.5-5.5-5.5zm0 -23l5.5 5.5-5.5 5.5-5.5-5.5zm1 0l5.5 5.5-5.5 5.5-5.5-5.5zm1 -11l5.5 5.5-5.5 5.5-5.5-5.5zm1 8l5.5 5.5-5.5 5.5-5.5-5.5zm0 34l5.5 5.5-5.5 5.5-5.5-5.5zm1 1l5.5 5.5-5.5 5.5-5.5-5.5zm1 3l5.5 5.5-5.5 5.5-5.5-5.5zm1 15l5.5 5.5-5.5 5.5-5.5-5.5zm1 -10l5.5 5.5-5.5 5.5-5.5-5.5zm2 -18l5.5 5.5-5.5 5.5-5.5-5.5zm2 -3l5.5 5.5-5.5 5.5-5.5-5.5zm1 8l5.5 5.5-5.5 5.5-5.5-5.5zm1 -27l5.5 5.5-5.5 5.5-5.5-5.5zm1 61l5.5 5.5-5.5 5.5-5.5-5.5zm1 -2l5.5 5.5-5.5 5.5-5.5-5.5zm0 -3l5.5 5.5-5.5 5.5-5.5-5.5zm3 -24l5.5 5.5-5.5 5.5-5.5-5.5zm2 33l5.5 5.5-5.5 5.5-5.5-5.5zm1 1l5.5 5.5-5.5 5.5-5.5-5.5zm2 12l5.5 5.5-5.5 5.5-5.5-5.5zm0 -10l5.5 5.5-5.5 5.5-5.5-5.5zm1 0l5.5 5.5-5.5 5.5-5.5-5.5zm2 4l5.5 5.5-5.5 5.5-5.5-5.5zm3 -19l5.5 5.5-5.5 5.5-5.5-5.5zm0 -4l5.5 5.5-5.5 5.5-5.5-5.5zm2 33l5.5 5.5-5.5 5.5-5.5-5.5zm0 -34l5.5 5.5-5.5 5.5-5.5-5.5zm1 34l5.5 5.5-5.5 5.5-5.5-5.5zm0 6l5.5 5.5-5.5 5.5-5.5-5.5zm1 -28l5.5 5.5-5.5 5.5-5.5-5.5zm1 30l5.5 5.5-5.5 5.5-5.5-5.5zm1 4l5.5 5.5-5.5 5.5-5.5-5.5zm1 -37l5.5 5.5-5.5 5.5-5.5-5.5zm2 -5l5.5 5.5-5.5 5.5-5.5-5.5zm1 45l5.5 5.5-5.5 5.5-5.5-5.5zm0 1l5.5 5.5-5.5 5.5-5.5-5.5zm1 -40l5.5 5.5-5.5 5.5-5.5-5.5zm1 12l5.5 5.5-5.5 5.5-5.5-5.5zm0 0l5.5 5.5-5.5 5.5-5.5-5.5zm2 -7l5.5 5.5-5.5 5.5-5.5-5.5zm0 38l5.5 5.5-5.5 5.5-5.5-5.5zm1 1l5.5 5.5-5.5 5.5-5.5-5.5zm2 3l5.5 5.5-5.5 5.5-5.5-5.5zm1 -31l5.5 5.5-5.5 5.5-5.5-5.5zm0 43l5.5 5.5-5.5 5.5-5.5-5.5zm1 -6l5.5 5.5-5.5 5.5-5.5-5.5zm0 -3l5.5 5.5-5.5 5.5-5.5-5.5zm1 -48l5.5 5.5-5.5 5.5-5.5-5.5zm0 25l5.5 5.5-5.5 5.5-5.5-5.5zm2 -11l5.5 5.5-5.5 5.5-5.5-5.5zm1 41l5.5 5.5-5.5 5.5-5.5-5.5zm0 0l5.5 5.5-5.5 5.5-5.5-5.5zm2 -1l5.5 5.5-5.5 5.5-5.5-5.5zm1 -75l5.5 5.5-5.5 5.5-5.5-5.5zm2 80l5.5 5.5-5.5 5.5-5.5-5.5zm0 -30l5.5 5.5-5.5 5.5-5.5-5.5zm1 -5l5.5 5.5-5.5 5.5-5.5-5.5zm4 52l5.5 5.5-5.5 5.5-5.5-5.5zm1 1l5.5 5.5-5.5 5.5-5.5-5.5zm1 -42l5.5 5.5-5.5 5.5-5.5-5.5zm1 3l5.5 5.5-5.5 5.5-5.5-5.5zm1 -5l5.5 5.5-5.5 5.5-5.5-5.5zm1 7l5.5 5.5-5.5 5.5-5.5-5.5zm1 5l5.5 5.5-5.5 5.5-5.5-5.5zm4 35l5.5 5.5-5.5 5.5-5.5-5.5zm1 -40l5.5 5.5-5.5 5.5-5.5-5.5zm0 7l5.5 5.5-5.5 5.5-5.5-5.5zm1 -3l5.5 5.5-5.5 5.5-5.5-5.5zm2 11l5.5 5.5-5.5 5.5-5.5-5.5zm0 33l5.5 5.5-5.5 5.5-5.5-5.5zm1 -9l5.5 5.5-5.5 5.5-5.5-5.5zm2 -33l5.5 5.5-5.5 5.5-5.5-5.5zm1 5l5.5 5.5-5.5 5.5-5.5-5.5zm3 9l5.5 5.5-5.5 5.5-5.5-5.5zm1 -1l5.5 5.5-5.5 5.5-5.5-5.5zm1 1l5.5 5.5-5.5 5.5-5.5-5.5zm1 29l5.5 5.5-5.5 5.5-5.5-5.5zm1 -2l5.5 5.5-5.5 5.5-5.5-5.5zm0 7l5.5 5.5-5.5 5.5-5.5-5.5zm1 -35l5.5 5.5-5.5 5.5-5.5-5.5zm1 28l5.5 5.5-5.5 5.5-5.5-5.5zm2 -2l5.5 5.5-5.5 5.5-5.5-5.5zm1 4l5.5 5.5-5.5 5.5-5.5-5.5zm0 -34l5.5 5.5-5.5 5.5-5.5-5.5zm1 32l5.5 5.5-5.5 5.5-5.5-5.5zm0 -33l5.5 5.5-5.5 5.5-5.5-5.5zm1 5l5.5 5.5-5.5 5.5-5.5-5.5zm0 -53l5.5 5.5-5.5 5.5-5.5-5.5zm3 85l5.5 5.5-5.5 5.5-5.5-5.5zm0 11l5.5 5.5-5.5 5.5-5.5-5.5zm1 -49l5.5 5.5-5.5 5.5-5.5-5.5zm1 12l5.5 5.5-5.5 5.5-5.5-5.5zm0 -2l5.5 5.5-5.5 5.5-5.5-5.5zm2 -6l5.5 5.5-5.5 5.5-5.5-5.5zm1 5l5.5 5.5-5.5 5.5-5.5-5.5zm3 -8l5.5 5.5-5.5 5.5-5.5-5.5zm1 14l5.5 5.5-5.5 5.5-5.5-5.5zm1 -14l5.5 5.5-5.5 5.5-5.5-5.5zm2 9l5.5 5.5-5.5 5.5-5.5-5.5zm0 31l5.5 5.5-5.5 5.5-5.5-5.5zm2 -2l5.5 5.5-5.5 5.5-5.5-5.5zm2 13l5.5 5.5-5.5 5.5-5.5-5.5zm1 -43l5.5 5.5-5.5 5.5-5.5-5.5zm0 11l5.5 5.5-5.5 5.5-5.5-5.5zm1 -2l5.5 5.5-5.5 5.5-5.5-5.5zm1 1l5.5 5.5-5.5 5.5-5.5-5.5zm2 33l5.5 5.5-5.5 5.5-5.5-5.5zm1 -38l5.5 5.5-5.5 5.5-5.5-5.5zm3 48l5.5 5.5-5.5 5.5-5.5-5.5zm0 -13l5.5 5.5-5.5 5.5-5.5-5.5zm1 -26l5.5 5.5-5.5 5.5-5.5-5.5zm1 -10l5.5 5.5-5.5 5.5-5.5-5.5zm1 41l5.5 5.5-5.5 5.5-5.5-5.5zm1 -63l5.5 5.5-5.5 5.5-5.5-5.5zm0 29l5.5 5.5-5.5 5.5-5.5-5.5zm1 31l5.5 5.5-5.5 5.5-5.5-5.5zm1 -79l5.5 5.5-5.5 5.5-5.5-5.5zm0 79l5.5 5.5-5.5 5.5-5.5-5.5zm1 15l5.5 5.5-5.5 5.5-5.5-5.5zm1 1l5.5 5.5-5.5 5.5-5.5-5.5zm1 -47l5.5 5.5-5.5 5.5-5.5-5.5zm2 -3l5.5 5.5-5.5 5.5-5.5-5.5zm1 12l5.5 5.5-5.5 5.5-5.5-5.5zm2 27l5.5 5.5-5.5 5.5-5.5-5.5zm1 -26l5.5 5.5-5.5 5.5-5.5-5.5zm2 38l5.5 5.5-5.5 5.5-5.5-5.5zm2 0l5.5 5.5-5.5 5.5-5.5-5.5zm1 0l5.5 5.5-5.5 5.5-5.5-5.5zm0 -72l5.5 5.5-5.5 5.5-5.5-5.5zm1 60l5.5 5.5-5.5 5.5-5.5-5.5zm2 10l5.5 5.5-5.5 5.5-5.5-5.5zm1 -35l5.5 5.5-5.5 5.5-5.5-5.5zm1 22l5.5 5.5-5.5 5.5-5.5-5.5zm1 -70l5.5 5.5-5.5 5.5-5.5-5.5zm0 70l5.5 5.5-5.5 5.5-5.5-5.5zm2 -22l5.5 5.5-5.5 5.5-5.5-5.5zm1 26l5.5 5.5-5.5 5.5-5.5-5.5zm1 -3l5.5 5.5-5.5 5.5-5.5-5.5zm1 -26l5.5 5.5-5.5 5.5-5.5-5.5zm3 3l5.5 5.5-5.5 5.5-5.5-5.5zm0 -13l5.5 5.5-5.5 5.5-5.5-5.5zm1 8l5.5 5.5-5.5 5.5-5.5-5.5zm2 32l5.5 5.5-5.5 5.5-5.5-5.5zm1 -32l5.5 5.5-5.5 5.5-5.5-5.5zm2 0l5.5 5.5-5.5 5.5-5.5-5.5zm2 2l5.5 5.5-5.5 5.5-5.5-5.5zm0 33l5.5 5.5-5.5 5.5-5.5-5.5zm2 -36l5.5 5.5-5.5 5.5-5.5-5.5zm2 -38l5.5 5.5-5.5 5.5-5.5-5.5zm1 45l5.5 5.5-5.5 5.5-5.5-5.5zm0 -38l5.5 5.5-5.5 5.5-5.5-5.5zm3 0l5.5 5.5-5.5 5.5-5.5-5.5zm3 43l5.5 5.5-5.5 5.5-5.5-5.5zm1 36l5.5 5.5-5.5 5.5-5.5-5.5zm1 -12l5.5 5.5-5.5 5.5-5.5-5.5zm0 -24l5.5 5.5-5.5 5.5-5.5-5.5zm1 -1l5.5 5.5-5.5 5.5-5.5-5.5zm0 27l5.5 5.5-5.5 5.5-5.5-5.5zm2 -48l5.5 5.5-5.5 5.5-5.5-5.5zm1 20l5.5 5.5-5.5 5.5-5.5-5.5zm1 -1l5.5 5.5-5.5 5.5-5.5-5.5zm0 2l5.5 5.5-5.5 5.5-5.5-5.5zm2 1l5.5 5.5-5.5 5.5-5.5-5.5zm1 -1l5.5 5.5-5.5 5.5-5.5-5.5zm0 -41l5.5 5.5-5.5 5.5-5.5-5.5zm1 -8l5.5 5.5-5.5 5.5-5.5-5.5zm1 44l5.5 5.5-5.5 5.5-5.5-5.5zm2 26l5.5 5.5-5.5 5.5-5.5-5.5zm1 1l5.5 5.5-5.5 5.5-5.5-5.5zm1 -34l5.5 5.5-5.5 5.5-5.5-5.5zm0 34l5.5 5.5-5.5 5.5-5.5-5.5zm1 -24l5.5 5.5-5.5 5.5-5.5-5.5zm2 -53l5.5 5.5-5.5 5.5-5.5-5.5zm1 43l5.5 5.5-5.5 5.5-5.5-5.5zm1 10l5.5 5.5-5.5 5.5-5.5-5.5zm2 -10l5.5 5.5-5.5 5.5-5.5-5.5zm2 -46l5.5 5.5-5.5 5.5-5.5-5.5zm0 92l5.5 5.5-5.5 5.5-5.5-5.5zm1 -35l5.5 5.5-5.5 5.5-5.5-5.5zm2 0l5.5 5.5-5.5 5.5-5.5-5.5zm1 31l5.5 5.5-5.5 5.5-5.5-5.5zm2 -33l5.5 5.5-5.5 5.5-5.5-5.5zm1 -4l5.5 5.5-5.5 5.5-5.5-5.5zm1 43l5.5 5.5-5.5 5.5-5.5-5.5zm2 -42l5.5 5.5-5.5 5.5-5.5-5.5zm0 1l5.5 5.5-5.5 5.5-5.5-5.5zm1 -1l5.5 5.5-5.5 5.5-5.5-5.5zm1 28l5.5 5.5-5.5 5.5-5.5-5.5zm2 -24l5.5 5.5-5.5 5.5-5.5-5.5zm1 -44l5.5 5.5-5.5 5.5-5.5-5.5zm0 32l5.5 5.5-5.5 5.5-5.5-5.5zm1 43l5.5 5.5-5.5 5.5-5.5-5.5zm1 -29l5.5 5.5-5.5 5.5-5.5-5.5zm1 -13l5.5 5.5-5.5 5.5-5.5-5.5zm0 10l5.5 5.5-5.5 5.5-5.5-5.5zm1 26l5.5 5.5-5.5 5.5-5.5-5.5zm2 1l5.5 5.5-5.5 5.5-5.5-5.5zm1 -30l5.5 5.5-5.5 5.5-5.5-5.5zm2 33l5.5 5.5-5.5 5.5-5.5-5.5zm2 -24l5.5 5.5-5.5 5.5-5.5-5.5zm1 -15l5.5 5.5-5.5 5.5-5.5-5.5zm0 11l5.5 5.5-5.5 5.5-5.5-5.5zm1 26l5.5 5.5-5.5 5.5-5.5-5.5zm0 -59l5.5 5.5-5.5 5.5-5.5-5.5zm1 32l5.5 5.5-5.5 5.5-5.5-5.5zm1 28l5.5 5.5-5.5 5.5-5.5-5.5zm1 6l5.5 5.5-5.5 5.5-5.5-5.5zm0 5l5.5 5.5-5.5 5.5-5.5-5.5zm1 -48l5.5 5.5-5.5 5.5-5.5-5.5zm0 5l5.5 5.5-5.5 5.5-5.5-5.5zm1 -4l5.5 5.5-5.5 5.5-5.5-5.5zm1 47l5.5 5.5-5.5 5.5-5.5-5.5zm1 -12l5.5 5.5-5.5 5.5-5.5-5.5zm1 2l5.5 5.5-5.5 5.5-5.5-5.5zm1 -29l5.5 5.5-5.5 5.5-5.5-5.5zm1 4l5.5 5.5-5.5 5.5-5.5-5.5zm1 -2l5.5 5.5-5.5 5.5-5.5-5.5zm0 37l5.5 5.5-5.5 5.5-5.5-5.5zm1 -48l5.5 5.5-5.5 5.5-5.5-5.5zm1 42l5.5 5.5-5.5 5.5-5.5-5.5zm0 -75l5.5 5.5-5.5 5.5-5.5-5.5zm2 85l5.5 5.5-5.5 5.5-5.5-5.5zm1 -42l5.5 5.5-5.5 5.5-5.5-5.5zm0 -5l5.5 5.5-5.5 5.5-5.5-5.5zm1 34l5.5 5.5-5.5 5.5-5.5-5.5zm0 -31l5.5 5.5-5.5 5.5-5.5-5.5zm1 3l5.5 5.5-5.5 5.5-5.5-5.5zm0 3l5.5 5.5-5.5 5.5-5.5-5.5zm1 -8l5.5 5.5-5.5 5.5-5.5-5.5zm0 38l5.5 5.5-5.5 5.5-5.5-5.5zm1 -4l5.5 5.5-5.5 5.5-5.5-5.5zm1 -38l5.5 5.5-5.5 5.5-5.5-5.5zm0 38l5.5 5.5-5.5 5.5-5.5-5.5zm1 3l5.5 5.5-5.5 5.5-5.5-5.5zm0 -30l5.5 5.5-5.5 5.5-5.5-5.5zm3 -7l5.5 5.5-5.5 5.5-5.5-5.5zm2 39l5.5 5.5-5.5 5.5-5.5-5.5zm1 0l5.5 5.5-5.5 5.5-5.5-5.5zm2 -34l5.5 5.5-5.5 5.5-5.5-5.5zm1 -2l5.5 5.5-5.5 5.5-5.5-5.5zm0 7l5.5 5.5-5.5 5.5-5.5-5.5zm1 -6l5.5 5.5-5.5 5.5-5.5-5.5zm1 2l5.5 5.5-5.5 5.5-5.5-5.5zm2 35l5.5 5.5-5.5 5.5-5.5-5.5zm2 -5l5.5 5.5-5.5 5.5-5.5-5.5zm1 4l5.5 5.5-5.5 5.5-5.5-5.5zm1 0l5.5 5.5-5.5 5.5-5.5-5.5zm0 0l5.5 5.5-5.5 5.5-5.5-5.5zm1 -75l5.5 5.5-5.5 5.5-5.5-5.5zm1 71l5.5 5.5-5.5 5.5-5.5-5.5zm0 12l5.5 5.5-5.5 5.5-5.5-5.5zm1 -33l5.5 5.5-5.5 5.5-5.5-5.5zm2 36l5.5 5.5-5.5 5.5-5.5-5.5zm0 -37l5.5 5.5-5.5 5.5-5.5-5.5zm1 25l5.5 5.5-5.5 5.5-5.5-5.5zm2 9l5.5 5.5-5.5 5.5-5.5-5.5zm1 -48l5.5 5.5-5.5 5.5-5.5-5.5zm0 45l5.5 5.5-5.5 5.5-5.5-5.5zm1 -68l5.5 5.5-5.5 5.5-5.5-5.5zm0 58l5.5 5.5-5.5 5.5-5.5-5.5zm1 -27l5.5 5.5-5.5 5.5-5.5-5.5zm1 41l5.5 5.5-5.5 5.5-5.5-5.5zm3 -3l5.5 5.5-5.5 5.5-5.5-5.5zm0 -4l5.5 5.5-5.5 5.5-5.5-5.5zm2 -37l5.5 5.5-5.5 5.5-5.5-5.5zm2 43l5.5 5.5-5.5 5.5-5.5-5.5zm1 -88l5.5 5.5-5.5 5.5-5.5-5.5zm0 80l5.5 5.5-5.5 5.5-5.5-5.5zm1 -40l5.5 5.5-5.5 5.5-5.5-5.5zm1 42l5.5 5.5-5.5 5.5-5.5-5.5zm3 -41l5.5 5.5-5.5 5.5-5.5-5.5zm0 51l5.5 5.5-5.5 5.5-5.5-5.5zm1 -13l5.5 5.5-5.5 5.5-5.5-5.5zm0 -31l5.5 5.5-5.5 5.5-5.5-5.5zm1 -48l5.5 5.5-5.5 5.5-5.5-5.5zm1 78l5.5 5.5-5.5 5.5-5.5-5.5zm1 -36l5.5 5.5-5.5 5.5-5.5-5.5zm1 38l5.5 5.5-5.5 5.5-5.5-5.5zm1 -32l5.5 5.5-5.5 5.5-5.5-5.5zm1 3l5.5 5.5-5.5 5.5-5.5-5.5zm1 -9l5.5 5.5-5.5 5.5-5.5-5.5zm1 39l5.5 5.5-5.5 5.5-5.5-5.5zm2 -39l5.5 5.5-5.5 5.5-5.5-5.5zm2 13l5.5 5.5-5.5 5.5-5.5-5.5zm2 -5l5.5 5.5-5.5 5.5-5.5-5.5zm1 -45l5.5 5.5-5.5 5.5-5.5-5.5zm0 49l5.5 5.5-5.5 5.5-5.5-5.5zm1 32l5.5 5.5-5.5 5.5-5.5-5.5zm1 -2l5.5 5.5-5.5 5.5-5.5-5.5zm2 -1l5.5 5.5-5.5 5.5-5.5-5.5zm1 0l5.5 5.5-5.5 5.5-5.5-5.5zm1 -41l5.5 5.5-5.5 5.5-5.5-5.5zm1 9l5.5 5.5-5.5 5.5-5.5-5.5zm1 -7l5.5 5.5-5.5 5.5-5.5-5.5zm0 5l5.5 5.5-5.5 5.5-5.5-5.5zm1 -12l5.5 5.5-5.5 5.5-5.5-5.5zm0 11l5.5 5.5-5.5 5.5-5.5-5.5zm2 29l5.5 5.5-5.5 5.5-5.5-5.5zm1 5l5.5 5.5-5.5 5.5-5.5-5.5zm2 -40l5.5 5.5-5.5 5.5-5.5-5.5zm1 36l5.5 5.5-5.5 5.5-5.5-5.5zm0 -30l5.5 5.5-5.5 5.5-5.5-5.5zm1 29l5.5 5.5-5.5 5.5-5.5-5.5zm1 -25l5.5 5.5-5.5 5.5-5.5-5.5zm5 -1l5.5 5.5-5.5 5.5-5.5-5.5zm2 -11l5.5 5.5-5.5 5.5-5.5-5.5zm0 6l5.5 5.5-5.5 5.5-5.5-5.5zm1 9l5.5 5.5-5.5 5.5-5.5-5.5zm3 -5l5.5 5.5-5.5 5.5-5.5-5.5zm0 40l5.5 5.5-5.5 5.5-5.5-5.5zm1 -34l5.5 5.5-5.5 5.5-5.5-5.5zm2 28l5.5 5.5-5.5 5.5-5.5-5.5zm1 -27l5.5 5.5-5.5 5.5-5.5-5.5zm0 30l5.5 5.5-5.5 5.5-5.5-5.5zm1 6l5.5 5.5-5.5 5.5-5.5-5.5zm3 -10l5.5 5.5-5.5 5.5-5.5-5.5zm1 -3l5.5 5.5-5.5 5.5-5.5-5.5zm0 -22l5.5 5.5-5.5 5.5-5.5-5.5zm2 -7l5.5 5.5-5.5 5.5-5.5-5.5zm1 6l5.5 5.5-5.5 5.5-5.5-5.5zm1 1l5.5 5.5-5.5 5.5-5.5-5.5zm4 26l5.5 5.5-5.5 5.5-5.5-5.5zm0 12l5.5 5.5-5.5 5.5-5.5-5.5zm2 -40l5.5 5.5-5.5 5.5-5.5-5.5zm1 1l5.5 5.5-5.5 5.5-5.5-5.5zm0 -8l5.5 5.5-5.5 5.5-5.5-5.5zm1 33l5.5 5.5-5.5 5.5-5.5-5.5zm1 -21l5.5 5.5-5.5 5.5-5.5-5.5zm1 -8l5.5 5.5-5.5 5.5-5.5-5.5zm1 4l5.5 5.5-5.5 5.5-5.5-5.5zm1 31l5.5 5.5-5.5 5.5-5.5-5.5zm1 -56l5.5 5.5-5.5 5.5-5.5-5.5zm0 55l5.5 5.5-5.5 5.5-5.5-5.5zm2 9l5.5 5.5-5.5 5.5-5.5-5.5zm0 -46l5.5 5.5-5.5 5.5-5.5-5.5zm2 -1l5.5 5.5-5.5 5.5-5.5-5.5zm0 44l5.5 5.5-5.5 5.5-5.5-5.5zm2 -13l5.5 5.5-5.5 5.5-5.5-5.5zm1 -27l5.5 5.5-5.5 5.5-5.5-5.5zm0 31l5.5 5.5-5.5 5.5-5.5-5.5zm1 -84l5.5 5.5-5.5 5.5-5.5-5.5zm2 57l5.5 5.5-5.5 5.5-5.5-5.5zm1 -37l5.5 5.5-5.5 5.5-5.5-5.5zm1 64l5.5 5.5-5.5 5.5-5.5-5.5zm2 -32l5.5 5.5-5.5 5.5-5.5-5.5zm0 42l5.5 5.5-5.5 5.5-5.5-5.5zm1 -49l5.5 5.5-5.5 5.5-5.5-5.5zm1 40l5.5 5.5-5.5 5.5-5.5-5.5zm0 8l5.5 5.5-5.5 5.5-5.5-5.5zm1 -49l5.5 5.5-5.5 5.5-5.5-5.5zm3 13l5.5 5.5-5.5 5.5-5.5-5.5zm1 -48l5.5 5.5-5.5 5.5-5.5-5.5zm0 46l5.5 5.5-5.5 5.5-5.5-5.5zm1 31l5.5 5.5-5.5 5.5-5.5-5.5zm1 -30l5.5 5.5-5.5 5.5-5.5-5.5zm1 43l5.5 5.5-5.5 5.5-5.5-5.5zm0 -5l5.5 5.5-5.5 5.5-5.5-5.5zm1 -4l5.5 5.5-5.5 5.5-5.5-5.5zm1 -43l5.5 5.5-5.5 5.5-5.5-5.5zm1 2l5.5 5.5-5.5 5.5-5.5-5.5zm0 -46l5.5 5.5-5.5 5.5-5.5-5.5zm1 62l5.5 5.5-5.5 5.5-5.5-5.5zm0 -1l5.5 5.5-5.5 5.5-5.5-5.5zm1 -43l5.5 5.5-5.5 5.5-5.5-5.5zm0 73l5.5 5.5-5.5 5.5-5.5-5.5zm1 -32l5.5 5.5-5.5 5.5-5.5-5.5zm2 25l5.5 5.5-5.5 5.5-5.5-5.5zm0 -32l5.5 5.5-5.5 5.5-5.5-5.5zm3 9l5.5 5.5-5.5 5.5-5.5-5.5zm2 29l5.5 5.5-5.5 5.5-5.5-5.5zm2 -29l5.5 5.5-5.5 5.5-5.5-5.5zm3 26l5.5 5.5-5.5 5.5-5.5-5.5zm0 7l5.5 5.5-5.5 5.5-5.5-5.5zm1 -34l5.5 5.5-5.5 5.5-5.5-5.5zm0 1l5.5 5.5-5.5 5.5-5.5-5.5zm1 -5l5.5 5.5-5.5 5.5-5.5-5.5zm2 2l5.5 5.5-5.5 5.5-5.5-5.5zm1 38l5.5 5.5-5.5 5.5-5.5-5.5zm2 -34l5.5 5.5-5.5 5.5-5.5-5.5zm1 -4l5.5 5.5-5.5 5.5-5.5-5.5zm1 28l5.5 5.5-5.5 5.5-5.5-5.5zm2 -36l5.5 5.5-5.5 5.5-5.5-5.5zm1 4l5.5 5.5-5.5 5.5-5.5-5.5zm0 6l5.5 5.5-5.5 5.5-5.5-5.5zm1 -14l5.5 5.5-5.5 5.5-5.5-5.5zm1 11l5.5 5.5-5.5 5.5-5.5-5.5zm1 27l5.5 5.5-5.5 5.5-5.5-5.5zm4 6l5.5 5.5-5.5 5.5-5.5-5.5zm1 -9l5.5 5.5-5.5 5.5-5.5-5.5zm0 5l5.5 5.5-5.5 5.5-5.5-5.5zm1 -28l5.5 5.5-5.5 5.5-5.5-5.5zm0 26l5.5 5.5-5.5 5.5-5.5-5.5zm1 11l5.5 5.5-5.5 5.5-5.5-5.5zm1 -51l5.5 5.5-5.5 5.5-5.5-5.5zm2 -45l5.5 5.5-5.5 5.5-5.5-5.5zm0 52l5.5 5.5-5.5 5.5-5.5-5.5zm1 4l5.5 5.5-5.5 5.5-5.5-5.5zm1 29l5.5 5.5-5.5 5.5-5.5-5.5zm1 2l5.5 5.5-5.5 5.5-5.5-5.5zm2 -1l5.5 5.5-5.5 5.5-5.5-5.5zm2 -4l5.5 5.5-5.5 5.5-5.5-5.5zm0 5l5.5 5.5-5.5 5.5-5.5-5.5zm3 -30l5.5 5.5-5.5 5.5-5.5-5.5zm1 6l5.5 5.5-5.5 5.5-5.5-5.5zm2 -14l5.5 5.5-5.5 5.5-5.5-5.5zm2 4l5.5 5.5-5.5 5.5-5.5-5.5zm1 3l5.5 5.5-5.5 5.5-5.5-5.5zm1 8l5.5 5.5-5.5 5.5-5.5-5.5zm3 -12l5.5 5.5-5.5 5.5-5.5-5.5zm1 4l5.5 5.5-5.5 5.5-5.5-5.5zm0 -7l5.5 5.5-5.5 5.5-5.5-5.5zm1 0l5.5 5.5-5.5 5.5-5.5-5.5zm1 45l5.5 5.5-5.5 5.5-5.5-5.5zm1 -46l5.5 5.5-5.5 5.5-5.5-5.5zm1 45l5.5 5.5-5.5 5.5-5.5-5.5zm0 0l5.5 5.5-5.5 5.5-5.5-5.5zm1 -31l5.5 5.5-5.5 5.5-5.5-5.5zm1 34l5.5 5.5-5.5 5.5-5.5-5.5zm1 -4l5.5 5.5-5.5 5.5-5.5-5.5zm1 -32l5.5 5.5-5.5 5.5-5.5-5.5zm0 29l5.5 5.5-5.5 5.5-5.5-5.5zm1 -32l5.5 5.5-5.5 5.5-5.5-5.5zm1 35l5.5 5.5-5.5 5.5-5.5-5.5zm3 -33l5.5 5.5-5.5 5.5-5.5-5.5zm1 23l5.5 5.5-5.5 5.5-5.5-5.5zm2 -24l5.5 5.5-5.5 5.5-5.5-5.5zm0 -8l5.5 5.5-5.5 5.5-5.5-5.5zm1 45l5.5 5.5-5.5 5.5-5.5-5.5zm2 -12l5.5 5.5-5.5 5.5-5.5-5.5zm0 -31l5.5 5.5-5.5 5.5-5.5-5.5zm1 41l5.5 5.5-5.5 5.5-5.5-5.5zm0 -42l5.5 5.5-5.5 5.5-5.5-5.5zm1 31l5.5 5.5-5.5 5.5-5.5-5.5zm2 0l5.5 5.5-5.5 5.5-5.5-5.5zm0 4l5.5 5.5-5.5 5.5-5.5-5.5zm1 -29l5.5 5.5-5.5 5.5-5.5-5.5zm1 -5l5.5 5.5-5.5 5.5-5.5-5.5zm3 -4l5.5 5.5-5.5 5.5-5.5-5.5zm2 5l5.5 5.5-5.5 5.5-5.5-5.5zm1 35l5.5 5.5-5.5 5.5-5.5-5.5zm2 -28l5.5 5.5-5.5 5.5-5.5-5.5zm2 0l5.5 5.5-5.5 5.5-5.5-5.5zm2 39l5.5 5.5-5.5 5.5-5.5-5.5zm0 -41l5.5 5.5-5.5 5.5-5.5-5.5zm1 36l5.5 5.5-5.5 5.5-5.5-5.5zm1 -45l5.5 5.5-5.5 5.5-5.5-5.5zm1 46l5.5 5.5-5.5 5.5-5.5-5.5zm0 -40l5.5 5.5-5.5 5.5-5.5-5.5zm3 11l5.5 5.5-5.5 5.5-5.5-5.5zm1 -4l5.5 5.5-5.5 5.5-5.5-5.5zm0 26l5.5 5.5-5.5 5.5-5.5-5.5zm3 -30l5.5 5.5-5.5 5.5-5.5-5.5zm1 34l5.5 5.5-5.5 5.5-5.5-5.5zm0 0l5.5 5.5-5.5 5.5-5.5-5.5zm3 -40l5.5 5.5-5.5 5.5-5.5-5.5zm0 39l5.5 5.5-5.5 5.5-5.5-5.5zm2 -1l5.5 5.5-5.5 5.5-5.5-5.5zm1 -1l5.5 5.5-5.5 5.5-5.5-5.5zm1 -26l5.5 5.5-5.5 5.5-5.5-5.5zm0 29l5.5 5.5-5.5 5.5-5.5-5.5zm2 -50l5.5 5.5-5.5 5.5-5.5-5.5zm0 57l5.5 5.5-5.5 5.5-5.5-5.5zm1 -47l5.5 5.5-5.5 5.5-5.5-5.5zm1 11l5.5 5.5-5.5 5.5-5.5-5.5zm1 32l5.5 5.5-5.5 5.5-5.5-5.5zm1 -7l5.5 5.5-5.5 5.5-5.5-5.5zm1 8l5.5 5.5-5.5 5.5-5.5-5.5zm1 6l5.5 5.5-5.5 5.5-5.5-5.5zm1 -42l5.5 5.5-5.5 5.5-5.5-5.5zm2 -9l5.5 5.5-5.5 5.5-5.5-5.5zm4 36l5.5 5.5-5.5 5.5-5.5-5.5zm1 -78l5.5 5.5-5.5 5.5-5.5-5.5zm2 52l5.5 5.5-5.5 5.5-5.5-5.5zm3 37l5.5 5.5-5.5 5.5-5.5-5.5zm1 -41l5.5 5.5-5.5 5.5-5.5-5.5zm0 -13l5.5 5.5-5.5 5.5-5.5-5.5zm1 19l5.5 5.5-5.5 5.5-5.5-5.5zm1 35l5.5 5.5-5.5 5.5-5.5-5.5zm1 -36l5.5 5.5-5.5 5.5-5.5-5.5zm0 30l5.5 5.5-5.5 5.5-5.5-5.5zm1 -3l5.5 5.5-5.5 5.5-5.5-5.5zm0 -24l5.5 5.5-5.5 5.5-5.5-5.5zm3 -6l5.5 5.5-5.5 5.5-5.5-5.5zm2 36l5.5 5.5-5.5 5.5-5.5-5.5zm1 1l5.5 5.5-5.5 5.5-5.5-5.5zm2 -26l5.5 5.5-5.5 5.5-5.5-5.5zm0 -1l5.5 5.5-5.5 5.5-5.5-5.5zm1 -47l5.5 5.5-5.5 5.5-5.5-5.5zm1 48l5.5 5.5-5.5 5.5-5.5-5.5zm1 24l5.5 5.5-5.5 5.5-5.5-5.5zm0 -37l5.5 5.5-5.5 5.5-5.5-5.5zm1 -45l5.5 5.5-5.5 5.5-5.5-5.5zm1 86l5.5 5.5-5.5 5.5-5.5-5.5zm0 -29l5.5 5.5-5.5 5.5-5.5-5.5zm1 -1l5.5 5.5-5.5 5.5-5.5-5.5zm0 34l5.5 5.5-5.5 5.5-5.5-5.5zm2 -37l5.5 5.5-5.5 5.5-5.5-5.5zm1 -8l5.5 5.5-5.5 5.5-5.5-5.5zm0 39l5.5 5.5-5.5 5.5-5.5-5.5zm1 -27l5.5 5.5-5.5 5.5-5.5-5.5zm1 -5l5.5 5.5-5.5 5.5-5.5-5.5zm0 43l5.5 5.5-5.5 5.5-5.5-5.5zm1 -41l5.5 5.5-5.5 5.5-5.5-5.5zm1 0l5.5 5.5-5.5 5.5-5.5-5.5zm1 1l5.5 5.5-5.5 5.5-5.5-5.5zm2 -1l5.5 5.5-5.5 5.5-5.5-5.5zm1 -56l5.5 5.5-5.5 5.5-5.5-5.5zm1 44l5.5 5.5-5.5 5.5-5.5-5.5zm0 46l5.5 5.5-5.5 5.5-5.5-5.5zm2 -7l5.5 5.5-5.5 5.5-5.5-5.5zm1 -39l5.5 5.5-5.5 5.5-5.5-5.5zm0 44l5.5 5.5-5.5 5.5-5.5-5.5zm1 -5l5.5 5.5-5.5 5.5-5.5-5.5zm1 -30l5.5 5.5-5.5 5.5-5.5-5.5zm1 29l5.5 5.5-5.5 5.5-5.5-5.5zm1 -29l5.5 5.5-5.5 5.5-5.5-5.5zm0 2l5.5 5.5-5.5 5.5-5.5-5.5zm2 30l5.5 5.5-5.5 5.5-5.5-5.5zm2 -5l5.5 5.5-5.5 5.5-5.5-5.5zm0 -24l5.5 5.5-5.5 5.5-5.5-5.5zm1 25l5.5 5.5-5.5 5.5-5.5-5.5zm1 8l5.5 5.5-5.5 5.5-5.5-5.5zm1 -42l5.5 5.5-5.5 5.5-5.5-5.5zm1 38l5.5 5.5-5.5 5.5-5.5-5.5zm2 -39l5.5 5.5-5.5 5.5-5.5-5.5zm1 47l5.5 5.5-5.5 5.5-5.5-5.5zm1 -2l5.5 5.5-5.5 5.5-5.5-5.5zm0 -4l5.5 5.5-5.5 5.5-5.5-5.5zm1 -3l5.5 5.5-5.5 5.5-5.5-5.5zm0 -65l5.5 5.5-5.5 5.5-5.5-5.5zm2 60l5.5 5.5-5.5 5.5-5.5-5.5zm0 8l5.5 5.5-5.5 5.5-5.5-5.5zm1 -8l5.5 5.5-5.5 5.5-5.5-5.5zm0 1l5.5 5.5-5.5 5.5-5.5-5.5zm2 13l5.5 5.5-5.5 5.5-5.5-5.5zm0 -80l5.5 5.5-5.5 5.5-5.5-5.5zm1 40l5.5 5.5-5.5 5.5-5.5-5.5zm3 33l5.5 5.5-5.5 5.5-5.5-5.5zm1 4l5.5 5.5-5.5 5.5-5.5-5.5zm1 -1l5.5 5.5-5.5 5.5-5.5-5.5zm1 -56l5.5 5.5-5.5 5.5-5.5-5.5zm0 57l5.5 5.5-5.5 5.5-5.5-5.5zm2 -36l5.5 5.5-5.5 5.5-5.5-5.5zm2 -1l5.5 5.5-5.5 5.5-5.5-5.5zm0 40l5.5 5.5-5.5 5.5-5.5-5.5zm2 -36l5.5 5.5-5.5 5.5-5.5-5.5zm1 -10l5.5 5.5-5.5 5.5-5.5-5.5zm1 46l5.5 5.5-5.5 5.5-5.5-5.5zm2 -40l5.5 5.5-5.5 5.5-5.5-5.5zm1 -11l5.5 5.5-5.5 5.5-5.5-5.5zm1 49l5.5 5.5-5.5 5.5-5.5-5.5zm0 -36l5.5 5.5-5.5 5.5-5.5-5.5zm1 -47l5.5 5.5-5.5 5.5-5.5-5.5zm4 34l5.5 5.5-5.5 5.5-5.5-5.5zm0 50l5.5 5.5-5.5 5.5-5.5-5.5zm1 -14l5.5 5.5-5.5 5.5-5.5-5.5zm2 8l5.5 5.5-5.5 5.5-5.5-5.5zm3 -58l5.5 5.5-5.5 5.5-5.5-5.5zm0 19l5.5 5.5-5.5 5.5-5.5-5.5zm1 45l5.5 5.5-5.5 5.5-5.5-5.5zm0 -92l5.5 5.5-5.5 5.5-5.5-5.5zm1 79l5.5 5.5-5.5 5.5-5.5-5.5zm2 -26l5.5 5.5-5.5 5.5-5.5-5.5zm0 26l5.5 5.5-5.5 5.5-5.5-5.5zm1 -23l5.5 5.5-5.5 5.5-5.5-5.5zm0 24l5.5 5.5-5.5 5.5-5.5-5.5zm3 -24l5.5 5.5-5.5 5.5-5.5-5.5zm1 22l5.5 5.5-5.5 5.5-5.5-5.5zm2 -59l5.5 5.5-5.5 5.5-5.5-5.5zm1 8l5.5 5.5-5.5 5.5-5.5-5.5zm1 62l5.5 5.5-5.5 5.5-5.5-5.5zm0 -2l5.5 5.5-5.5 5.5-5.5-5.5zm1 -63l5.5 5.5-5.5 5.5-5.5-5.5zm2 33l5.5 5.5-5.5 5.5-5.5-5.5zm0 -5l5.5 5.5-5.5 5.5-5.5-5.5zm1 28l5.5 5.5-5.5 5.5-5.5-5.5zm2 5l5.5 5.5-5.5 5.5-5.5-5.5zm1 -30l5.5 5.5-5.5 5.5-5.5-5.5zm1 -25l5.5 5.5-5.5 5.5-5.5-5.5zm0 60l5.5 5.5-5.5 5.5-5.5-5.5zm2 -8l5.5 5.5-5.5 5.5-5.5-5.5zm2 -28l5.5 5.5-5.5 5.5-5.5-5.5zm0 35l5.5 5.5-5.5 5.5-5.5-5.5zm2 -42l5.5 5.5-5.5 5.5-5.5-5.5zm1 37l5.5 5.5-5.5 5.5-5.5-5.5zm2 14l5.5 5.5-5.5 5.5-5.5-5.5zm0 -36l5.5 5.5-5.5 5.5-5.5-5.5zm1 24l5.5 5.5-5.5 5.5-5.5-5.5zm1 -33l5.5 5.5-5.5 5.5-5.5-5.5zm1 32l5.5 5.5-5.5 5.5-5.5-5.5zm1 -24l5.5 5.5-5.5 5.5-5.5-5.5zm1 30l5.5 5.5-5.5 5.5-5.5-5.5zm1 -5l5.5 5.5-5.5 5.5-5.5-5.5zm1 -57l5.5 5.5-5.5 5.5-5.5-5.5zm0 70l5.5 5.5-5.5 5.5-5.5-5.5zm1 -13l5.5 5.5-5.5 5.5-5.5-5.5zm1 -38l5.5 5.5-5.5 5.5-5.5-5.5zm0 36l5.5 5.5-5.5 5.5-5.5-5.5zm1 15l5.5 5.5-5.5 5.5-5.5-5.5zm1 -7l5.5 5.5-5.5 5.5-5.5-5.5zm2 -4l5.5 5.5-5.5 5.5-5.5-5.5zm0 4l5.5 5.5-5.5 5.5-5.5-5.5zm2 6l5.5 5.5-5.5 5.5-5.5-5.5zm0 -35l5.5 5.5-5.5 5.5-5.5-5.5zm1 29l5.5 5.5-5.5 5.5-5.5-5.5zm0 -34l5.5 5.5-5.5 5.5-5.5-5.5zm3 -2l5.5 5.5-5.5 5.5-5.5-5.5zm2 33l5.5 5.5-5.5 5.5-5.5-5.5zm1 -24l5.5 5.5-5.5 5.5-5.5-5.5zm0 28l5.5 5.5-5.5 5.5-5.5-5.5zm1 9l5.5 5.5-5.5 5.5-5.5-5.5zm1 -10l5.5 5.5-5.5 5.5-5.5-5.5zm1 -25l5.5 5.5-5.5 5.5-5.5-5.5zm1 23l5.5 5.5-5.5 5.5-5.5-5.5zm1 8l5.5 5.5-5.5 5.5-5.5-5.5zm1 -37l5.5 5.5-5.5 5.5-5.5-5.5zm1 2l5.5 5.5-5.5 5.5-5.5-5.5zm1 28l5.5 5.5-5.5 5.5-5.5-5.5zm3 0l5.5 5.5-5.5 5.5-5.5-5.5zm1 -23l5.5 5.5-5.5 5.5-5.5-5.5zm2 32l5.5 5.5-5.5 5.5-5.5-5.5zm1 -46l5.5 5.5-5.5 5.5-5.5-5.5zm3 35l5.5 5.5-5.5 5.5-5.5-5.5zm1 13l5.5 5.5-5.5 5.5-5.5-5.5zm1 -41l5.5 5.5-5.5 5.5-5.5-5.5zm1 -41l5.5 5.5-5.5 5.5-5.5-5.5zm3 71l5.5 5.5-5.5 5.5-5.5-5.5zm1 -5l5.5 5.5-5.5 5.5-5.5-5.5zm0 3l5.5 5.5-5.5 5.5-5.5-5.5zm1 0l5.5 5.5-5.5 5.5-5.5-5.5zm1 -32l5.5 5.5-5.5 5.5-5.5-5.5zm1 3l5.5 5.5-5.5 5.5-5.5-5.5zm3 29l5.5 5.5-5.5 5.5-5.5-5.5zm0 -40l5.5 5.5-5.5 5.5-5.5-5.5zm1 43l5.5 5.5-5.5 5.5-5.5-5.5zm1 -28l5.5 5.5-5.5 5.5-5.5-5.5zm2 -15l5.5 5.5-5.5 5.5-5.5-5.5zm0 15l5.5 5.5-5.5 5.5-5.5-5.5zm1 -14l5.5 5.5-5.5 5.5-5.5-5.5zm0 -11l5.5 5.5-5.5 5.5-5.5-5.5zm1 17l5.5 5.5-5.5 5.5-5.5-5.5zm1 28l5.5 5.5-5.5 5.5-5.5-5.5zm0 -21l5.5 5.5-5.5 5.5-5.5-5.5zm1 23l5.5 5.5-5.5 5.5-5.5-5.5zm1 -30l5.5 5.5-5.5 5.5-5.5-5.5zm1 -37l5.5 5.5-5.5 5.5-5.5-5.5zm0 40l5.5 5.5-5.5 5.5-5.5-5.5zm1 -8l5.5 5.5-5.5 5.5-5.5-5.5zm1 13l5.5 5.5-5.5 5.5-5.5-5.5zm3 -32l5.5 5.5-5.5 5.5-5.5-5.5zm1 31l5.5 5.5-5.5 5.5-5.5-5.5zm1 24l5.5 5.5-5.5 5.5-5.5-5.5zm0 6l5.5 5.5-5.5 5.5-5.5-5.5zm1 5l5.5 5.5-5.5 5.5-5.5-5.5zm2 -48l5.5 5.5-5.5 5.5-5.5-5.5zm1 39l5.5 5.5-5.5 5.5-5.5-5.5zm1 -2l5.5 5.5-5.5 5.5-5.5-5.5zm1 -29l5.5 5.5-5.5 5.5-5.5-5.5zm0 -49l5.5 5.5-5.5 5.5-5.5-5.5zm1 50l5.5 5.5-5.5 5.5-5.5-5.5zm0 31l5.5 5.5-5.5 5.5-5.5-5.5zm1 -39l5.5 5.5-5.5 5.5-5.5-5.5zm0 -2l5.5 5.5-5.5 5.5-5.5-5.5zm1 37l5.5 5.5-5.5 5.5-5.5-5.5zm2 5l5.5 5.5-5.5 5.5-5.5-5.5zm1 8l5.5 5.5-5.5 5.5-5.5-5.5zm3 -11l5.5 5.5-5.5 5.5-5.5-5.5zm2 -28l5.5 5.5-5.5 5.5-5.5-5.5zm1 35l5.5 5.5-5.5 5.5-5.5-5.5zm2 -42l5.5 5.5-5.5 5.5-5.5-5.5zm2 34l5.5 5.5-5.5 5.5-5.5-5.5zm1 -3l5.5 5.5-5.5 5.5-5.5-5.5zm1 4l5.5 5.5-5.5 5.5-5.5-5.5zm2 -2l5.5 5.5-5.5 5.5-5.5-5.5zm0 -4l5.5 5.5-5.5 5.5-5.5-5.5zm1 4l5.5 5.5-5.5 5.5-5.5-5.5zm1 -30l5.5 5.5-5.5 5.5-5.5-5.5zm0 36l5.5 5.5-5.5 5.5-5.5-5.5zm2 -37l5.5 5.5-5.5 5.5-5.5-5.5zm1 25l5.5 5.5-5.5 5.5-5.5-5.5zm0 8l5.5 5.5-5.5 5.5-5.5-5.5zm1 -29l5.5 5.5-5.5 5.5-5.5-5.5zm3 -3l5.5 5.5-5.5 5.5-5.5-5.5zm0 40l5.5 5.5-5.5 5.5-5.5-5.5zm1 -36l5.5 5.5-5.5 5.5-5.5-5.5zm3 30l5.5 5.5-5.5 5.5-5.5-5.5zm1 -36l5.5 5.5-5.5 5.5-5.5-5.5zm2 6l5.5 5.5-5.5 5.5-5.5-5.5zm1 27l5.5 5.5-5.5 5.5-5.5-5.5zm0 -39l5.5 5.5-5.5 5.5-5.5-5.5zm1 39l5.5 5.5-5.5 5.5-5.5-5.5zm1 -27l5.5 5.5-5.5 5.5-5.5-5.5zm1 -2l5.5 5.5-5.5 5.5-5.5-5.5zm0 -2l5.5 5.5-5.5 5.5-5.5-5.5zm1 -42l5.5 5.5-5.5 5.5-5.5-5.5zm2 41l5.5 5.5-5.5 5.5-5.5-5.5zm1 -3l5.5 5.5-5.5 5.5-5.5-5.5zm2 45l5.5 5.5-5.5 5.5-5.5-5.5zm1 -55l5.5 5.5-5.5 5.5-5.5-5.5zm0 47l5.5 5.5-5.5 5.5-5.5-5.5zm1 12l5.5 5.5-5.5 5.5-5.5-5.5zm1 -46l5.5 5.5-5.5 5.5-5.5-5.5zm0 -42l5.5 5.5-5.5 5.5-5.5-5.5zm1 53l5.5 5.5-5.5 5.5-5.5-5.5zm1 26l5.5 5.5-5.5 5.5-5.5-5.5zm0 3l5.5 5.5-5.5 5.5-5.5-5.5zm2 -39l5.5 5.5-5.5 5.5-5.5-5.5zm1 -14l5.5 5.5-5.5 5.5-5.5-5.5zm2 24l5.5 5.5-5.5 5.5-5.5-5.5zm1 -8l5.5 5.5-5.5 5.5-5.5-5.5zm0 3l5.5 5.5-5.5 5.5-5.5-5.5zm2 -4l5.5 5.5-5.5 5.5-5.5-5.5zm1 31l5.5 5.5-5.5 5.5-5.5-5.5zm3 -23l5.5 5.5-5.5 5.5-5.5-5.5zm0 -7l5.5 5.5-5.5 5.5-5.5-5.5zm1 36l5.5 5.5-5.5 5.5-5.5-5.5zm3 -7l5.5 5.5-5.5 5.5-5.5-5.5zm1 -26l5.5 5.5-5.5 5.5-5.5-5.5zm0 -7l5.5 5.5-5.5 5.5-5.5-5.5zm1 33l5.5 5.5-5.5 5.5-5.5-5.5zm0 14l5.5 5.5-5.5 5.5-5.5-5.5zm3 -51l5.5 5.5-5.5 5.5-5.5-5.5zm2 49l5.5 5.5-5.5 5.5-5.5-5.5zm1 -34l5.5 5.5-5.5 5.5-5.5-5.5zm1 29l5.5 5.5-5.5 5.5-5.5-5.5zm1 -41l5.5 5.5-5.5 5.5-5.5-5.5zm1 7l5.5 5.5-5.5 5.5-5.5-5.5zm2 -8l5.5 5.5-5.5 5.5-5.5-5.5zm1 51l5.5 5.5-5.5 5.5-5.5-5.5zm0 -46l5.5 5.5-5.5 5.5-5.5-5.5zm1 11l5.5 5.5-5.5 5.5-5.5-5.5zm2 -43l5.5 5.5-5.5 5.5-5.5-5.5zm0 73l5.5 5.5-5.5 5.5-5.5-5.5zm1 -44l5.5 5.5-5.5 5.5-5.5-5.5zm0 13l5.5 5.5-5.5 5.5-5.5-5.5zm2 37l5.5 5.5-5.5 5.5-5.5-5.5zm1 -39l5.5 5.5-5.5 5.5-5.5-5.5zm1 28l5.5 5.5-5.5 5.5-5.5-5.5zm0 -40l5.5 5.5-5.5 5.5-5.5-5.5zm3 52l5.5 5.5-5.5 5.5-5.5-5.5zm0 -39l5.5 5.5-5.5 5.5-5.5-5.5zm1 -9l5.5 5.5-5.5 5.5-5.5-5.5zm1 10l5.5 5.5-5.5 5.5-5.5-5.5zm0 27l5.5 5.5-5.5 5.5-5.5-5.5zm1 -35l5.5 5.5-5.5 5.5-5.5-5.5zm1 4l5.5 5.5-5.5 5.5-5.5-5.5zm1 6l5.5 5.5-5.5 5.5-5.5-5.5zm1 -5l5.5 5.5-5.5 5.5-5.5-5.5zm1 -5l5.5 5.5-5.5 5.5-5.5-5.5zm0 14l5.5 5.5-5.5 5.5-5.5-5.5zm2 20l5.5 5.5-5.5 5.5-5.5-5.5zm2 -24l5.5 5.5-5.5 5.5-5.5-5.5zm1 -11l5.5 5.5-5.5 5.5-5.5-5.5zm0 12l5.5 5.5-5.5 5.5-5.5-5.5zm1 -10l5.5 5.5-5.5 5.5-5.5-5.5zm1 33l5.5 5.5-5.5 5.5-5.5-5.5zm0 10l5.5 5.5-5.5 5.5-5.5-5.5zm1 -9l5.5 5.5-5.5 5.5-5.5-5.5zm1 -32l5.5 5.5-5.5 5.5-5.5-5.5zm1 7l5.5 5.5-5.5 5.5-5.5-5.5zm0 -51l5.5 5.5-5.5 5.5-5.5-5.5zm2 51l5.5 5.5-5.5 5.5-5.5-5.5zm0 25l5.5 5.5-5.5 5.5-5.5-5.5zm2 -27l5.5 5.5-5.5 5.5-5.5-5.5zm2 -5l5.5 5.5-5.5 5.5-5.5-5.5zm1 -1l5.5 5.5-5.5 5.5-5.5-5.5zm0 28l5.5 5.5-5.5 5.5-5.5-5.5zm1 1l5.5 5.5-5.5 5.5-5.5-5.5zm3 -3l5.5 5.5-5.5 5.5-5.5-5.5zm0 10l5.5 5.5-5.5 5.5-5.5-5.5zm3 -33l5.5 5.5-5.5 5.5-5.5-5.5zm1 1l5.5 5.5-5.5 5.5-5.5-5.5zm0 -37l5.5 5.5-5.5 5.5-5.5-5.5zm1 32l5.5 5.5-5.5 5.5-5.5-5.5zm-741 206l5.5 5.5-5.5 5.5-5.5-5.5zm0 -134l5.5 5.5-5.5 5.5-5.5-5.5zm373 -148l5.5 5.5-5.5 5.5-5.5-5.5zm50 15l5.5 5.5-5.5 5.5-5.5-5.5zm-139 -30l5.5 5.5-5.5 5.5-5.5-5.5zm306 43l5.5 5.5-5.5 5.5-5.5-5.5z" fill="#008000"/>
<path d="M682.8 80.0 684.8 80.0 686.8 80.0 688.7 80.0 690.7 80.0 692.7 80.0 694.7 80.0 696.7 80.0 698.6 80.0 700.6 80.0 702.6 80.0 704.6 80.0 706.5 80.0 708.5 80.0 710.5 80.0 712.5 80.0 714.4 80.0 716.4 84.9 723.8 113.0 731.2 134.9 738.7 153.4 746.1 169.8 753.5 184.9 760.9 195.2 768.3 201.8 775.7 207.6 783.1 213.6 790.5 218.7 798.0 221.7 805.4 224.2 812.8 228.9 820.2 235.2 827.6 239.7 835.0 242.1 842.4 245.5 849.9 251.4 857.3 257.1 864.7 259.7 884.4 263.0 904.2 264.8 924.0 268.8 943.8 273.1 963.5 284.0 983.3 286.5 1003.1 294.4 1022.8 295.3 1042.6 300.3 1062.4 300.4 1082.1 300.1 1101.9 304.0 1121.7 306.1 1141.4 314.1 1161.2 312.5 1181.0 316.4 1200.7 317.1 1220.5 324.1 1240.3 328.9 1260.0 329.2 1279.8 332.1 1299.6 331.3 1319.3 339.9 1339.1 342.0 1358.9 349.4 1378.6 352.1 1398.4 356.2 1418.2 357.6 1438.0 352.9 1457.7 353.5 1477.5 351.7 1497.3 360.2 1517.0 361.0 1536.8 363.1 1556.6 359.6 1556.6 395.2 1536.8 398.7 1517.0 396.5 1497.3 395.8 1477.5 387.2 1457.7 389.0 1438.0 388.5 1418.2 393.2 1398.4 391.7 1378.6 387.7 1358.9 385.0 1339.1 377.5 1319.3 375.5 1299.6 366.9 1279.8 367.7 1260.0 364.8 1240.3 364.5 1220.5 359.7 1200.7 352.7 1181.0 352.0 1161.2 348.0 1141.4 349.7 1121.7 341.7 1101.9 339.6 1082.1 335.7 1062.4 336.0 1042.6 335.9 1022.8 330.9 1003.1 329.9 983.3 322.1 963.5 319.6 943.8 308.7 924.0 304.4 904.2 300.3 884.4 298.6 864.7 295.3 857.3 292.7 849.9 287.0 842.4 281.1 835.0 277.7 827.6 275.2 820.2 270.7 812.8 264.5 805.4 259.8 798.0 257.3 790.5 254.3 783.1 249.2 775.7 243.2 768.3 237.4 760.9 230.8 753.5 220.5 746.1 205.4 738.7 188.9 731.2 170.4 723.8 148.6 716.4 120.5 714.4 111.3 712.5 101.3 710.5 90.6 708.5 80.0 706.5 80.0 704.6 80.0 702.6 80.0 700.6 80.0 698.6 80.0 696.7 80.0 694.7 80.0 692.7 80.0 690.7 80.0 688.7 80.0 686.8 80.0 684.8 80.0 682.8 80.0z" fill="#000080" stroke="#000080" stroke-width="9" stroke-linejoin="round"/>
<path d="M707 112l9 -5v10zm1 -8l9 -5v10zm2 7l9 -5v10zm3 14l9 -5v10zm0 -3l9 -5v10zm6 -16l9 -5v10zm0 5l9 -5v10zm2 42l9 -5v10zm2 -22l9 -5v10zm1 1l9 -5v10zm1 37l9 -5v10zm1 -46l9 -5v10zm2 7l9 -5v10zm2 46l9 -5v10zm1 5l9 -5v10zm4 -21l9 -5v10zm3 43l9 -5v10zm0 -4l9 -5v10zm1 -2l9 -5v10zm0 4l9 -5v10zm1 -30l9 -5v10zm0 26l9 -5v10zm1 7l9 -5v10zm1 9l9 -5v10zm2 -32l9 -5v10zm1 36l9 -5v10zm1 -55l9 -5v10zm1 19l9 -5v10zm1 34l9 -5v10zm4 -24l9 -5v10zm3 7l9 -5v10zm1 -57l9 -5v10zm0 95l9 -5v10zm1 -3l9 -5v10zm1 -39l9 -5v10zm0 -3l9 -5v10zm1 37l9 -5v10zm1 20l9 -5v10zm2 -50l9 -5v10zm0 -52l9 -5v10zm3 42l9 -5v10zm1 50l9 -5v10zm1 -32l9 -5v10zm1 -42l9 -5v10zm2 78l9 -5v10zm2 -40l9 -5v10zm2 4l9 -5v10zm0 47l9 -5v10zm1 -57l9 -5v10zm1 18l9 -5v10zm0 29l9 -5v10zm2 -45l9 -5v10zm2 55l9 -5v10zm0 12l9 -5v10zm4 -5l9 -5v10zm0 -47l9 -5v10zm1 10l9 -5v10zm0 1l9 -5v10zm3 0l9 -5v10zm1 2l9 -5v10zm1 0l9 -5v10zm1 -15l9 -5v10zm3 14l9 -5v10zm1 2l9 -5v10zm1 27l9 -5v10zm2 17l9 -5v10zm2 -3l9 -5v10zm1 -4l9 -5v10zm1 -42l9 -5v10zm1 33l9 -5v10zm0 12l9 -5v10zm1 -62l9 -5v10zm2 22l9 -5v10zm1 31l9 -5v10zm1 -27l9 -5v10zm1 49l9 -5v10zm1 -50l9 -5v10zm0 47l9 -5v10zm1 -42l9 -5v10zm2 -47l9 -5v10zm1 82l9 -5v10zm1 15l9 -5v10zm3 -56l9 -5v10zm1 13l9 -5v10zm1 -10l9 -5v10zm1 7l9 -5v10zm0 -9l9 -5v10zm1 12l9 -5v10zm1 35l9 -5v10zm0 -49l9 -5v10zm1 42l9 -5v10zm1 14l9 -5v10zm2 -38l9 -5v10zm1 -10l9 -5v10zm1 45l9 -5v10zm2 -45l9 -5v10zm2 48l9 -5v10zm0 -38l9 -5v10zm1 -10l9 -5v10zm2 43l9 -5v10zm1 -31l9 -5v10zm4 35l9 -5v10zm0 4l9 -5v10zm1 -33l9 -5v10zm0 -9l9 -5v10zm1 1l9 -5v10zm0 33l9 -5v10zm1 -34l9 -5v10zm0 0l9 -5v10zm2 -1l9 -5v10zm1 9l9 -5v10zm1 5l9 -5v10zm2 30l9 -5v10zm1 -37l9 -5v10zm2 37l9 -5v10zm1 -26l9 -5v10zm1 2l9 -5v10zm0 24l9 -5v10zm1 3l9 -5v10zm0 -2l9 -5v10zm1 7l9 -5v10zm1 -32l9 -5v10zm1 0l9 -5v10zm1 1l9 -5v10zm0 27l9 -5v10zm1 1l9 -5v10zm1 -31l9 -5v10zm2 41l9 -5v10zm1 -47l9 -5v10zm1 7l9 -5v10zm1 39l9 -5v10zm1 -41l9 -5v10zm0 -3l9 -5v10zm1 -5l9 -5v10zm2 42l9 -5v10zm1 -62l9 -5v10zm2 27l9 -5v10zm1 -17l9 -5v10zm1 51l9 -5v10zm0 -2l9 -5v10zm1 20l9 -5v10zm1 -62l9 -5v10zm1 43l9 -5v10zm2 10l9 -5v10zm1 -48l9 -5v10zm0 54l9 -5v10zm1 -14l9 -5v10zm2 -25l9 -5v10zm0 -5l9 -5v10zm1 34l9 -5v10zm1 -38l9 -5v10zm0 43l9 -5v10zm2 -40l9 -5v10zm1 4l9 -5v10zm1 3l9 -5v10zm4 35l9 -5v10zm1 10l9 -5v10zm1 -21l9 -5v10zm0 -24l9 -5v10zm1 45l9 -5v10zm0 -83l9 -5v10zm1 73l9 -5v10zm2 -56l9 -5v10zm1 44l9 -5v10zm1 -50l9 -5v10zm1 -26l9 -5v10zm0 45l9 -5v10zm1 31l9 -5v10zm1 -27l9 -5v10zm1 38l9 -5v10zm1 -41l9 -5v10zm1 -11l9 -5v10zm1 47l9 -5v10zm1 -5l9 -5v10zm0 -39l9 -5v10zm1 4l9 -5v10zm0 36l9 -5v10zm2 11l9 -5v10zm0 -8l9 -5v10zm3 -36l9 -5v10zm1 40l9 -5v10zm1 5l9 -5v10zm0 -44l9 -5v10zm1 1l9 -5v10zm1 -8l9 -5v10zm0 42l9 -5v10zm1 3l9 -5v10zm1 -41l9 -5v10zm2 5l9 -5v10zm2 5l9 -5v10zm1 -2l9 -5v10zm2 -8l9 -5v10zm1 9l9 -5v10zm2 8l9 -5v10zm2 25l9 -5v10zm1 2l9 -5v10zm3 0l9 -5v10zm1 -27l9 -5v10zm0 -12l9 -5v10zm1 8l9 -5v10zm1 -3l9 -5v10zm0 35l9 -5v10zm1 1l9 -5v10zm2 -83l9 -5v10zm2 82l9 -5v10zm1 13l9 -5v10zm2 -7l9 -5v10zm0 -2l9 -5v10zm1 1l9 -5v10zm0 4l9 -5v10zm1 -6l9 -5v10zm1 -43l9 -5v10zm1 56l9 -5v10zm1 -4l9 -5v10zm1 -5l9 -5v10zm1 -51l9 -5v10zm2 24l9 -5v10zm0 4l9 -5v10zm2 32l9 -5v10zm1 -47l9 -5v10zm1 6l9 -5v10zm0 36l9 -5v10zm1 11l9 -5v10zm0 -12l9 -5v10zm1 -27l9 -5v10zm1 27l9 -5v10zm0 -26l9 -5v10zm2 -10l9 -5v10zm1 -35l9 -5v10zm1 81l9 -5v10zm1 -46l9 -5v10zm1 36l9 -5v10zm1 1l9 -5v10zm1 -2l9 -5v10zm1 -30l9 -5v10zm1 -11l9 -5v10zm1 50l9 -5v10zm0 1l9 -5v10zm1 -37l9 -5v10zm0 4l9 -5v10zm1 27l9 -5v10zm1 -37l9 -5v10zm4 47l9 -5v10zm1 -2l9 -5v10zm1 -6l9 -5v10zm1 19l9 -5v10zm0 -3l9 -5v10zm2 -6l9 -5v10zm1 -34l9 -5v10zm1 35l9 -5v10zm2 -43l9 -5v10zm2 37l9 -5v10zm1 -31l9 -5v10zm1 35l9 -5v10zm1 -5l9 -5v10zm1 20l9 -5v10zm1 -46l9 -5v10zm1 30l9 -5v10zm0 6l9 -5v10zm1 -43l9 -5v10zm0 40l9 -5v10zm2 -7l9 -5v10zm3 -31l9 -5v10zm2 -7l9 -5v10zm0 1l9 -5v10zm1 46l9 -5v10zm0 10l9 -5v10zm2 -46l9 -5v10zm1 0l9 -5v10zm2 -1l9 -5v10zm2 28l9 -5v10zm0 -33l9 -5v10zm1 9l9 -5v10zm1 -20l9 -5v10zm1 16l9 -5v10zm0 -12l9 -5v10zm1 13l9 -5v10zm2 5l9 -5v10zm0 -13l9 -5v10zm1 -27l9 -5v10zm1 66l9 -5v10zm1 20l9 -5v10zm0 -44l9 -5v10zm1 -40l9 -5v10zm0 70l9 -5v10zm2 6l9 -5v10zm1 -92l9 -5v10zm1 84l9 -5v10zm1 6l9 -5v10zm2 12l9 -5v10zm1 -57l9 -5v10zm0 43l9 -5v10zm1 -37l9 -5v10zm2 35l9 -5v10zm0 8l9 -5v10zm1 -58l9 -5v10zm0 52l9 -5v10zm1 -40l9 -5v10zm2 50l9 -5v10zm1 -10l9 -5v10zm0 6l9 -5v10zm1 -38l9 -5v10zm2 -1l9 -5v10zm0 28l9 -5v10zm1 -32l9 -5v10zm0 3l9 -5v10zm1 30l9 -5v10zm2 -42l9 -5v10zm1 3l9 -5v10zm0 -30l9 -5v10zm2 32l9 -5v10zm1 9l9 -5v10zm2 -36l9 -5v10zm1 78l9 -5v10zm1 -43l9 -5v10zm0 2l9 -5v10zm1 36l9 -5v10zm0 -7l9 -5v10zm1 -48l9 -5v10zm3 46l9 -5v10zm1 -32l9 -5v10zm1 32l9 -5v10zm0 -26l9 -5v10zm1 -15l9 -5v10zm1 61l9 -5v10zm1 -52l9 -5v10zm0 -9l9 -5v10zm1 10l9 -5v10zm1 6l9 -5v10zm0 -21l9 -5v10zm2 17l9 -5v10zm1 47l9 -5v10zm1 -18l9 -5v10zm2 12l9 -5v10zm1 -58l9 -5v10zm0 6l9 -5v10zm1 42l9 -5v10zm0 2l9 -5v10zm2 0l9 -5v10zm1 -40l9 -5v10zm1 5l9 -5v10zm1 0l9 -5v10zm1 29l9 -5v10zm1 14l9 -5v10zm0 -80l9 -5v10zm1 72l9 -5v10zm3 -36l9 -5v10zm1 50l9 -5v10zm1 -16l9 -5v10zm0 -32l9 -5v10zm1 29l9 -5v10zm0 4l9 -5v10zm1 -30l9 -5v10zm0 32l9 -5v10zm1 -32l9 -5v10zm1 45l9 -5v10zm1 -49l9 -5v10zm0 46l9 -5v10zm1 -8l9 -5v10zm1 1l9 -5v10zm2 -2l9 -5v10zm1 -1l9 -5v10zm4 -26l9 -5v10zm1 26l9 -5v10zm1 -41l9 -5v10zm1 13l9 -5v10zm0 28l9 -5v10zm1 10l9 -5v10zm1 -36l9 -5v10zm1 29l9 -5v10zm1 -91l9 -5v10zm1 59l9 -5v10zm1 2l9 -5v10zm1 -11l9 -5v10zm0 39l9 -5v10zm1 -2l9 -5v10zm1 -46l9 -5v10zm1 14l9 -5v10zm1 43l9 -5v10zm1 -9l9 -5v10zm0 -70l9 -5v10zm1 81l9 -5v10zm0 -4l9 -5v10zm1 -33l9 -5v10zm0 -7l9 -5v10zm1 -23l9 -5v10zm0 58l9 -5v10zm2 4l9 -5v10zm1 -30l9 -5v10zm2 -3l9 -5v10zm1 1l9 -5v10zm2 36l9 -5v10zm1 -43l9 -5v10zm1 2l9 -5v10zm0 4l9 -5v10zm1 47l9 -5v10zm2 -10l9 -5v10zm0 -30l9 -5v10zm1 0l9 -5v10zm1 30l9 -5v10zm1 -33l9 -5v10zm1 44l9 -5v10zm2 -3l9 -5v10zm0 -8l9 -5v10zm1 16l9 -5v10zm1 -48l9 -5v10zm0 0l9 -5v10zm1 -1l9 -5v10zm1 32l9 -5v10zm2 -3l9 -5v10zm0 7l9 -5v10zm1 -38l9 -5v10zm0 0l9 -5v10zm1 -16l9 -5v10zm3 20l9 -5v10zm0 25l9 -5v10zm1 5l9 -5v10zm1 15l9 -5v10zm1 -16l9 -5v10zm0 3l9 -5v10zm1 -59l9 -5v10zm1 14l9 -5v10zm2 -44l9 -5v10zm0 58l9 -5v10zm1 0l9 -5v10zm0 28l9 -5v10zm3 -48l9 -5v10zm2 61l9 -5v10zm1 -51l9 -5v10zm1 -1l9 -5v10zm1 45l9 -5v10zm1 -4l9 -5v10zm3 -1l9 -5v10zm0 -46l9 -5v10zm1 47l9 -5v10zm2 -2l9 -5v10zm0 -33l9 -5v10zm1 6l9 -5v10zm0 30l9 -5v10zm1 -90l9 -5v10zm2 42l9 -5v10zm1 2l9 -5v10zm1 9l9 -5v10zm1 -4l9 -5v10zm1 40l9 -5v10zm0 0l9 -5v10zm3 -32l9 -5v10zm0 -9l9 -5v10zm1 40l9 -5v10zm0 -30l9 -5v10zm1 -18l9 -5v10zm3 10l9 -5v10zm1 10l9 -5v10zm0 26l9 -5v10zm1 13l9 -5v10zm0 -9l9 -5v10zm1 -58l9 -5v10zm0 54l9 -5v10zm1 1l9 -5v10zm2 -32l9 -5v10zm2 -1l9 -5v10zm1 42l9 -5v10zm0 -2l9 -5v10zm1 -46l9 -5v10zm1 8l9 -5v10zm0 39l9 -5v10zm2 -28l9 -5v10zm1 38l9 -5v10zm1 -43l9 -5v10zm1 42l9 -5v10zm0 5l9 -5v10zm1 0l9 -5v10zm1 -10l9 -5v10zm2 -51l9 -5v10zm1 49l9 -5v10zm1 -29l9 -5v10zm0 36l9 -5v10zm1 -43l9 -5v10zm2 43l9 -5v10zm1 -9l9 -5v10zm2 -32l9 -5v10zm1 5l9 -5v10zm0 -2l9 -5v10zm3 29l9 -5v10zm1 -36l9 -5v10zm2 11l9 -5v10zm1 44l9 -5v10zm0 -54l9 -5v10zm2 7l9 -5v10zm2 0l9 -5v10zm1 -3l9 -5v10zm2 11l9 -5v10zm0 -19l9 -5v10zm2 18l9 -5v10zm2 -15l9 -5v10zm1 18l9 -5v10zm1 -11l9 -5v10zm1 46l9 -5v10zm1 -38l9 -5v10zm0 34l9 -5v10zm3 1l9 -5v10zm1 -8l9 -5v10zm0 -38l9 -5v10zm2 13l9 -5v10zm2 -5l9 -5v10zm1 42l9 -5v10zm1 -46l9 -5v10zm0 -49l9 -5v10zm1 92l9 -5v10zm1 -58l9 -5v10zm1 17l9 -5v10zm0 0l9 -5v10zm1 41l9 -5v10zm0 -4l9 -5v10zm1 0l9 -5v10zm1 -4l9 -5v10zm3 -41l9 -5v10zm0 -44l9 -5v10zm1 97l9 -5v10zm1 1l9 -5v10zm1 -54l9 -5v10zm1 40l9 -5v10zm1 5l9 -5v10zm1 -88l9 -5v10zm2 55l9 -5v10zm1 32l9 -5v10zm0 -29l9 -5v10zm1 27l9 -5v10zm1 -38l9 -5v10zm2 12l9 -5v10zm2 1l9 -5v10zm0 -19l9 -5v10zm1 7l9 -5v10zm0 2l9 -5v10zm2 47l9 -5v10zm1 -50l9 -5v10zm0 46l9 -5v10zm1 -3l9 -5v10zm1 -30l9 -5v10zm1 24l9 -5v10zm1 -26l9 -5v10zm2 0l9 -5v10zm0 46l9 -5v10zm1 -51l9 -5v10zm1 -8l9 -5v10zm1 12l9 -5v10zm1 -14l9 -5v10zm2 57l9 -5v10zm1 4l9 -5v10zm0 -14l9 -5v10zm3 -39l9 -5v10zm0 -12l9 -5v10zm1 19l9 -5v10zm0 28l9 -5v10zm1 -29l9 -5v10zm1 -46l9 -5v10zm1 50l9 -5v10zm0 31l9 -5v10zm1 -3l9 -5v10zm1 -46l9 -5v10zm2 51l9 -5v10zm1 0l9 -5v10zm5 -77l9 -5v10zm2 19l9 -5v10zm1 -22l9 -5v10zm0 78l9 -5v10zm2 9l9 -5v10zm2 -4l9 -5v10zm3 -5l9 -5v10zm1 5l9 -5v10zm1 -1l9 -5v10zm0 -4l9 -5v10zm1 10l9 -5v10zm1 -35l9 -5v10zm4 36l9 -5v10zm0 -41l9 -5v10zm1 39l9 -5v10zm0 2l9 -5v10zm1 -34l9 -5v10zm0 27l9 -5v10zm1 -31l9 -5v10zm2 37l9 -5v10zm0 -3l9 -5v10zm2 1l9 -5v10zm0 -1l9 -5v10zm1 -4l9 -5v10zm1 -25l9 -5v10zm1 -27l9 -5v10zm0 -3l9 -5v10zm1 23l9 -5v10zm1 34l9 -5v10zm0 -38l9 -5v10zm1 -21l9 -5v10zm0 73l9 -5v10zm1 -38l9 -5v10zm1 0l9 -5v10zm0 -3l9 -5v10zm3 37l9 -5v10zm0 -36l9 -5v10zm1 0l9 -5v10zm0 3l9 -5v10zm1 -3l9 -5v10zm1 5l9 -5v10zm3 0l9 -5v10zm2 43l9 -5v10zm2 -53l9 -5v10zm1 37l9 -5v10zm0 2l9 -5v10zm3 4l9 -5v10zm1 -37l9 -5v10zm0 49l9 -5v10zm1 -90l9 -5v10zm4 26l9 -5v10zm0 17l9 -5v10zm1 2l9 -5v10zm1 -1l9 -5v10zm1 30l9 -5v10zm0 -30l9 -5v10zm1 35l9 -5v10zm0 -50l9 -5v10zm1 13l9 -5v10zm1 48l9 -5v10zm1 -46l9 -5v10zm2 -12l9 -5v10zm2 -2l9 -5v10zm1 57l9 -5v10zm1 -50l9 -5v10zm1 10l9 -5v10zm1 39l9 -5v10zm1 -8l9 -5v10zm2 -37l9 -5v10zm1 3l9 -5v10zm1 -2l9 -5v10zm1 -1l9 -5v10zm0 37l9 -5v10zm1 -35l9 -5v10zm1 1l9 -5v10zm1 35l9 -5v10zm0 -27l9 -5v10zm2 37l9 -5v10zm0 -8l9 -5v10zm2 6l9 -5v10zm1 10l9 -5v10zm2 -13l9 -5v10zm3 0l9 -5v10zm2 -5l9 -5v10zm2 9l9 -5v10zm1 0l9 -5v10zm0 -3l9 -5v10zm1 -53l9 -5v10zm1 19l9 -5v10zm0 -3l9 -5v10zm1 -5l9 -5v10zm2 7l9 -5v10zm0 33l9 -5v10zm1 15l9 -5v10zm0 -15l9 -5v10zm1 -37l9 -5v10zm0 8l9 -5v10zm3 25l9 -5v10zm0 -56l9 -5v10zm1 58l9 -5v10zm0 -33l9 -5v10zm1 33l9 -5v10zm1 -37l9 -5v10zm1 49l9 -5v10zm3 -44l9 -5v10zm0 42l9 -5v10zm1 -66l9 -5v10zm2 21l9 -5v10zm1 33l9 -5v10zm0 -47l9 -5v10zm2 20l9 -5v10zm0 -40l9 -5v10zm1 39l9 -5v10zm0 29l9 -5v10zm1 -31l9 -5v10zm1 -12l9 -5v10zm1 9l9 -5v10zm1 37l9 -5v10zm1 -10l9 -5v10zm0 18l9 -5v10zm1 3l9 -5v10zm1 -46l9 -5v10zm1 -5l9 -5v10zm0 50l9 -5v10zm1 -52l9 -5v10zm1 32l9 -5v10zm0 6l9 -5v10zm3 -36l9 -5v10zm0 -3l9 -5v10zm3 7l9 -5v10zm0 -2l9 -5v10zm1 3l9 -5v10zm0 32l9 -5v10zm2 -31l9 -5v10zm0 35l9 -5v10zm2 -42l9 -5v10zm1 7l9 -5v10zm1 -14l9 -5v10zm1 51l9 -5v10zm1 -42l9 -5v10zm2 37l9 -5v10zm1 -38l9 -5v10zm1 6l9 -5v10zm0 34l9 -5v10zm1 12l9 -5v10zm1 -19l9 -5v10zm1 -32l9 -5v10zm1 42l9 -5v10zm3 -58l9 -5v10zm2 -30l9 -5v10zm1 34l9 -5v10zm3 46l9 -5v10zm1 -5l9 -5v10zm3 -34l9 -5v10zm0 9l9 -5v10zm1 -5l9 -5v10zm0 34l9 -5v10zm1 1l9 -5v10zm1 -39l9 -5v10zm0 -30l9 -5v10zm1 35l9 -5v10zm1 5l9 -5v10zm3 -1l9 -5v10zm1 6l9 -5v10zm1 40l9 -5v10zm1 6l9 -5v10zm1 -15l9 -5v10zm2 -35l9 -5v10zm1 31l9 -5v10zm1 -83l9 -5v10zm1 38l9 -5v10zm1 8l9 -5v10zm3 8l9 -5v10zm1 30l9 -5v10zm1 20l9 -5v10zm1 -8l9 -5v10zm3 -48l9 -5v10zm0 9l9 -5v10zm1 -8l9 -5v10zm1 -2l9 -5v10zm0 -2l9 -5v10zm4 14l9 -5v10zm0 24l9 -5v10zm1 3l9 -5v10zm1 -30l9 -5v10zm0 1l9 -5v10zm1 -43l9 -5v10zm2 80l9 -5v10zm0 -7l9 -5v10zm1 -28l9 -5v10zm0 33l9 -5v10zm1 13l9 -5v10zm1 -6l9 -5v10zm1 -51l9 -5v10zm1 -18l9 -5v10zm1 62l9 -5v10zm0 -2l9 -5v10zm1 -3l9 -5v10zm1 -41l9 -5v10zm1 -20l9 -5v10zm1 61l9 -5v10zm1 0l9 -5v10zm1 -28l9 -5v10zm1 35l9 -5v10zm1 2l9 -5v10zm1 -63l9 -5v10zm1 55l9 -5v10zm2 0l9 -5v10zm4 2l9 -5v10zm1 7l9 -5v10zm3 -47l9 -5v10zm1 7l9 -5v10zm1 -4l9 -5v10zm1 -22l9 -5v10zm1 18l9 -5v10zm0 5l9 -5v10zm1 -11l9 -5v10zm1 49l9 -5v10zm1 -43l9 -5v10zm1 -1l9 -5v10zm1 9l9 -5v10zm2 0l9 -5v10zm0 -14l9 -5v10zm1 -39l9 -5v10zm0 83l9 -5v10zm-808 -192l9 -5v10zm-2 85l9 -5v10z" fill="#000080"/>
</g>
<rect x="645" y="105" width="931" height="3" fill="#999"/>
<rect x="645" y="108" width="931" height="3" fill="#333"/>
<rect x="645" y="105" width="3" height="698" fill="#000"/>
<rect x="1573" y="105" width="3" height="698" fill="#000"/>
<rect x="645" y="798" width="931" height="3" fill="#566"/>
<rect x="645" y="801" width="931" height="2" fill="#888"/>
<rect x="666.0" y="786" width="2" height="12" fill="#000"/>
<rect x="764.8" y="793" width="2" height="5" fill="#000"/>
<rect x="863.7" y="786" width="2" height="12" fill="#000"/>
<rect x="962.5" y="793" width="2" height="5" fill="#000"/>
<rect x="1061.4" y="786" width="2" height="12" fill="#000"/>
<rect x="1160.2" y="793" width="2" height="5" fill="#000"/>
<rect x="1259.0" y="786" width="2" height="12" fill="#000"/>
<rect x="1357.9" y="793" width="2" height="5" fill="#000"/>
<rect x="1456.7" y="786" width="2" height="12" fill="#000"/>
<rect x="1555.6" y="793" width="2" height="5" fill="#000"/>
<rect x="648" y="751.3" width="12" height="3" fill="#000"/>
<rect x="648" y="698.3" width="7" height="3" fill="#000"/>
<rect x="648" y="645.4" width="12" height="3" fill="#000"/>
<rect x="648" y="592.4" width="7" height="3" fill="#000"/>
<rect x="648" y="539.5" width="12" height="3" fill="#000"/>
<rect x="648" y="486.5" width="7" height="3" fill="#000"/>
<rect x="648" y="433.6" width="12" height="3" fill="#000"/>
<rect x="648" y="380.6" width="7" height="3" fill="#000"/>
<rect x="648" y="327.7" width="12" height="3" fill="#000"/>
<rect x="648" y="274.7" width="7" height="3" fill="#000"/>
<rect x="648" y="221.8" width="12" height="3" fill="#000"/>
<rect x="648" y="168.8" width="7" height="3" fill="#000"/>
<rect x="648" y="115.9" width="12" height="3" fill="#000"/>
<text x="667.0" y="841" class="il" text-anchor="middle">0</text>
<text x="864.7" y="841" class="il" text-anchor="middle">400</text>
<text x="1062.4" y="841" class="il" text-anchor="middle">800</text>
<text x="1260.0" y="841" class="il" text-anchor="middle">1200</text>
<text x="1457.7" y="841" class="il" text-anchor="middle">1600</text>
<text x="614" y="130.4" class="il" text-anchor="end" textLength="103" lengthAdjust="spacingAndGlyphs">3.0x10</text>
<text x="615" y="110.4" class="isup">-9</text>
<text x="614" y="236.3" class="il" text-anchor="end" textLength="103" lengthAdjust="spacingAndGlyphs">2.5x10</text>
<text x="615" y="216.3" class="isup">-9</text>
<text x="614" y="342.2" class="il" text-anchor="end" textLength="103" lengthAdjust="spacingAndGlyphs">2.0x10</text>
<text x="615" y="322.2" class="isup">-9</text>
<text x="614" y="448.1" class="il" text-anchor="end" textLength="103" lengthAdjust="spacingAndGlyphs">1.5x10</text>
<text x="615" y="428.1" class="isup">-9</text>
<text x="614" y="554.0" class="il" text-anchor="end" textLength="103" lengthAdjust="spacingAndGlyphs">1.0x10</text>
<text x="615" y="534.0" class="isup">-9</text>
<text x="604" y="659.9" class="il" text-anchor="end" textLength="99" lengthAdjust="spacingAndGlyphs">5.0x10</text>
<text x="605" y="639.9" class="isup">-10</text>
<text x="633" y="757.8" class="il" text-anchor="end">0.0</text>
</g>
<rect x="1637" y="106" width="350" height="439" fill="#fff" stroke="#333" stroke-width="2"/>
<rect x="1711.5" y="141.5" width="16" height="18" fill="#000"/>
<circle cx="1718.5" cy="223" r="9.6" fill="#f00"/>
<path d="M1719.5 281.5l11 19h-22z" fill="#00f"/>
<path d="M1719.5 378.5l11 -21h-22z" fill="#f0f"/>
<path d="M1720.5 425.5l12 12-12 12-12-12z" fill="#008000"/>
<path d="M1706 508l21.5 -12.2v24.4z" fill="#000080"/>
<text x="1798" y="169.0" class="lg">0%</text>
<text x="1798" y="240.5" class="lg">1wt%</text>
<text x="1798" y="312.0" class="lg">5wt%</text>
<text x="1798" y="383.5" class="lg">10wt%</text>
<text x="1798" y="455.0" class="lg">20wt%</text>
<text x="1798" y="526.5" class="lg">30wt%</text>
</svg>
</body></html>
